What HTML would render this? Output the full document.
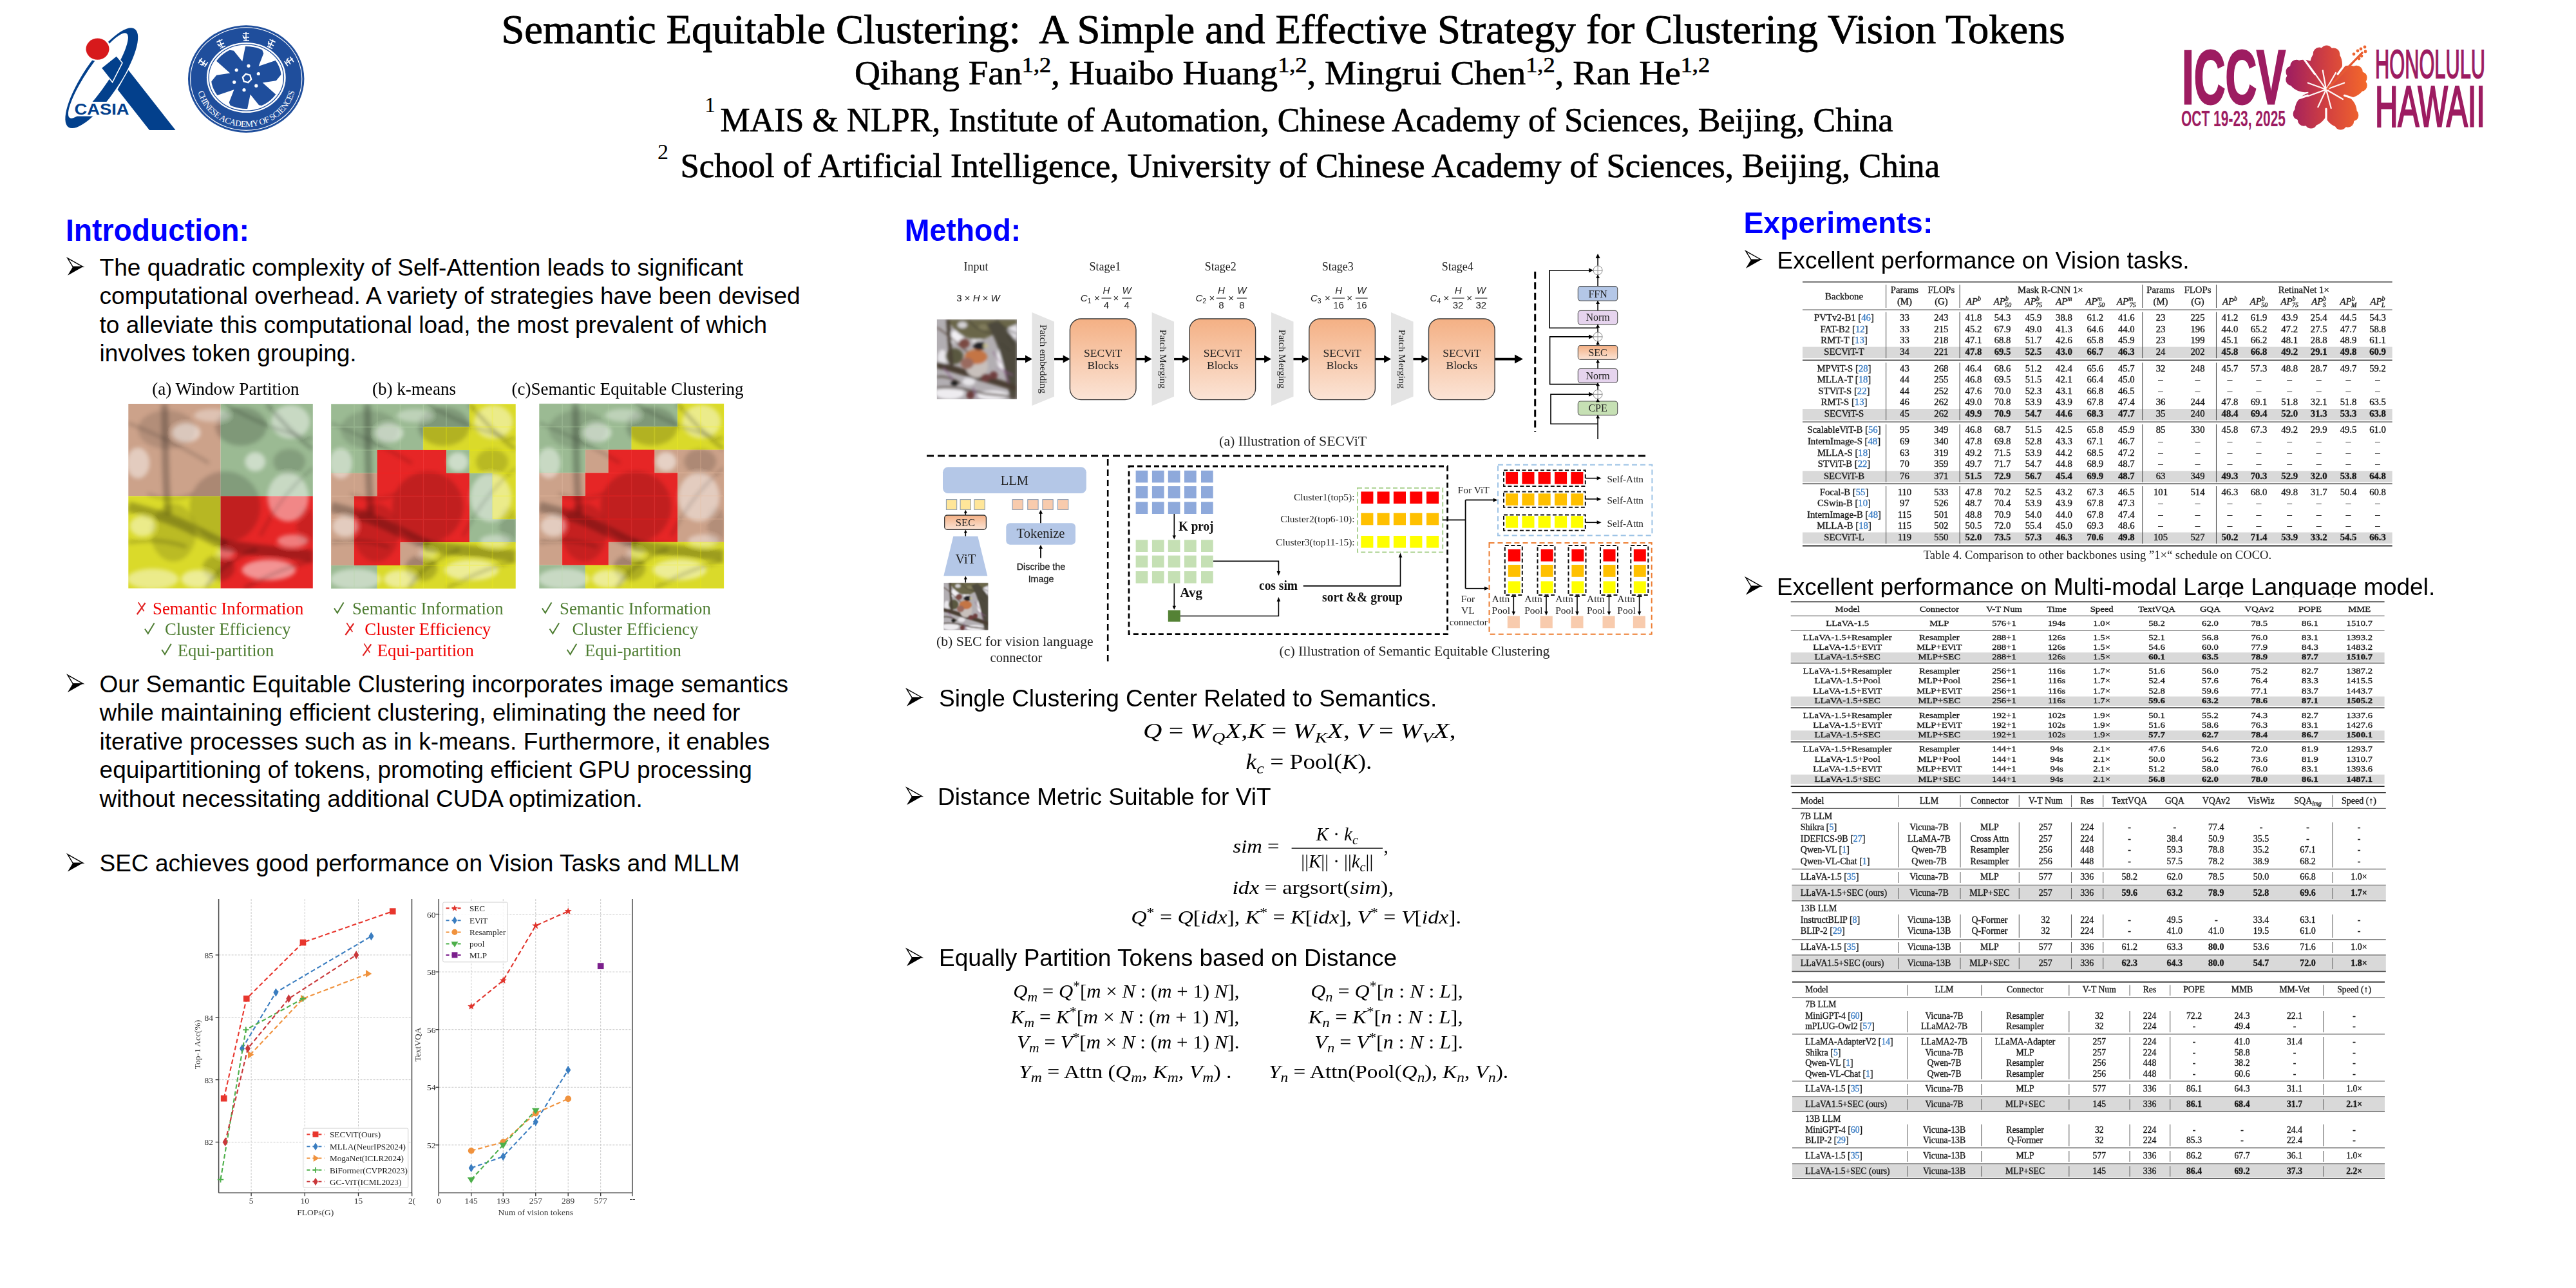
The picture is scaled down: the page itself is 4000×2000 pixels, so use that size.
<!DOCTYPE html>
<html><head><meta charset="utf-8"><title>SEC poster</title>
<style>html,body{margin:0;padding:0;background:#fff;} body{width:4000px;height:2000px;overflow:hidden;} svg{display:block;}</style>
</head><body>
<svg width="4000" height="2000" viewBox="0 0 4000 2000" style="font-family:'Liberation Sans', sans-serif">
<rect width="4000" height="2000" fill="#fff"/>
<g transform="translate(157.8,121.2) rotate(-56)">
<path fill-rule="evenodd" fill="#03408C" d="M-92,0 A92,28 0 1,0 92,0 A92,28 0 1,0 -92,0 Z M-79,-6.5 A79,17.5 0 1,0 79,-6.5 A79,17.5 0 1,0 -79,-6.5 Z"/>
</g>
<path d="M112.5,158 L198,158 L215,180.6 L112.5,180.6 Z" fill="#fff"/>
<path d="M182.5,139 L199.5,109 L272.5,202 L232,202 Z" fill="#03408C"/>
<path d="M157,105.5 L180.8,86.6 L190,97.5 L174.6,127.8 Z" fill="#03408C" stroke="#fff" stroke-width="1.6"/>
<ellipse cx="151.5" cy="76.2" rx="20.5" ry="19" fill="#fff"/>
<ellipse cx="151.5" cy="76.2" rx="18" ry="16.6" fill="#D7191C"/>
<text x="115.5" y="177.8" style="font-family:'Liberation Sans', sans-serif;font-size:24.6px;font-weight:700" fill="#03408C" textLength="85" lengthAdjust="spacingAndGlyphs">CASIA</text>
<ellipse cx="382.2" cy="122.6" rx="90.2" ry="83.3" fill="#1F4E9C"/>
<ellipse cx="382.2" cy="122.6" rx="86.6" ry="79.8" fill="none" stroke="#fff" stroke-width="1.1"/>
<ellipse cx="382.3" cy="120.5" rx="61.4" ry="54.6" fill="#fff"/>
<ellipse cx="382.3" cy="120.5" rx="58.2" ry="51.6" fill="none" stroke="#1F4E9C" stroke-width="1.3"/>
<clipPath id="casclip"><ellipse cx="382.3" cy="120.5" rx="54.5" ry="48.5"/></clipPath>
<path d="M393.32,123.9 L409.26,82.95 L403.95,68.77 L382.07,66.97 L371.68,118.1 Z M385.4,131.82 L428.83,125.15 L438.46,113.46 L429.08,93.61 L379.6,110.18 Z M374.58,128.92 L402.07,163.2 L417.01,165.69 L429.51,147.64 L390.42,113.08 Z M371.68,118.1 L355.74,159.05 L361.05,173.23 L382.93,175.03 L393.32,123.9 Z M379.6,110.18 L336.17,116.85 L326.54,128.54 L335.92,148.39 L385.4,131.82 Z M390.42,113.08 L362.93,78.8 L347.99,76.31 L335.49,94.36 L374.58,128.92 Z" fill="#1F4E9C" clip-path="url(#casclip)"/>
<circle cx="382.5" cy="121" r="17" fill="#1F4E9C"/>
<circle cx="385.97" cy="102.29" r="2.6" fill="#fff"/>
<circle cx="401.29" cy="114.5" r="2.6" fill="#fff"/>
<circle cx="397.82" cy="133.21" r="2.6" fill="#fff"/>
<circle cx="379.03" cy="139.71" r="2.6" fill="#fff"/>
<circle cx="363.71" cy="127.5" r="2.6" fill="#fff"/>
<circle cx="367.18" cy="108.79" r="2.6" fill="#fff"/>
<path d="M390.07,123.26 L385.26,128.07 L378.69,126.31 L376.93,119.74 L381.74,114.93 L388.31,116.69 Z" fill="none" stroke="#fff" stroke-width="2.4"/>
<path id="casarc" d="M306,135 A77,70 0 0,0 459,135" fill="none"/>
<text style="font-family:'Liberation Serif', serif;font-size:13.5px" fill="#fff" letter-spacing="-0.6"><textPath href="#casarc" startOffset="50%" text-anchor="middle">CHINESE ACADEMY OF SCIENCES</textPath></text>
<g transform="translate(315,97) rotate(-55)" stroke="#fff" stroke-width="1.6" fill="none"><path d="M-5,-5 L5,-5 M0,-7 L0,7 M-5,1 L5,1 M-4,6 L5,6 M-5,-2 L-2,4"/></g>
<g transform="translate(343,68) rotate(-25)" stroke="#fff" stroke-width="1.6" fill="none"><path d="M-5,-5 L5,-5 M0,-7 L0,7 M-5,1 L5,1 M-4,6 L5,6 M-5,-2 L-2,4"/></g>
<g transform="translate(382,57) rotate(0)" stroke="#fff" stroke-width="1.6" fill="none"><path d="M-5,-5 L5,-5 M0,-7 L0,7 M-5,1 L5,1 M-4,6 L5,6 M-5,-2 L-2,4"/></g>
<g transform="translate(421,68) rotate(25)" stroke="#fff" stroke-width="1.6" fill="none"><path d="M-5,-5 L5,-5 M0,-7 L0,7 M-5,1 L5,1 M-4,6 L5,6 M-5,-2 L-2,4"/></g>
<g transform="translate(449,95) rotate(55)" stroke="#fff" stroke-width="1.6" fill="none"><path d="M-5,-5 L5,-5 M0,-7 L0,7 M-5,1 L5,1 M-4,6 L5,6 M-5,-2 L-2,4"/></g>
<defs><linearGradient id="hib" gradientUnits="userSpaceOnUse" x1="3556" y1="0" x2="3676" y2="0"><stop offset="0" stop-color="#A2205E"/><stop offset="0.5" stop-color="#D4423F"/><stop offset="1" stop-color="#F4692A"/></linearGradient></defs>
<text x="3388" y="160.8" style="font-family:'Liberation Sans', sans-serif;font-size:118.5px;font-weight:700" fill="#9D1C61" textLength="161" lengthAdjust="spacingAndGlyphs" stroke="#9D1C61" stroke-width="3" stroke-linejoin="miter">ICCV</text>
<text x="3387" y="195.5" style="font-family:'Liberation Sans', sans-serif;font-size:35px;font-weight:700" fill="#9D1C61" textLength="162" lengthAdjust="spacingAndGlyphs">OCT 19-23, 2025</text>
<text x="3688" y="120.5" style="font-family:'Liberation Sans', sans-serif;font-size:62.5px;font-weight:400" fill="#9D1C61" textLength="171" lengthAdjust="spacingAndGlyphs" stroke="#9D1C61" stroke-width="1.8">HONOLULU</text>
<text x="3688" y="195.5" style="font-family:'Liberation Sans', sans-serif;font-size:89px;font-weight:400" fill="#9D1C61" textLength="171" lengthAdjust="spacingAndGlyphs" stroke="#9D1C61" stroke-width="3">HAWAII</text>
<clipPath id="hibclip"><ellipse cx="3612" cy="100" rx="27" ry="25" transform="rotate(-88 3612 100)"/><circle cx="3601.29" cy="83.11" r="9.5"/><circle cx="3612.7" cy="80.01" r="9.5"/><circle cx="3623.86" cy="83.9" r="9.5"/><ellipse cx="3647" cy="127" rx="27" ry="25" transform="rotate(-18 3647 127)"/><circle cx="3659.21" cy="111.16" r="9.5"/><circle cx="3666.02" cy="120.82" r="9.5"/><circle cx="3666.19" cy="132.64" r="9.5"/><ellipse cx="3634" cy="172" rx="27" ry="25" transform="rotate(54 3634 172)"/><circle cx="3652.84" cy="178.72" r="9.5"/><circle cx="3645.76" cy="188.18" r="9.5"/><circle cx="3634.57" cy="191.99" r="9.5"/><ellipse cx="3589" cy="170" rx="27" ry="25" transform="rotate(126 3589 170)"/><circle cx="3588.43" cy="189.99" r="9.5"/><circle cx="3577.24" cy="186.18" r="9.5"/><circle cx="3570.16" cy="176.72" r="9.5"/><ellipse cx="3578" cy="118" rx="27" ry="25" transform="rotate(198 3578 118)"/><circle cx="3558.81" cy="123.64" r="9.5"/><circle cx="3558.98" cy="111.82" r="9.5"/><circle cx="3565.79" cy="102.16" r="9.5"/><circle cx="3612" cy="139" r="28"/></clipPath>
<rect x="3540" y="66" width="150" height="145" fill="url(#hib)" clip-path="url(#hibclip)"/>
<path d="M3630.05,115.04 L3649.31,89.48 M3640.53,148.27 L3670.97,158.16 M3612,169 L3612,201 M3583.47,148.27 L3553.03,158.16 M3594.37,114.73 L3575.56,88.84" fill="none" stroke="#fff" stroke-width="3.2" stroke-linecap="round"/>
<path d="M3612,139 L3606.79,109.46 M3612,139 L3627,113.02 M3612,139 L3640.19,128.74 M3612,139 L3637.98,154 M3612,139 L3619.76,167.98 M3612,139 L3599.32,166.19 M3612,139 L3583.81,149.26 M3612,139 L3583.81,128.74 M3612,139 L3594.79,114.43" fill="none" stroke="#fff" stroke-width="2.2" stroke-linecap="round" opacity="0.95"/>
<path d="M3616,135 L3668,82" fill="none" stroke="url(#hib)" stroke-width="3.2" stroke-linecap="round"/>
<path d="M3614,138 L3668,82" fill="none" stroke="#E65A33" stroke-width="3" stroke-linecap="round"/>
<circle cx="3655" cy="84" r="2.4" fill="#EE6530"/>
<circle cx="3661" cy="79" r="2.4" fill="#EE6530"/>
<circle cx="3666" cy="76" r="2.4" fill="#EE6530"/>
<circle cx="3672" cy="73" r="2.4" fill="#EE6530"/>
<circle cx="3673" cy="80" r="2.4" fill="#EE6530"/>
<circle cx="3667" cy="87" r="2.4" fill="#EE6530"/>
<circle cx="3663" cy="91" r="2.4" fill="#EE6530"/>
<text x="778.5" y="67" style="font-family:'Liberation Serif', serif;font-size:64px" textLength="2428" lengthAdjust="spacingAndGlyphs" xml:space="preserve" stroke="#000" stroke-width="0.9">Semantic Equitable Clustering:  A Simple and Effective Strategy for Clustering Vision Tokens</text>
<text x="1327" y="131" style="font-family:'Liberation Serif', serif;font-size:52px" textLength="1328" lengthAdjust="spacingAndGlyphs" stroke="#000" stroke-width="0.7">Qihang Fan<tspan dy="-19" style="font-size:34px">1,2</tspan><tspan dy="19">, </tspan>Huaibo Huang<tspan dy="-19" style="font-size:34px">1,2</tspan><tspan dy="19">, </tspan>Mingrui Chen<tspan dy="-19" style="font-size:34px">1,2</tspan><tspan dy="19">, </tspan>Ran He<tspan dy="-19" style="font-size:34px">1,2</tspan></text>
<text x="1094" y="174" style="font-family:'Liberation Serif', serif;font-size:34px">1</text>
<text x="1118.5" y="204" style="font-family:'Liberation Serif', serif;font-size:52px" textLength="1821" lengthAdjust="spacingAndGlyphs" stroke="#000" stroke-width="0.7">MAIS &amp; NLPR, Institute of Automation, Chinese Academy of Sciences, Beijing, China</text>
<text x="1021" y="247" style="font-family:'Liberation Serif', serif;font-size:34px">2</text>
<text x="1056.5" y="275.2" style="font-family:'Liberation Serif', serif;font-size:52px" textLength="1955.5" lengthAdjust="spacingAndGlyphs" stroke="#000" stroke-width="0.7">School of Artificial Intelligence, University of Chinese Academy of Sciences, Beijing, China</text>
<text x="102" y="373.7" style="font-family:'Liberation Sans', sans-serif;font-size:47.5px;font-weight:700" fill="#0000FF" textLength="285" lengthAdjust="spacingAndGlyphs">Introduction:</text>
<path d="M105,400.9 L128.8,414.3 L113.1,414.3 Z" fill="none" stroke="#000" stroke-width="1.4" stroke-linejoin="miter"/>
<path d="M113.1,414.3 L128.8,414.3 L105,427.8 Z" fill="#000"/>
<text x="154.6" y="427.7" style="font-family:'Liberation Sans', sans-serif;font-size:37px">The quadratic complexity of Self-Attention leads to significant</text>
<text x="154.6" y="472.27" style="font-family:'Liberation Sans', sans-serif;font-size:37px">computational overhead. A variety of strategies have been devised</text>
<text x="154.6" y="516.84" style="font-family:'Liberation Sans', sans-serif;font-size:37px">to alleviate this computational load, the most prevalent of which</text>
<text x="154.6" y="561.41" style="font-family:'Liberation Sans', sans-serif;font-size:37px">involves token grouping.</text>
<path d="M105,1048.2 L128.8,1061.6 L113.1,1061.6 Z" fill="none" stroke="#000" stroke-width="1.4" stroke-linejoin="miter"/>
<path d="M113.1,1061.6 L128.8,1061.6 L105,1075.1 Z" fill="#000"/>
<text x="154.6" y="1074.8" style="font-family:'Liberation Sans', sans-serif;font-size:37px">Our Semantic Equitable Clustering incorporates image semantics</text>
<text x="154.6" y="1119.3" style="font-family:'Liberation Sans', sans-serif;font-size:37px">while maintaining efficient clustering, eliminating the need for</text>
<text x="154.6" y="1163.8" style="font-family:'Liberation Sans', sans-serif;font-size:37px">iterative processes such as in k-means. Furthermore, it enables</text>
<text x="154.6" y="1208.3" style="font-family:'Liberation Sans', sans-serif;font-size:37px">equipartitioning of tokens, promoting efficient GPU processing</text>
<text x="154.6" y="1252.8" style="font-family:'Liberation Sans', sans-serif;font-size:37px">without necessitating additional CUDA optimization.</text>
<path d="M105,1326.7 L128.8,1340.1 L113.1,1340.1 Z" fill="none" stroke="#000" stroke-width="1.4" stroke-linejoin="miter"/>
<path d="M113.1,1340.1 L128.8,1340.1 L105,1353.6 Z" fill="#000"/>
<text x="154.6" y="1353.3" style="font-family:'Liberation Sans', sans-serif;font-size:37px">SEC achieves good performance on Vision Tasks and MLLM</text>
<defs><filter id="blur3" x="-10%" y="-10%" width="120%" height="120%"><feGaussianBlur stdDeviation="3"/></filter></defs>
<clipPath id="cpa"><rect x="199.3" y="627" width="286.5" height="286.5"/></clipPath>
<rect x="199.3" y="627" width="143.25" height="143.25" fill="#CCA28A"/>
<rect x="342.55" y="627" width="143.25" height="143.25" fill="#9BBA93"/>
<rect x="199.3" y="770.25" width="143.25" height="143.25" fill="#DADA2A"/>
<rect x="342.55" y="770.25" width="143.25" height="143.25" fill="#E62626"/>
<g clip-path="url(#cpa)"><g transform="translate(199.3,627) scale(1)">
<g filter="url(#blur3)">
<ellipse cx="175" cy="35" rx="40" ry="30" fill="#000" opacity="0.18"/>
<ellipse cx="60" cy="40" rx="45" ry="30" fill="#000" opacity="0.12"/>
<ellipse cx="150" cy="160" rx="55" ry="55" fill="#000" opacity="0.16"/>
<ellipse cx="70" cy="200" rx="35" ry="45" fill="#000" opacity="0.14"/>
<ellipse cx="250" cy="90" rx="25" ry="20" fill="#000" opacity="0.15"/>
<ellipse cx="140" cy="255" rx="25" ry="20" fill="#000" opacity="0.2"/>
<ellipse cx="275" cy="190" rx="14" ry="30" fill="#000" opacity="0.12"/>
<ellipse cx="90" cy="45" rx="22" ry="15" fill="#fff" opacity="0.5"/>
<ellipse cx="15" cy="92" rx="18" ry="24" fill="#fff" opacity="0.45"/>
<ellipse cx="197" cy="90" rx="16" ry="15" fill="#fff" opacity="0.5"/>
<ellipse cx="248" cy="145" rx="32" ry="38" fill="#fff" opacity="0.45"/>
<ellipse cx="252" cy="28" rx="30" ry="26" fill="#fff" opacity="0.45"/>
<ellipse cx="38" cy="272" rx="40" ry="16" fill="#fff" opacity="0.45"/>
<ellipse cx="108" cy="272" rx="26" ry="14" fill="#fff" opacity="0.5"/>
<ellipse cx="218" cy="258" rx="42" ry="16" fill="#fff" opacity="0.5"/>
<ellipse cx="130" cy="18" rx="28" ry="10" fill="#fff" opacity="0.35"/>
<ellipse cx="22" cy="190" rx="20" ry="16" fill="#fff" opacity="0.45"/>
<ellipse cx="255" cy="213" rx="24" ry="10" fill="#fff" opacity="0.4"/>
<ellipse cx="150" cy="232" rx="14" ry="8" fill="#fff" opacity="0.3"/>
<path d="M56,0 C58,50 56,110 62,172" stroke="#000" stroke-width="11" fill="none" opacity="0.24"/>
<path d="M0,160 C30,168 60,175 100,195 S140,215 150,220" stroke="#000" stroke-width="16" fill="none" opacity="0.26"/>
<path d="M145,220 C190,226 240,232 286,236" stroke="#000" stroke-width="18" fill="none" opacity="0.28"/>
<path d="M0,30 C50,50 90,70 125,92" stroke="#000" stroke-width="4" fill="none" opacity="0.2"/>
<path d="M150,0 C190,25 240,45 286,55" stroke="#000" stroke-width="5" fill="none" opacity="0.2"/>
<path d="M215,0 C240,30 265,55 286,70" stroke="#000" stroke-width="6" fill="none" opacity="0.22"/>
<path d="M286,100 C250,130 225,165 205,205" stroke="#000" stroke-width="4" fill="none" opacity="0.18"/>
<path d="M120,286 C140,255 170,235 200,226" stroke="#000" stroke-width="6" fill="none" opacity="0.2"/>
<path d="M180,286 C220,265 255,250 286,244" stroke="#000" stroke-width="5" fill="none" opacity="0.2"/>
<path d="M30,140 C55,150 80,150 100,140" stroke="#000" stroke-width="4" fill="none" opacity="0.18"/>
<path d="M0,215 C30,210 60,212 90,222" stroke="#000" stroke-width="6" fill="none" opacity="0.18"/>
</g></g></g>
<clipPath id="cpb"><rect x="514.1" y="627.3" width="286.3" height="286.3"/></clipPath>
<rect x="514.1" y="627.3" width="36.09" height="36.09" fill="#9BBA93"/>
<rect x="549.89" y="627.3" width="36.09" height="36.09" fill="#9BBA93"/>
<rect x="585.68" y="627.3" width="36.09" height="36.09" fill="#9BBA93"/>
<rect x="621.46" y="627.3" width="36.09" height="36.09" fill="#9BBA93"/>
<rect x="657.25" y="627.3" width="36.09" height="36.09" fill="#9BBA93"/>
<rect x="693.04" y="627.3" width="36.09" height="36.09" fill="#9BBA93"/>
<rect x="728.83" y="627.3" width="36.09" height="36.09" fill="#DADA2A"/>
<rect x="764.61" y="627.3" width="36.09" height="36.09" fill="#DADA2A"/>
<rect x="514.1" y="663.09" width="36.09" height="36.09" fill="#9BBA93"/>
<rect x="549.89" y="663.09" width="36.09" height="36.09" fill="#9BBA93"/>
<rect x="585.68" y="663.09" width="36.09" height="36.09" fill="#9BBA93"/>
<rect x="621.46" y="663.09" width="36.09" height="36.09" fill="#9BBA93"/>
<rect x="657.25" y="663.09" width="36.09" height="36.09" fill="#DADA2A"/>
<rect x="693.04" y="663.09" width="36.09" height="36.09" fill="#DADA2A"/>
<rect x="728.83" y="663.09" width="36.09" height="36.09" fill="#DADA2A"/>
<rect x="764.61" y="663.09" width="36.09" height="36.09" fill="#DADA2A"/>
<rect x="514.1" y="698.88" width="36.09" height="36.09" fill="#9BBA93"/>
<rect x="549.89" y="698.88" width="36.09" height="36.09" fill="#9BBA93"/>
<rect x="585.68" y="698.88" width="36.09" height="36.09" fill="#E62626"/>
<rect x="621.46" y="698.88" width="36.09" height="36.09" fill="#E62626"/>
<rect x="657.25" y="698.88" width="36.09" height="36.09" fill="#E62626"/>
<rect x="693.04" y="698.88" width="36.09" height="36.09" fill="#9BBA93"/>
<rect x="728.83" y="698.88" width="36.09" height="36.09" fill="#DADA2A"/>
<rect x="764.61" y="698.88" width="36.09" height="36.09" fill="#DADA2A"/>
<rect x="514.1" y="734.66" width="36.09" height="36.09" fill="#CCA28A"/>
<rect x="549.89" y="734.66" width="36.09" height="36.09" fill="#CCA28A"/>
<rect x="585.68" y="734.66" width="36.09" height="36.09" fill="#E62626"/>
<rect x="621.46" y="734.66" width="36.09" height="36.09" fill="#E62626"/>
<rect x="657.25" y="734.66" width="36.09" height="36.09" fill="#E62626"/>
<rect x="693.04" y="734.66" width="36.09" height="36.09" fill="#E62626"/>
<rect x="728.83" y="734.66" width="36.09" height="36.09" fill="#9BBA93"/>
<rect x="764.61" y="734.66" width="36.09" height="36.09" fill="#DADA2A"/>
<rect x="514.1" y="770.45" width="36.09" height="36.09" fill="#CCA28A"/>
<rect x="549.89" y="770.45" width="36.09" height="36.09" fill="#E62626"/>
<rect x="585.68" y="770.45" width="36.09" height="36.09" fill="#E62626"/>
<rect x="621.46" y="770.45" width="36.09" height="36.09" fill="#E62626"/>
<rect x="657.25" y="770.45" width="36.09" height="36.09" fill="#E62626"/>
<rect x="693.04" y="770.45" width="36.09" height="36.09" fill="#E62626"/>
<rect x="728.83" y="770.45" width="36.09" height="36.09" fill="#9BBA93"/>
<rect x="764.61" y="770.45" width="36.09" height="36.09" fill="#DADA2A"/>
<rect x="514.1" y="806.24" width="36.09" height="36.09" fill="#CCA28A"/>
<rect x="549.89" y="806.24" width="36.09" height="36.09" fill="#E62626"/>
<rect x="585.68" y="806.24" width="36.09" height="36.09" fill="#E62626"/>
<rect x="621.46" y="806.24" width="36.09" height="36.09" fill="#E62626"/>
<rect x="657.25" y="806.24" width="36.09" height="36.09" fill="#E62626"/>
<rect x="693.04" y="806.24" width="36.09" height="36.09" fill="#E62626"/>
<rect x="728.83" y="806.24" width="36.09" height="36.09" fill="#9BBA93"/>
<rect x="764.61" y="806.24" width="36.09" height="36.09" fill="#9BBA93"/>
<rect x="514.1" y="842.02" width="36.09" height="36.09" fill="#CCA28A"/>
<rect x="549.89" y="842.02" width="36.09" height="36.09" fill="#E62626"/>
<rect x="585.68" y="842.02" width="36.09" height="36.09" fill="#E62626"/>
<rect x="621.46" y="842.02" width="36.09" height="36.09" fill="#CCA28A"/>
<rect x="657.25" y="842.02" width="36.09" height="36.09" fill="#DADA2A"/>
<rect x="693.04" y="842.02" width="36.09" height="36.09" fill="#DADA2A"/>
<rect x="728.83" y="842.02" width="36.09" height="36.09" fill="#DADA2A"/>
<rect x="764.61" y="842.02" width="36.09" height="36.09" fill="#DADA2A"/>
<rect x="514.1" y="877.81" width="36.09" height="36.09" fill="#9BBA93"/>
<rect x="549.89" y="877.81" width="36.09" height="36.09" fill="#9BBA93"/>
<rect x="585.68" y="877.81" width="36.09" height="36.09" fill="#DADA2A"/>
<rect x="621.46" y="877.81" width="36.09" height="36.09" fill="#DADA2A"/>
<rect x="657.25" y="877.81" width="36.09" height="36.09" fill="#DADA2A"/>
<rect x="693.04" y="877.81" width="36.09" height="36.09" fill="#DADA2A"/>
<rect x="728.83" y="877.81" width="36.09" height="36.09" fill="#DADA2A"/>
<rect x="764.61" y="877.81" width="36.09" height="36.09" fill="#DADA2A"/>
<g clip-path="url(#cpb)"><g transform="translate(514.1,627.3) scale(1)">
<g filter="url(#blur3)">
<ellipse cx="175" cy="35" rx="40" ry="30" fill="#000" opacity="0.18"/>
<ellipse cx="60" cy="40" rx="45" ry="30" fill="#000" opacity="0.12"/>
<ellipse cx="150" cy="160" rx="55" ry="55" fill="#000" opacity="0.16"/>
<ellipse cx="70" cy="200" rx="35" ry="45" fill="#000" opacity="0.14"/>
<ellipse cx="250" cy="90" rx="25" ry="20" fill="#000" opacity="0.15"/>
<ellipse cx="140" cy="255" rx="25" ry="20" fill="#000" opacity="0.2"/>
<ellipse cx="275" cy="190" rx="14" ry="30" fill="#000" opacity="0.12"/>
<ellipse cx="90" cy="45" rx="22" ry="15" fill="#fff" opacity="0.5"/>
<ellipse cx="15" cy="92" rx="18" ry="24" fill="#fff" opacity="0.45"/>
<ellipse cx="197" cy="90" rx="16" ry="15" fill="#fff" opacity="0.5"/>
<ellipse cx="248" cy="145" rx="32" ry="38" fill="#fff" opacity="0.45"/>
<ellipse cx="252" cy="28" rx="30" ry="26" fill="#fff" opacity="0.45"/>
<ellipse cx="38" cy="272" rx="40" ry="16" fill="#fff" opacity="0.45"/>
<ellipse cx="108" cy="272" rx="26" ry="14" fill="#fff" opacity="0.5"/>
<ellipse cx="218" cy="258" rx="42" ry="16" fill="#fff" opacity="0.5"/>
<ellipse cx="130" cy="18" rx="28" ry="10" fill="#fff" opacity="0.35"/>
<ellipse cx="22" cy="190" rx="20" ry="16" fill="#fff" opacity="0.45"/>
<ellipse cx="255" cy="213" rx="24" ry="10" fill="#fff" opacity="0.4"/>
<ellipse cx="150" cy="232" rx="14" ry="8" fill="#fff" opacity="0.3"/>
<path d="M56,0 C58,50 56,110 62,172" stroke="#000" stroke-width="11" fill="none" opacity="0.24"/>
<path d="M0,160 C30,168 60,175 100,195 S140,215 150,220" stroke="#000" stroke-width="16" fill="none" opacity="0.26"/>
<path d="M145,220 C190,226 240,232 286,236" stroke="#000" stroke-width="18" fill="none" opacity="0.28"/>
<path d="M0,30 C50,50 90,70 125,92" stroke="#000" stroke-width="4" fill="none" opacity="0.2"/>
<path d="M150,0 C190,25 240,45 286,55" stroke="#000" stroke-width="5" fill="none" opacity="0.2"/>
<path d="M215,0 C240,30 265,55 286,70" stroke="#000" stroke-width="6" fill="none" opacity="0.22"/>
<path d="M286,100 C250,130 225,165 205,205" stroke="#000" stroke-width="4" fill="none" opacity="0.18"/>
<path d="M120,286 C140,255 170,235 200,226" stroke="#000" stroke-width="6" fill="none" opacity="0.2"/>
<path d="M180,286 C220,265 255,250 286,244" stroke="#000" stroke-width="5" fill="none" opacity="0.2"/>
<path d="M30,140 C55,150 80,150 100,140" stroke="#000" stroke-width="4" fill="none" opacity="0.18"/>
<path d="M0,215 C30,210 60,212 90,222" stroke="#000" stroke-width="6" fill="none" opacity="0.18"/>
</g></g></g>
<rect x="514.6" y="627.8" width="34.79" height="34.79" fill="none" stroke="#B5D6A8" stroke-width="0.8" opacity=".3"/>
<rect x="550.39" y="627.8" width="34.79" height="34.79" fill="none" stroke="#B5D6A8" stroke-width="0.8" opacity=".3"/>
<rect x="586.18" y="627.8" width="34.79" height="34.79" fill="none" stroke="#B5D6A8" stroke-width="0.8" opacity=".3"/>
<rect x="621.96" y="627.8" width="34.79" height="34.79" fill="none" stroke="#B5D6A8" stroke-width="0.8" opacity=".3"/>
<rect x="657.75" y="627.8" width="34.79" height="34.79" fill="none" stroke="#B5D6A8" stroke-width="0.8" opacity=".3"/>
<rect x="693.54" y="627.8" width="34.79" height="34.79" fill="none" stroke="#B5D6A8" stroke-width="0.8" opacity=".3"/>
<rect x="729.33" y="627.8" width="34.79" height="34.79" fill="none" stroke="#F2F200" stroke-width="0.8" opacity=".3"/>
<rect x="765.11" y="627.8" width="34.79" height="34.79" fill="none" stroke="#F2F200" stroke-width="0.8" opacity=".3"/>
<rect x="514.6" y="663.59" width="34.79" height="34.79" fill="none" stroke="#B5D6A8" stroke-width="0.8" opacity=".3"/>
<rect x="550.39" y="663.59" width="34.79" height="34.79" fill="none" stroke="#B5D6A8" stroke-width="0.8" opacity=".3"/>
<rect x="586.18" y="663.59" width="34.79" height="34.79" fill="none" stroke="#B5D6A8" stroke-width="0.8" opacity=".3"/>
<rect x="621.96" y="663.59" width="34.79" height="34.79" fill="none" stroke="#B5D6A8" stroke-width="0.8" opacity=".3"/>
<rect x="657.75" y="663.59" width="34.79" height="34.79" fill="none" stroke="#F2F200" stroke-width="0.8" opacity=".3"/>
<rect x="693.54" y="663.59" width="34.79" height="34.79" fill="none" stroke="#F2F200" stroke-width="0.8" opacity=".3"/>
<rect x="729.33" y="663.59" width="34.79" height="34.79" fill="none" stroke="#F2F200" stroke-width="0.8" opacity=".3"/>
<rect x="765.11" y="663.59" width="34.79" height="34.79" fill="none" stroke="#F2F200" stroke-width="0.8" opacity=".3"/>
<rect x="514.6" y="699.38" width="34.79" height="34.79" fill="none" stroke="#B5D6A8" stroke-width="0.8" opacity=".3"/>
<rect x="550.39" y="699.38" width="34.79" height="34.79" fill="none" stroke="#B5D6A8" stroke-width="0.8" opacity=".3"/>
<rect x="586.18" y="699.38" width="34.79" height="34.79" fill="none" stroke="#FF2020" stroke-width="0.8" opacity=".3"/>
<rect x="621.96" y="699.38" width="34.79" height="34.79" fill="none" stroke="#FF2020" stroke-width="0.8" opacity=".3"/>
<rect x="657.75" y="699.38" width="34.79" height="34.79" fill="none" stroke="#FF2020" stroke-width="0.8" opacity=".3"/>
<rect x="693.54" y="699.38" width="34.79" height="34.79" fill="none" stroke="#B5D6A8" stroke-width="0.8" opacity=".3"/>
<rect x="729.33" y="699.38" width="34.79" height="34.79" fill="none" stroke="#F2F200" stroke-width="0.8" opacity=".3"/>
<rect x="765.11" y="699.38" width="34.79" height="34.79" fill="none" stroke="#F2F200" stroke-width="0.8" opacity=".3"/>
<rect x="514.6" y="735.16" width="34.79" height="34.79" fill="none" stroke="#E8B89C" stroke-width="0.8" opacity=".3"/>
<rect x="550.39" y="735.16" width="34.79" height="34.79" fill="none" stroke="#E8B89C" stroke-width="0.8" opacity=".3"/>
<rect x="586.18" y="735.16" width="34.79" height="34.79" fill="none" stroke="#FF2020" stroke-width="0.8" opacity=".3"/>
<rect x="621.96" y="735.16" width="34.79" height="34.79" fill="none" stroke="#FF2020" stroke-width="0.8" opacity=".3"/>
<rect x="657.75" y="735.16" width="34.79" height="34.79" fill="none" stroke="#FF2020" stroke-width="0.8" opacity=".3"/>
<rect x="693.54" y="735.16" width="34.79" height="34.79" fill="none" stroke="#FF2020" stroke-width="0.8" opacity=".3"/>
<rect x="729.33" y="735.16" width="34.79" height="34.79" fill="none" stroke="#B5D6A8" stroke-width="0.8" opacity=".3"/>
<rect x="765.11" y="735.16" width="34.79" height="34.79" fill="none" stroke="#F2F200" stroke-width="0.8" opacity=".3"/>
<rect x="514.6" y="770.95" width="34.79" height="34.79" fill="none" stroke="#E8B89C" stroke-width="0.8" opacity=".3"/>
<rect x="550.39" y="770.95" width="34.79" height="34.79" fill="none" stroke="#FF2020" stroke-width="0.8" opacity=".3"/>
<rect x="586.18" y="770.95" width="34.79" height="34.79" fill="none" stroke="#FF2020" stroke-width="0.8" opacity=".3"/>
<rect x="621.96" y="770.95" width="34.79" height="34.79" fill="none" stroke="#FF2020" stroke-width="0.8" opacity=".3"/>
<rect x="657.75" y="770.95" width="34.79" height="34.79" fill="none" stroke="#FF2020" stroke-width="0.8" opacity=".3"/>
<rect x="693.54" y="770.95" width="34.79" height="34.79" fill="none" stroke="#FF2020" stroke-width="0.8" opacity=".3"/>
<rect x="729.33" y="770.95" width="34.79" height="34.79" fill="none" stroke="#B5D6A8" stroke-width="0.8" opacity=".3"/>
<rect x="765.11" y="770.95" width="34.79" height="34.79" fill="none" stroke="#F2F200" stroke-width="0.8" opacity=".3"/>
<rect x="514.6" y="806.74" width="34.79" height="34.79" fill="none" stroke="#E8B89C" stroke-width="0.8" opacity=".3"/>
<rect x="550.39" y="806.74" width="34.79" height="34.79" fill="none" stroke="#FF2020" stroke-width="0.8" opacity=".3"/>
<rect x="586.18" y="806.74" width="34.79" height="34.79" fill="none" stroke="#FF2020" stroke-width="0.8" opacity=".3"/>
<rect x="621.96" y="806.74" width="34.79" height="34.79" fill="none" stroke="#FF2020" stroke-width="0.8" opacity=".3"/>
<rect x="657.75" y="806.74" width="34.79" height="34.79" fill="none" stroke="#FF2020" stroke-width="0.8" opacity=".3"/>
<rect x="693.54" y="806.74" width="34.79" height="34.79" fill="none" stroke="#FF2020" stroke-width="0.8" opacity=".3"/>
<rect x="729.33" y="806.74" width="34.79" height="34.79" fill="none" stroke="#B5D6A8" stroke-width="0.8" opacity=".3"/>
<rect x="765.11" y="806.74" width="34.79" height="34.79" fill="none" stroke="#B5D6A8" stroke-width="0.8" opacity=".3"/>
<rect x="514.6" y="842.52" width="34.79" height="34.79" fill="none" stroke="#E8B89C" stroke-width="0.8" opacity=".3"/>
<rect x="550.39" y="842.52" width="34.79" height="34.79" fill="none" stroke="#FF2020" stroke-width="0.8" opacity=".3"/>
<rect x="586.18" y="842.52" width="34.79" height="34.79" fill="none" stroke="#FF2020" stroke-width="0.8" opacity=".3"/>
<rect x="621.96" y="842.52" width="34.79" height="34.79" fill="none" stroke="#E8B89C" stroke-width="0.8" opacity=".3"/>
<rect x="657.75" y="842.52" width="34.79" height="34.79" fill="none" stroke="#F2F200" stroke-width="0.8" opacity=".3"/>
<rect x="693.54" y="842.52" width="34.79" height="34.79" fill="none" stroke="#F2F200" stroke-width="0.8" opacity=".3"/>
<rect x="729.33" y="842.52" width="34.79" height="34.79" fill="none" stroke="#F2F200" stroke-width="0.8" opacity=".3"/>
<rect x="765.11" y="842.52" width="34.79" height="34.79" fill="none" stroke="#F2F200" stroke-width="0.8" opacity=".3"/>
<rect x="514.6" y="878.31" width="34.79" height="34.79" fill="none" stroke="#B5D6A8" stroke-width="0.8" opacity=".3"/>
<rect x="550.39" y="878.31" width="34.79" height="34.79" fill="none" stroke="#B5D6A8" stroke-width="0.8" opacity=".3"/>
<rect x="586.18" y="878.31" width="34.79" height="34.79" fill="none" stroke="#F2F200" stroke-width="0.8" opacity=".3"/>
<rect x="621.96" y="878.31" width="34.79" height="34.79" fill="none" stroke="#F2F200" stroke-width="0.8" opacity=".3"/>
<rect x="657.75" y="878.31" width="34.79" height="34.79" fill="none" stroke="#F2F200" stroke-width="0.8" opacity=".3"/>
<rect x="693.54" y="878.31" width="34.79" height="34.79" fill="none" stroke="#F2F200" stroke-width="0.8" opacity=".3"/>
<rect x="729.33" y="878.31" width="34.79" height="34.79" fill="none" stroke="#F2F200" stroke-width="0.8" opacity=".3"/>
<rect x="765.11" y="878.31" width="34.79" height="34.79" fill="none" stroke="#F2F200" stroke-width="0.8" opacity=".3"/>
<clipPath id="cpc"><rect x="837.3" y="626.8" width="286.5" height="286.5"/></clipPath>
<rect x="837.3" y="626.8" width="36.11" height="36.11" fill="#9BBA93"/>
<rect x="873.11" y="626.8" width="36.11" height="36.11" fill="#9BBA93"/>
<rect x="908.92" y="626.8" width="36.11" height="36.11" fill="#9BBA93"/>
<rect x="944.74" y="626.8" width="36.11" height="36.11" fill="#9BBA93"/>
<rect x="980.55" y="626.8" width="36.11" height="36.11" fill="#9BBA93"/>
<rect x="1016.36" y="626.8" width="36.11" height="36.11" fill="#9BBA93"/>
<rect x="1052.17" y="626.8" width="36.11" height="36.11" fill="#DADA2A"/>
<rect x="1087.99" y="626.8" width="36.11" height="36.11" fill="#DADA2A"/>
<rect x="837.3" y="662.61" width="36.11" height="36.11" fill="#9BBA93"/>
<rect x="873.11" y="662.61" width="36.11" height="36.11" fill="#9BBA93"/>
<rect x="908.92" y="662.61" width="36.11" height="36.11" fill="#9BBA93"/>
<rect x="944.74" y="662.61" width="36.11" height="36.11" fill="#9BBA93"/>
<rect x="980.55" y="662.61" width="36.11" height="36.11" fill="#DADA2A"/>
<rect x="1016.36" y="662.61" width="36.11" height="36.11" fill="#DADA2A"/>
<rect x="1052.17" y="662.61" width="36.11" height="36.11" fill="#DADA2A"/>
<rect x="1087.99" y="662.61" width="36.11" height="36.11" fill="#DADA2A"/>
<rect x="837.3" y="698.42" width="36.11" height="36.11" fill="#9BBA93"/>
<rect x="873.11" y="698.42" width="36.11" height="36.11" fill="#9BBA93"/>
<rect x="908.92" y="698.42" width="36.11" height="36.11" fill="#CCA28A"/>
<rect x="944.74" y="698.42" width="36.11" height="36.11" fill="#E62626"/>
<rect x="980.55" y="698.42" width="36.11" height="36.11" fill="#E62626"/>
<rect x="1016.36" y="698.42" width="36.11" height="36.11" fill="#CCA28A"/>
<rect x="1052.17" y="698.42" width="36.11" height="36.11" fill="#CCA28A"/>
<rect x="1087.99" y="698.42" width="36.11" height="36.11" fill="#CCA28A"/>
<rect x="837.3" y="734.24" width="36.11" height="36.11" fill="#CCA28A"/>
<rect x="873.11" y="734.24" width="36.11" height="36.11" fill="#CCA28A"/>
<rect x="908.92" y="734.24" width="36.11" height="36.11" fill="#E62626"/>
<rect x="944.74" y="734.24" width="36.11" height="36.11" fill="#E62626"/>
<rect x="980.55" y="734.24" width="36.11" height="36.11" fill="#E62626"/>
<rect x="1016.36" y="734.24" width="36.11" height="36.11" fill="#E62626"/>
<rect x="1052.17" y="734.24" width="36.11" height="36.11" fill="#CCA28A"/>
<rect x="1087.99" y="734.24" width="36.11" height="36.11" fill="#CCA28A"/>
<rect x="837.3" y="770.05" width="36.11" height="36.11" fill="#CCA28A"/>
<rect x="873.11" y="770.05" width="36.11" height="36.11" fill="#E62626"/>
<rect x="908.92" y="770.05" width="36.11" height="36.11" fill="#E62626"/>
<rect x="944.74" y="770.05" width="36.11" height="36.11" fill="#E62626"/>
<rect x="980.55" y="770.05" width="36.11" height="36.11" fill="#E62626"/>
<rect x="1016.36" y="770.05" width="36.11" height="36.11" fill="#E62626"/>
<rect x="1052.17" y="770.05" width="36.11" height="36.11" fill="#CCA28A"/>
<rect x="1087.99" y="770.05" width="36.11" height="36.11" fill="#CCA28A"/>
<rect x="837.3" y="805.86" width="36.11" height="36.11" fill="#CCA28A"/>
<rect x="873.11" y="805.86" width="36.11" height="36.11" fill="#E62626"/>
<rect x="908.92" y="805.86" width="36.11" height="36.11" fill="#E62626"/>
<rect x="944.74" y="805.86" width="36.11" height="36.11" fill="#E62626"/>
<rect x="980.55" y="805.86" width="36.11" height="36.11" fill="#E62626"/>
<rect x="1016.36" y="805.86" width="36.11" height="36.11" fill="#E62626"/>
<rect x="1052.17" y="805.86" width="36.11" height="36.11" fill="#CCA28A"/>
<rect x="1087.99" y="805.86" width="36.11" height="36.11" fill="#CCA28A"/>
<rect x="837.3" y="841.67" width="36.11" height="36.11" fill="#CCA28A"/>
<rect x="873.11" y="841.67" width="36.11" height="36.11" fill="#E62626"/>
<rect x="908.92" y="841.67" width="36.11" height="36.11" fill="#E62626"/>
<rect x="944.74" y="841.67" width="36.11" height="36.11" fill="#CCA28A"/>
<rect x="980.55" y="841.67" width="36.11" height="36.11" fill="#DADA2A"/>
<rect x="1016.36" y="841.67" width="36.11" height="36.11" fill="#DADA2A"/>
<rect x="1052.17" y="841.67" width="36.11" height="36.11" fill="#DADA2A"/>
<rect x="1087.99" y="841.67" width="36.11" height="36.11" fill="#DADA2A"/>
<rect x="837.3" y="877.49" width="36.11" height="36.11" fill="#9BBA93"/>
<rect x="873.11" y="877.49" width="36.11" height="36.11" fill="#9BBA93"/>
<rect x="908.92" y="877.49" width="36.11" height="36.11" fill="#DADA2A"/>
<rect x="944.74" y="877.49" width="36.11" height="36.11" fill="#DADA2A"/>
<rect x="980.55" y="877.49" width="36.11" height="36.11" fill="#DADA2A"/>
<rect x="1016.36" y="877.49" width="36.11" height="36.11" fill="#DADA2A"/>
<rect x="1052.17" y="877.49" width="36.11" height="36.11" fill="#DADA2A"/>
<rect x="1087.99" y="877.49" width="36.11" height="36.11" fill="#DADA2A"/>
<g clip-path="url(#cpc)"><g transform="translate(837.3,626.8) scale(1)">
<g filter="url(#blur3)">
<ellipse cx="175" cy="35" rx="40" ry="30" fill="#000" opacity="0.18"/>
<ellipse cx="60" cy="40" rx="45" ry="30" fill="#000" opacity="0.12"/>
<ellipse cx="150" cy="160" rx="55" ry="55" fill="#000" opacity="0.16"/>
<ellipse cx="70" cy="200" rx="35" ry="45" fill="#000" opacity="0.14"/>
<ellipse cx="250" cy="90" rx="25" ry="20" fill="#000" opacity="0.15"/>
<ellipse cx="140" cy="255" rx="25" ry="20" fill="#000" opacity="0.2"/>
<ellipse cx="275" cy="190" rx="14" ry="30" fill="#000" opacity="0.12"/>
<ellipse cx="90" cy="45" rx="22" ry="15" fill="#fff" opacity="0.5"/>
<ellipse cx="15" cy="92" rx="18" ry="24" fill="#fff" opacity="0.45"/>
<ellipse cx="197" cy="90" rx="16" ry="15" fill="#fff" opacity="0.5"/>
<ellipse cx="248" cy="145" rx="32" ry="38" fill="#fff" opacity="0.45"/>
<ellipse cx="252" cy="28" rx="30" ry="26" fill="#fff" opacity="0.45"/>
<ellipse cx="38" cy="272" rx="40" ry="16" fill="#fff" opacity="0.45"/>
<ellipse cx="108" cy="272" rx="26" ry="14" fill="#fff" opacity="0.5"/>
<ellipse cx="218" cy="258" rx="42" ry="16" fill="#fff" opacity="0.5"/>
<ellipse cx="130" cy="18" rx="28" ry="10" fill="#fff" opacity="0.35"/>
<ellipse cx="22" cy="190" rx="20" ry="16" fill="#fff" opacity="0.45"/>
<ellipse cx="255" cy="213" rx="24" ry="10" fill="#fff" opacity="0.4"/>
<ellipse cx="150" cy="232" rx="14" ry="8" fill="#fff" opacity="0.3"/>
<path d="M56,0 C58,50 56,110 62,172" stroke="#000" stroke-width="11" fill="none" opacity="0.24"/>
<path d="M0,160 C30,168 60,175 100,195 S140,215 150,220" stroke="#000" stroke-width="16" fill="none" opacity="0.26"/>
<path d="M145,220 C190,226 240,232 286,236" stroke="#000" stroke-width="18" fill="none" opacity="0.28"/>
<path d="M0,30 C50,50 90,70 125,92" stroke="#000" stroke-width="4" fill="none" opacity="0.2"/>
<path d="M150,0 C190,25 240,45 286,55" stroke="#000" stroke-width="5" fill="none" opacity="0.2"/>
<path d="M215,0 C240,30 265,55 286,70" stroke="#000" stroke-width="6" fill="none" opacity="0.22"/>
<path d="M286,100 C250,130 225,165 205,205" stroke="#000" stroke-width="4" fill="none" opacity="0.18"/>
<path d="M120,286 C140,255 170,235 200,226" stroke="#000" stroke-width="6" fill="none" opacity="0.2"/>
<path d="M180,286 C220,265 255,250 286,244" stroke="#000" stroke-width="5" fill="none" opacity="0.2"/>
<path d="M30,140 C55,150 80,150 100,140" stroke="#000" stroke-width="4" fill="none" opacity="0.18"/>
<path d="M0,215 C30,210 60,212 90,222" stroke="#000" stroke-width="6" fill="none" opacity="0.18"/>
</g></g></g>
<rect x="837.8" y="627.3" width="34.81" height="34.81" fill="none" stroke="#B5D6A8" stroke-width="0.8" opacity=".3"/>
<rect x="873.61" y="627.3" width="34.81" height="34.81" fill="none" stroke="#B5D6A8" stroke-width="0.8" opacity=".3"/>
<rect x="909.42" y="627.3" width="34.81" height="34.81" fill="none" stroke="#B5D6A8" stroke-width="0.8" opacity=".3"/>
<rect x="945.24" y="627.3" width="34.81" height="34.81" fill="none" stroke="#B5D6A8" stroke-width="0.8" opacity=".3"/>
<rect x="981.05" y="627.3" width="34.81" height="34.81" fill="none" stroke="#B5D6A8" stroke-width="0.8" opacity=".3"/>
<rect x="1016.86" y="627.3" width="34.81" height="34.81" fill="none" stroke="#B5D6A8" stroke-width="0.8" opacity=".3"/>
<rect x="1052.67" y="627.3" width="34.81" height="34.81" fill="none" stroke="#F2F200" stroke-width="0.8" opacity=".3"/>
<rect x="1088.49" y="627.3" width="34.81" height="34.81" fill="none" stroke="#F2F200" stroke-width="0.8" opacity=".3"/>
<rect x="837.8" y="663.11" width="34.81" height="34.81" fill="none" stroke="#B5D6A8" stroke-width="0.8" opacity=".3"/>
<rect x="873.61" y="663.11" width="34.81" height="34.81" fill="none" stroke="#B5D6A8" stroke-width="0.8" opacity=".3"/>
<rect x="909.42" y="663.11" width="34.81" height="34.81" fill="none" stroke="#B5D6A8" stroke-width="0.8" opacity=".3"/>
<rect x="945.24" y="663.11" width="34.81" height="34.81" fill="none" stroke="#B5D6A8" stroke-width="0.8" opacity=".3"/>
<rect x="981.05" y="663.11" width="34.81" height="34.81" fill="none" stroke="#F2F200" stroke-width="0.8" opacity=".3"/>
<rect x="1016.86" y="663.11" width="34.81" height="34.81" fill="none" stroke="#F2F200" stroke-width="0.8" opacity=".3"/>
<rect x="1052.67" y="663.11" width="34.81" height="34.81" fill="none" stroke="#F2F200" stroke-width="0.8" opacity=".3"/>
<rect x="1088.49" y="663.11" width="34.81" height="34.81" fill="none" stroke="#F2F200" stroke-width="0.8" opacity=".3"/>
<rect x="837.8" y="698.92" width="34.81" height="34.81" fill="none" stroke="#B5D6A8" stroke-width="0.8" opacity=".3"/>
<rect x="873.61" y="698.92" width="34.81" height="34.81" fill="none" stroke="#B5D6A8" stroke-width="0.8" opacity=".3"/>
<rect x="909.42" y="698.92" width="34.81" height="34.81" fill="none" stroke="#E8B89C" stroke-width="0.8" opacity=".3"/>
<rect x="945.24" y="698.92" width="34.81" height="34.81" fill="none" stroke="#FF2020" stroke-width="0.8" opacity=".3"/>
<rect x="981.05" y="698.92" width="34.81" height="34.81" fill="none" stroke="#FF2020" stroke-width="0.8" opacity=".3"/>
<rect x="1016.86" y="698.92" width="34.81" height="34.81" fill="none" stroke="#E8B89C" stroke-width="0.8" opacity=".3"/>
<rect x="1052.67" y="698.92" width="34.81" height="34.81" fill="none" stroke="#E8B89C" stroke-width="0.8" opacity=".3"/>
<rect x="1088.49" y="698.92" width="34.81" height="34.81" fill="none" stroke="#E8B89C" stroke-width="0.8" opacity=".3"/>
<rect x="837.8" y="734.74" width="34.81" height="34.81" fill="none" stroke="#E8B89C" stroke-width="0.8" opacity=".3"/>
<rect x="873.61" y="734.74" width="34.81" height="34.81" fill="none" stroke="#E8B89C" stroke-width="0.8" opacity=".3"/>
<rect x="909.42" y="734.74" width="34.81" height="34.81" fill="none" stroke="#FF2020" stroke-width="0.8" opacity=".3"/>
<rect x="945.24" y="734.74" width="34.81" height="34.81" fill="none" stroke="#FF2020" stroke-width="0.8" opacity=".3"/>
<rect x="981.05" y="734.74" width="34.81" height="34.81" fill="none" stroke="#FF2020" stroke-width="0.8" opacity=".3"/>
<rect x="1016.86" y="734.74" width="34.81" height="34.81" fill="none" stroke="#FF2020" stroke-width="0.8" opacity=".3"/>
<rect x="1052.67" y="734.74" width="34.81" height="34.81" fill="none" stroke="#E8B89C" stroke-width="0.8" opacity=".3"/>
<rect x="1088.49" y="734.74" width="34.81" height="34.81" fill="none" stroke="#E8B89C" stroke-width="0.8" opacity=".3"/>
<rect x="837.8" y="770.55" width="34.81" height="34.81" fill="none" stroke="#E8B89C" stroke-width="0.8" opacity=".3"/>
<rect x="873.61" y="770.55" width="34.81" height="34.81" fill="none" stroke="#FF2020" stroke-width="0.8" opacity=".3"/>
<rect x="909.42" y="770.55" width="34.81" height="34.81" fill="none" stroke="#FF2020" stroke-width="0.8" opacity=".3"/>
<rect x="945.24" y="770.55" width="34.81" height="34.81" fill="none" stroke="#FF2020" stroke-width="0.8" opacity=".3"/>
<rect x="981.05" y="770.55" width="34.81" height="34.81" fill="none" stroke="#FF2020" stroke-width="0.8" opacity=".3"/>
<rect x="1016.86" y="770.55" width="34.81" height="34.81" fill="none" stroke="#FF2020" stroke-width="0.8" opacity=".3"/>
<rect x="1052.67" y="770.55" width="34.81" height="34.81" fill="none" stroke="#E8B89C" stroke-width="0.8" opacity=".3"/>
<rect x="1088.49" y="770.55" width="34.81" height="34.81" fill="none" stroke="#E8B89C" stroke-width="0.8" opacity=".3"/>
<rect x="837.8" y="806.36" width="34.81" height="34.81" fill="none" stroke="#E8B89C" stroke-width="0.8" opacity=".3"/>
<rect x="873.61" y="806.36" width="34.81" height="34.81" fill="none" stroke="#FF2020" stroke-width="0.8" opacity=".3"/>
<rect x="909.42" y="806.36" width="34.81" height="34.81" fill="none" stroke="#FF2020" stroke-width="0.8" opacity=".3"/>
<rect x="945.24" y="806.36" width="34.81" height="34.81" fill="none" stroke="#FF2020" stroke-width="0.8" opacity=".3"/>
<rect x="981.05" y="806.36" width="34.81" height="34.81" fill="none" stroke="#FF2020" stroke-width="0.8" opacity=".3"/>
<rect x="1016.86" y="806.36" width="34.81" height="34.81" fill="none" stroke="#FF2020" stroke-width="0.8" opacity=".3"/>
<rect x="1052.67" y="806.36" width="34.81" height="34.81" fill="none" stroke="#E8B89C" stroke-width="0.8" opacity=".3"/>
<rect x="1088.49" y="806.36" width="34.81" height="34.81" fill="none" stroke="#E8B89C" stroke-width="0.8" opacity=".3"/>
<rect x="837.8" y="842.17" width="34.81" height="34.81" fill="none" stroke="#E8B89C" stroke-width="0.8" opacity=".3"/>
<rect x="873.61" y="842.17" width="34.81" height="34.81" fill="none" stroke="#FF2020" stroke-width="0.8" opacity=".3"/>
<rect x="909.42" y="842.17" width="34.81" height="34.81" fill="none" stroke="#FF2020" stroke-width="0.8" opacity=".3"/>
<rect x="945.24" y="842.17" width="34.81" height="34.81" fill="none" stroke="#E8B89C" stroke-width="0.8" opacity=".3"/>
<rect x="981.05" y="842.17" width="34.81" height="34.81" fill="none" stroke="#F2F200" stroke-width="0.8" opacity=".3"/>
<rect x="1016.86" y="842.17" width="34.81" height="34.81" fill="none" stroke="#F2F200" stroke-width="0.8" opacity=".3"/>
<rect x="1052.67" y="842.17" width="34.81" height="34.81" fill="none" stroke="#F2F200" stroke-width="0.8" opacity=".3"/>
<rect x="1088.49" y="842.17" width="34.81" height="34.81" fill="none" stroke="#F2F200" stroke-width="0.8" opacity=".3"/>
<rect x="837.8" y="877.99" width="34.81" height="34.81" fill="none" stroke="#B5D6A8" stroke-width="0.8" opacity=".3"/>
<rect x="873.61" y="877.99" width="34.81" height="34.81" fill="none" stroke="#B5D6A8" stroke-width="0.8" opacity=".3"/>
<rect x="909.42" y="877.99" width="34.81" height="34.81" fill="none" stroke="#F2F200" stroke-width="0.8" opacity=".3"/>
<rect x="945.24" y="877.99" width="34.81" height="34.81" fill="none" stroke="#F2F200" stroke-width="0.8" opacity=".3"/>
<rect x="981.05" y="877.99" width="34.81" height="34.81" fill="none" stroke="#F2F200" stroke-width="0.8" opacity=".3"/>
<rect x="1016.86" y="877.99" width="34.81" height="34.81" fill="none" stroke="#F2F200" stroke-width="0.8" opacity=".3"/>
<rect x="1052.67" y="877.99" width="34.81" height="34.81" fill="none" stroke="#F2F200" stroke-width="0.8" opacity=".3"/>
<rect x="1088.49" y="877.99" width="34.81" height="34.81" fill="none" stroke="#F2F200" stroke-width="0.8" opacity=".3"/>
<text x="236.2" y="613" style="font-family:'Liberation Serif', serif;font-size:27px" textLength="228.4" lengthAdjust="spacingAndGlyphs">(a) Window Partition</text>
<text x="577.9" y="613" style="font-family:'Liberation Serif', serif;font-size:27px" textLength="130.1" lengthAdjust="spacingAndGlyphs">(b) k-means</text>
<text x="794.5" y="613" style="font-family:'Liberation Serif', serif;font-size:27px" textLength="359.9" lengthAdjust="spacingAndGlyphs">(c)Semantic Equitable Clustering</text>
<path d="M214.72,935.2 L223.68,949.3" fill="none" stroke="#E02020" stroke-width="1.6"/><path d="M225.6,936.14 L212.8,954" fill="none" stroke="#E02020" stroke-width="2.2"/>
<text x="237" y="954.2" style="font-family:'Liberation Serif', serif;font-size:26.8px" fill="#F00000" textLength="234.3" lengthAdjust="spacingAndGlyphs">Semantic Information</text>
<path d="M225,976.47 L229.82,983.8 L239.6,967.5" fill="none" stroke="#4E7D32" stroke-width="2" stroke-linejoin="miter" stroke-linecap="butt"/>
<text x="255.9" y="986.4" style="font-family:'Liberation Serif', serif;font-size:26.8px" fill="#4E7D32" textLength="195.6" lengthAdjust="spacingAndGlyphs">Cluster Efficiency</text>
<path d="M251.2,1008.76 L256.02,1016.1 L265.8,999.8" fill="none" stroke="#4E7D32" stroke-width="2" stroke-linejoin="miter" stroke-linecap="butt"/>
<text x="275.7" y="1018.8" style="font-family:'Liberation Serif', serif;font-size:26.8px" fill="#4E7D32" textLength="149.6" lengthAdjust="spacingAndGlyphs">Equi-partition</text>
<path d="M519,944.47 L523.82,951.8 L533.6,935.5" fill="none" stroke="#4E7D32" stroke-width="2" stroke-linejoin="miter" stroke-linecap="butt"/>
<text x="546.9" y="954.2" style="font-family:'Liberation Serif', serif;font-size:26.8px" fill="#4E7D32" textLength="234.8" lengthAdjust="spacingAndGlyphs">Semantic Information</text>
<path d="M538.32,967.2 L547.28,981.3" fill="none" stroke="#E02020" stroke-width="1.6"/><path d="M549.2,968.14 L536.4,986" fill="none" stroke="#E02020" stroke-width="2.2"/>
<text x="566.3" y="986.4" style="font-family:'Liberation Serif', serif;font-size:26.8px" fill="#F00000" textLength="196" lengthAdjust="spacingAndGlyphs">Cluster Efficiency</text>
<path d="M565.42,999.4 L574.38,1013.5" fill="none" stroke="#E02020" stroke-width="1.6"/><path d="M576.3,1000.34 L563.5,1018.2" fill="none" stroke="#E02020" stroke-width="2.2"/>
<text x="585.7" y="1018.8" style="font-family:'Liberation Serif', serif;font-size:26.8px" fill="#F00000" textLength="150.2" lengthAdjust="spacingAndGlyphs">Equi-partition</text>
<path d="M841.9,944.47 L846.72,951.8 L856.5,935.5" fill="none" stroke="#4E7D32" stroke-width="2" stroke-linejoin="miter" stroke-linecap="butt"/>
<text x="869" y="954.2" style="font-family:'Liberation Serif', serif;font-size:26.8px" fill="#4E7D32" textLength="234.9" lengthAdjust="spacingAndGlyphs">Semantic Information</text>
<path d="M853.5,976.47 L858.32,983.8 L868.1,967.5" fill="none" stroke="#4E7D32" stroke-width="2" stroke-linejoin="miter" stroke-linecap="butt"/>
<text x="888.5" y="986.4" style="font-family:'Liberation Serif', serif;font-size:26.8px" fill="#4E7D32" textLength="196" lengthAdjust="spacingAndGlyphs">Cluster Efficiency</text>
<path d="M880.7,1008.76 L885.52,1016.1 L895.3,999.8" fill="none" stroke="#4E7D32" stroke-width="2" stroke-linejoin="miter" stroke-linecap="butt"/>
<text x="907.9" y="1018.8" style="font-family:'Liberation Serif', serif;font-size:26.8px" fill="#4E7D32" textLength="150.1" lengthAdjust="spacingAndGlyphs">Equi-partition</text>
<line x1="390.1" y1="1396.1" x2="390.1" y2="1852.2" stroke="#C8C8C8" stroke-width="1" stroke-dasharray="3,2"/>
<line x1="473.3" y1="1396.1" x2="473.3" y2="1852.2" stroke="#C8C8C8" stroke-width="1" stroke-dasharray="3,2"/>
<line x1="556.5" y1="1396.1" x2="556.5" y2="1852.2" stroke="#C8C8C8" stroke-width="1" stroke-dasharray="3,2"/>
<line x1="339.6" y1="1773.45" x2="639.5" y2="1773.45" stroke="#C8C8C8" stroke-width="1" stroke-dasharray="3,2"/>
<line x1="339.6" y1="1676.6" x2="639.5" y2="1676.6" stroke="#C8C8C8" stroke-width="1" stroke-dasharray="3,2"/>
<line x1="339.6" y1="1579.75" x2="639.5" y2="1579.75" stroke="#C8C8C8" stroke-width="1" stroke-dasharray="3,2"/>
<line x1="339.6" y1="1482.9" x2="639.5" y2="1482.9" stroke="#C8C8C8" stroke-width="1" stroke-dasharray="3,2"/>
<line x1="339.6" y1="1396.1" x2="339.6" y2="1852.2" stroke="#444" stroke-width="1.5" />
<line x1="639.5" y1="1396.1" x2="639.5" y2="1852.2" stroke="#444" stroke-width="1.5" />
<line x1="339.6" y1="1852.2" x2="639.5" y2="1852.2" stroke="#444" stroke-width="1.5" />
<line x1="390.1" y1="1852.2" x2="390.1" y2="1857.2" stroke="#333" stroke-width="1.3" />
<line x1="473.3" y1="1852.2" x2="473.3" y2="1857.2" stroke="#333" stroke-width="1.3" />
<line x1="556.5" y1="1852.2" x2="556.5" y2="1857.2" stroke="#333" stroke-width="1.3" />
<line x1="639.7" y1="1852.2" x2="639.7" y2="1857.2" stroke="#333" stroke-width="1.3" />
<line x1="334.6" y1="1773.45" x2="339.6" y2="1773.45" stroke="#333" stroke-width="1.3" />
<line x1="334.6" y1="1676.6" x2="339.6" y2="1676.6" stroke="#333" stroke-width="1.3" />
<line x1="334.6" y1="1579.75" x2="339.6" y2="1579.75" stroke="#333" stroke-width="1.3" />
<line x1="334.6" y1="1482.9" x2="339.6" y2="1482.9" stroke="#333" stroke-width="1.3" />
<text x="390.1" y="1869" style="font-family:'Liberation Serif', serif;font-size:13.5px" fill="#333" text-anchor="middle">5</text>
<text x="473.3" y="1869" style="font-family:'Liberation Serif', serif;font-size:13.5px" fill="#333" text-anchor="middle">10</text>
<text x="556.5" y="1869" style="font-family:'Liberation Serif', serif;font-size:13.5px" fill="#333" text-anchor="middle">15</text>
<text x="639.5" y="1869" style="font-family:'Liberation Serif', serif;font-size:13.5px" fill="#333" text-anchor="middle">2(</text>
<text x="331" y="1778.45" style="font-family:'Liberation Serif', serif;font-size:13.5px" fill="#333" text-anchor="end">82</text>
<text x="331" y="1681.6" style="font-family:'Liberation Serif', serif;font-size:13.5px" fill="#333" text-anchor="end">83</text>
<text x="331" y="1584.75" style="font-family:'Liberation Serif', serif;font-size:13.5px" fill="#333" text-anchor="end">84</text>
<text x="331" y="1487.9" style="font-family:'Liberation Serif', serif;font-size:13.5px" fill="#333" text-anchor="end">85</text>
<text x="489.8" y="1886.5" style="font-family:'Liberation Serif', serif;font-size:13.5px" fill="#333" text-anchor="middle">FLOPs(G)</text>
<g transform="translate(311,1622) rotate(-90)"><text x="0" y="0" style="font-family:'Liberation Serif', serif;font-size:13.5px" fill="#333" text-anchor="middle">Top-1 Acc(%)</text></g>
<path d="M347.67,1705.65 L382.78,1550.7 L470.47,1463.53 L609.75,1415.1" fill="none" stroke="#E8362D" stroke-width="2.1" stroke-dasharray="7,4"/>
<rect x="342.83" y="1700.82" width="9.67" height="9.67" fill="#E8362D"/>
<rect x="377.94" y="1545.86" width="9.67" height="9.67" fill="#E8362D"/>
<rect x="465.64" y="1458.69" width="9.67" height="9.67" fill="#E8362D"/>
<rect x="604.91" y="1410.27" width="9.67" height="9.67" fill="#E8362D"/>
<path d="M375.96,1628.18 L428.37,1541.01 L576.47,1453.85" fill="none" stroke="#3A7DC0" stroke-width="2.1" stroke-dasharray="7,4"/>
<path d="M375.96,1621.55 L380.01,1628.18 L375.96,1634.81 L371.9,1628.18 Z" fill="#3A7DC0"/>
<path d="M428.37,1534.38 L432.43,1541.01 L428.37,1547.64 L424.32,1541.01 Z" fill="#3A7DC0"/>
<path d="M576.47,1447.22 L580.52,1453.85 L576.47,1460.48 L572.41,1453.85 Z" fill="#3A7DC0"/>
<path d="M388.44,1637.86 L470.47,1550.7 L571.48,1511.95" fill="none" stroke="#F0923D" stroke-width="2.1" stroke-dasharray="7,4"/>
<path d="M394.29,1637.86 L384.93,1632.01 L384.93,1643.71 Z" fill="#F0923D"/>
<path d="M476.32,1550.7 L466.96,1544.85 L466.96,1556.55 Z" fill="#F0923D"/>
<path d="M577.33,1511.95 L567.97,1506.11 L567.97,1517.8 Z" fill="#F0923D"/>
<path d="M342.51,1831.56 L381.78,1599.12 L470.47,1550.7" fill="none" stroke="#4DAF4A" stroke-width="2.1" stroke-dasharray="7,4"/>
<path d="M337.83,1831.56 L347.19,1831.56 M342.51,1826.88 L342.51,1836.24" fill="none" stroke="#4DAF4A" stroke-width="1.8"/>
<path d="M377.1,1599.12 L386.46,1599.12 M381.78,1594.44 L381.78,1603.8" fill="none" stroke="#4DAF4A" stroke-width="1.8"/>
<path d="M465.79,1550.7 L475.15,1550.7 M470.47,1546.02 L470.47,1555.38" fill="none" stroke="#4DAF4A" stroke-width="1.8"/>
<path d="M349.66,1773.45 L384.78,1628.18 L448.34,1550.7 L553.17,1482.9" fill="none" stroke="#C9383A" stroke-width="2.1" stroke-dasharray="7,4"/>
<path d="M349.66,1766.82 L353.72,1773.45 L349.66,1780.08 L345.61,1773.45 Z" fill="#C9383A"/>
<path d="M384.78,1621.55 L388.83,1628.18 L384.78,1634.81 L380.72,1628.18 Z" fill="#C9383A"/>
<path d="M448.34,1544.07 L452.4,1550.7 L448.34,1557.33 L444.28,1550.7 Z" fill="#C9383A"/>
<path d="M553.17,1476.27 L557.23,1482.9 L553.17,1489.53 L549.12,1482.9 Z" fill="#C9383A"/>
<rect x="470.8" y="1752" width="163" height="92" fill="#fff" stroke="#D0D0D0" stroke-width="1" rx="2" fill-opacity="0.85"/>
<line x1="476.4" y1="1761.4" x2="503.9" y2="1761.4" stroke="#E8362D" stroke-width="2" stroke-dasharray="5,4"/>
<rect x="485.54" y="1756.94" width="8.93" height="8.93" fill="#E8362D"/>
<text x="512" y="1766.2" style="font-family:'Liberation Serif', serif;font-size:13.2px" fill="#222">SECViT(Ours)</text>
<line x1="476.4" y1="1780.3" x2="503.9" y2="1780.3" stroke="#3A7DC0" stroke-width="2" stroke-dasharray="5,4"/>
<path d="M490,1774.18 L493.74,1780.3 L490,1786.42 L486.26,1780.3 Z" fill="#3A7DC0"/>
<text x="512" y="1785.1" style="font-family:'Liberation Serif', serif;font-size:13.2px" fill="#222">MLLA(NeurIPS2024)</text>
<line x1="476.4" y1="1798.5" x2="503.9" y2="1798.5" stroke="#F0923D" stroke-width="2" stroke-dasharray="5,4"/>
<path d="M495.4,1798.5 L486.76,1793.1 L486.76,1803.9 Z" fill="#F0923D"/>
<text x="512" y="1803.3" style="font-family:'Liberation Serif', serif;font-size:13.2px" fill="#222">MogaNet(ICLR2024)</text>
<line x1="476.4" y1="1816.7" x2="503.9" y2="1816.7" stroke="#4DAF4A" stroke-width="2" stroke-dasharray="5,4"/>
<path d="M485.68,1816.7 L494.32,1816.7 M490,1812.38 L490,1821.02" fill="none" stroke="#4DAF4A" stroke-width="1.8"/>
<text x="512" y="1821.5" style="font-family:'Liberation Serif', serif;font-size:13.2px" fill="#222">BiFormer(CVPR2023)</text>
<line x1="476.4" y1="1834.8" x2="503.9" y2="1834.8" stroke="#C9383A" stroke-width="2" stroke-dasharray="5,4"/>
<path d="M490,1828.68 L493.74,1834.8 L490,1840.92 L486.26,1834.8 Z" fill="#C9383A"/>
<text x="512" y="1839.6" style="font-family:'Liberation Serif', serif;font-size:13.2px" fill="#222">GC-ViT(ICML2023)</text>
<line x1="731.7" y1="1396.1" x2="731.7" y2="1852.2" stroke="#C8C8C8" stroke-width="1" stroke-dasharray="3,2"/>
<line x1="781.3" y1="1396.1" x2="781.3" y2="1852.2" stroke="#C8C8C8" stroke-width="1" stroke-dasharray="3,2"/>
<line x1="831.8" y1="1396.1" x2="831.8" y2="1852.2" stroke="#C8C8C8" stroke-width="1" stroke-dasharray="3,2"/>
<line x1="882.2" y1="1396.1" x2="882.2" y2="1852.2" stroke="#C8C8C8" stroke-width="1" stroke-dasharray="3,2"/>
<line x1="932.7" y1="1396.1" x2="932.7" y2="1852.2" stroke="#C8C8C8" stroke-width="1" stroke-dasharray="3,2"/>
<line x1="681.3" y1="1777.9" x2="981.9" y2="1777.9" stroke="#C8C8C8" stroke-width="1" stroke-dasharray="3,2"/>
<line x1="681.3" y1="1688.3" x2="981.9" y2="1688.3" stroke="#C8C8C8" stroke-width="1" stroke-dasharray="3,2"/>
<line x1="681.3" y1="1598.7" x2="981.9" y2="1598.7" stroke="#C8C8C8" stroke-width="1" stroke-dasharray="3,2"/>
<line x1="681.3" y1="1509.1" x2="981.9" y2="1509.1" stroke="#C8C8C8" stroke-width="1" stroke-dasharray="3,2"/>
<line x1="681.3" y1="1419.5" x2="981.9" y2="1419.5" stroke="#C8C8C8" stroke-width="1" stroke-dasharray="3,2"/>
<line x1="681.3" y1="1396.1" x2="681.3" y2="1852.2" stroke="#444" stroke-width="1.5" />
<line x1="981.9" y1="1396.1" x2="981.9" y2="1852.2" stroke="#444" stroke-width="1.5" />
<line x1="681.3" y1="1852.2" x2="981.9" y2="1852.2" stroke="#444" stroke-width="1.5" />
<line x1="681.3" y1="1852.2" x2="681.3" y2="1857.2" stroke="#333" stroke-width="1.3" />
<line x1="731.7" y1="1852.2" x2="731.7" y2="1857.2" stroke="#333" stroke-width="1.3" />
<line x1="781.3" y1="1852.2" x2="781.3" y2="1857.2" stroke="#333" stroke-width="1.3" />
<line x1="831.8" y1="1852.2" x2="831.8" y2="1857.2" stroke="#333" stroke-width="1.3" />
<line x1="882.2" y1="1852.2" x2="882.2" y2="1857.2" stroke="#333" stroke-width="1.3" />
<line x1="932.7" y1="1852.2" x2="932.7" y2="1857.2" stroke="#333" stroke-width="1.3" />
<line x1="981.9" y1="1852.2" x2="981.9" y2="1857.2" stroke="#333" stroke-width="1.3" />
<line x1="676.3" y1="1777.9" x2="681.3" y2="1777.9" stroke="#333" stroke-width="1.3" />
<line x1="676.3" y1="1688.3" x2="681.3" y2="1688.3" stroke="#333" stroke-width="1.3" />
<line x1="676.3" y1="1598.7" x2="681.3" y2="1598.7" stroke="#333" stroke-width="1.3" />
<line x1="676.3" y1="1509.1" x2="681.3" y2="1509.1" stroke="#333" stroke-width="1.3" />
<line x1="676.3" y1="1419.5" x2="681.3" y2="1419.5" stroke="#333" stroke-width="1.3" />
<text x="681.3" y="1869" style="font-family:'Liberation Serif', serif;font-size:13.5px" fill="#333" text-anchor="middle">0</text>
<text x="731.7" y="1869" style="font-family:'Liberation Serif', serif;font-size:13.5px" fill="#333" text-anchor="middle">145</text>
<text x="781.3" y="1869" style="font-family:'Liberation Serif', serif;font-size:13.5px" fill="#333" text-anchor="middle">193</text>
<text x="831.8" y="1869" style="font-family:'Liberation Serif', serif;font-size:13.5px" fill="#333" text-anchor="middle">257</text>
<text x="882.2" y="1869" style="font-family:'Liberation Serif', serif;font-size:13.5px" fill="#333" text-anchor="middle">289</text>
<text x="932.7" y="1869" style="font-family:'Liberation Serif', serif;font-size:13.5px" fill="#333" text-anchor="middle">577</text>
<text x="981.9" y="1866" style="font-family:'Liberation Serif', serif;font-size:13.5px" fill="#333" text-anchor="middle">--</text>
<text x="676.5" y="1782.9" style="font-family:'Liberation Serif', serif;font-size:13.5px" fill="#333" text-anchor="end">52</text>
<text x="676.5" y="1693.3" style="font-family:'Liberation Serif', serif;font-size:13.5px" fill="#333" text-anchor="end">54</text>
<text x="676.5" y="1603.7" style="font-family:'Liberation Serif', serif;font-size:13.5px" fill="#333" text-anchor="end">56</text>
<text x="676.5" y="1514.1" style="font-family:'Liberation Serif', serif;font-size:13.5px" fill="#333" text-anchor="end">58</text>
<text x="676.5" y="1424.5" style="font-family:'Liberation Serif', serif;font-size:13.5px" fill="#333" text-anchor="end">60</text>
<text x="831.8" y="1886.5" style="font-family:'Liberation Serif', serif;font-size:13.5px" fill="#333" text-anchor="middle">Num of vision tokens</text>
<g transform="translate(653,1622) rotate(-90)"><text x="0" y="0" style="font-family:'Liberation Serif', serif;font-size:13.5px" fill="#333" text-anchor="middle">TextVQA</text></g>
<path d="M731.7,1562.86 L781.3,1522.54 L831.8,1437.42 L882.2,1415.02" fill="none" stroke="#E0332B" stroke-width="2.1" stroke-dasharray="7,4"/>
<path d="M731.7,1557.01 L733.17,1560.84 L737.26,1561.05 L734.07,1563.63 L735.14,1567.59 L731.7,1565.36 L728.26,1567.59 L729.33,1563.63 L726.14,1561.05 L730.23,1560.84 Z" fill="#E0332B"/>
<path d="M781.3,1516.69 L782.77,1520.52 L786.86,1520.73 L783.67,1523.31 L784.74,1527.27 L781.3,1525.04 L777.86,1527.27 L778.93,1523.31 L775.74,1520.73 L779.83,1520.52 Z" fill="#E0332B"/>
<path d="M831.8,1431.57 L833.27,1435.4 L837.36,1435.61 L834.17,1438.19 L835.24,1442.15 L831.8,1439.92 L828.36,1442.15 L829.43,1438.19 L826.24,1435.61 L830.33,1435.4 Z" fill="#E0332B"/>
<path d="M882.2,1409.17 L883.67,1413 L887.76,1413.21 L884.57,1415.79 L885.64,1419.75 L882.2,1417.52 L878.76,1419.75 L879.83,1415.79 L876.64,1413.21 L880.73,1413 Z" fill="#E0332B"/>
<path d="M731.7,1813.74 L781.3,1795.82 L831.8,1742.06 L882.2,1661.42" fill="none" stroke="#3A7DC0" stroke-width="2.1" stroke-dasharray="7,4"/>
<path d="M731.7,1807.11 L735.76,1813.74 L731.7,1820.37 L727.64,1813.74 Z" fill="#3A7DC0"/>
<path d="M781.3,1789.19 L785.36,1795.82 L781.3,1802.45 L777.24,1795.82 Z" fill="#3A7DC0"/>
<path d="M831.8,1735.43 L835.86,1742.06 L831.8,1748.69 L827.74,1742.06 Z" fill="#3A7DC0"/>
<path d="M882.2,1654.79 L886.26,1661.42 L882.2,1668.05 L878.14,1661.42 Z" fill="#3A7DC0"/>
<path d="M731.7,1786.86 L781.3,1773.42 L831.8,1728.62 L882.2,1706.22" fill="none" stroke="#F0923D" stroke-width="2.1" stroke-dasharray="7,4"/>
<circle cx="731.7" cy="1786.86" r="4.91" fill="#F0923D"/>
<circle cx="781.3" cy="1773.42" r="4.91" fill="#F0923D"/>
<circle cx="831.8" cy="1728.62" r="4.91" fill="#F0923D"/>
<circle cx="882.2" cy="1706.22" r="4.91" fill="#F0923D"/>
<path d="M731.7,1831.66 L781.3,1777.9 L831.8,1724.14" fill="none" stroke="#4DAF4A" stroke-width="2.1" stroke-dasharray="7,4"/>
<path d="M731.7,1837.51 L725.85,1828.15 L737.55,1828.15 Z" fill="#4DAF4A"/>
<path d="M781.3,1783.75 L775.45,1774.39 L787.15,1774.39 Z" fill="#4DAF4A"/>
<path d="M831.8,1729.99 L825.95,1720.63 L837.65,1720.63 Z" fill="#4DAF4A"/>
<rect x="927.86" y="1495.3" width="9.67" height="9.67" fill="#7B1F8C"/>
<rect x="687.7" y="1401" width="100.5" height="92.8" fill="#fff" stroke="#D0D0D0" stroke-width="1" rx="2" fill-opacity="0.85"/>
<line x1="692.6" y1="1410.3" x2="719.6" y2="1410.3" stroke="#E0332B" stroke-width="2" stroke-dasharray="5,4"/>
<path d="M706,1404.9 L707.35,1408.44 L711.14,1408.63 L708.19,1411.01 L709.17,1414.67 L706,1412.6 L702.83,1414.67 L703.81,1411.01 L700.86,1408.63 L704.65,1408.44 Z" fill="#E0332B"/>
<text x="728.9" y="1415.1" style="font-family:'Liberation Serif', serif;font-size:13.2px" fill="#222">SEC</text>
<line x1="692.6" y1="1429.2" x2="719.6" y2="1429.2" stroke="#3A7DC0" stroke-width="2" stroke-dasharray="5,4"/>
<path d="M706,1423.08 L709.74,1429.2 L706,1435.32 L702.26,1429.2 Z" fill="#3A7DC0"/>
<text x="728.9" y="1434" style="font-family:'Liberation Serif', serif;font-size:13.2px" fill="#222">EViT</text>
<line x1="692.6" y1="1447.4" x2="719.6" y2="1447.4" stroke="#F0923D" stroke-width="2" stroke-dasharray="5,4"/>
<circle cx="706" cy="1447.4" r="4.54" fill="#F0923D"/>
<text x="728.9" y="1452.2" style="font-family:'Liberation Serif', serif;font-size:13.2px" fill="#222">Resampler</text>
<line x1="692.6" y1="1465.6" x2="719.6" y2="1465.6" stroke="#4DAF4A" stroke-width="2" stroke-dasharray="5,4"/>
<path d="M706,1471 L700.6,1462.36 L711.4,1462.36 Z" fill="#4DAF4A"/>
<text x="728.9" y="1470.4" style="font-family:'Liberation Serif', serif;font-size:13.2px" fill="#222">pool</text>
<line x1="692.6" y1="1482.9" x2="719.6" y2="1482.9" stroke="#7B1F8C" stroke-width="2" stroke-dasharray="5,4"/>
<rect x="701.54" y="1478.44" width="8.93" height="8.93" fill="#7B1F8C"/>
<text x="728.9" y="1487.7" style="font-family:'Liberation Serif', serif;font-size:13.2px" fill="#222">MLP</text>
<text x="1404.8" y="373.7" style="font-family:'Liberation Sans', sans-serif;font-size:47.5px;font-weight:700" fill="#0000FF" textLength="180.5" lengthAdjust="spacingAndGlyphs">Method:</text>
<defs><filter id="bblur" x="-5%" y="-5%" width="110%" height="110%"><feGaussianBlur stdDeviation="1.6"/></filter><linearGradient id="orgG" x1="0" y1="0" x2="0" y2="1"><stop offset="0" stop-color="#F4B084"/><stop offset="1" stop-color="#FBE4D6"/></linearGradient><symbol id="birdph" viewBox="0 0 100 100" preserveAspectRatio="none">
<rect width="100" height="100" fill="#B2AEB2"/>
<g filter="url(#bblur)">
<ellipse cx="24" cy="22" rx="9" ry="8" fill="#F2F0F4"/>
<ellipse cx="50" cy="25" rx="6" ry="7" fill="#F0EEF2"/>
<ellipse cx="84" cy="48" rx="9" ry="17" fill="#F2F0F4"/>
<ellipse cx="95" cy="15" rx="6" ry="10" fill="#E6E4EA"/>
<ellipse cx="16" cy="92" rx="18" ry="8" fill="#EEECF0"/>
<ellipse cx="70" cy="95" rx="20" ry="6" fill="#F0EEF2"/>
<ellipse cx="7" cy="48" rx="6" ry="10" fill="#E8E6EA"/>
<ellipse cx="40" cy="78" rx="8" ry="5" fill="#E6E4E8"/>
<path d="M12,0 L100,0 L100,6 C85,12 72,18 60,24 C46,27 32,23 24,14 C19,8 15,4 12,0 Z" fill="#6A6648"/>
<ellipse cx="32" cy="7" rx="6" ry="4" fill="#D4D2D6"/>
<ellipse cx="58" cy="10" rx="6" ry="4" fill="#807C5C"/>
<path d="M62,6 C78,28 84,60 92,100 L100,100 L100,30 C94,18 84,10 74,2 Z" fill="#4E4A3C"/>
<ellipse cx="22" cy="46" rx="11" ry="10" fill="#5A5840"/>
<path d="M0,53 C20,57 40,64 60,70 C75,74 90,79 100,83 L100,90 C85,86 70,81 55,77 C35,71 15,64 0,61 Z" fill="#4A3E32"/>
<path d="M14,0 C16,25 17,45 19,62" stroke="#4A4035" stroke-width="4.5" fill="none"/>
<path d="M0,10 C20,22 35,40 45,46" stroke="#5A4A40" stroke-width="1.6" fill="none"/>
<path d="M40,0 C45,10 55,15 70,18 M75,0 C80,8 90,14 100,18" stroke="#3E3A30" stroke-width="1.3" fill="none"/>
<path d="M88,20 L96,32 M80,30 L92,40" stroke="#3E3A30" stroke-width="1" fill="none"/>
<path d="M0,86 C20,83 40,89 60,93 L100,97" stroke="#5A5048" stroke-width="2.6" fill="none"/>
<path d="M0,72 C10,70 20,74 30,80" stroke="#4E4438" stroke-width="2" fill="none"/>
<ellipse cx="50" cy="58" rx="14" ry="15" fill="#C8C0BC"/>
<ellipse cx="49" cy="47" rx="14" ry="9" fill="#C47444"/>
<ellipse cx="53" cy="33" rx="7.5" ry="5.5" fill="#222126"/>
<ellipse cx="61" cy="33" rx="3" ry="2.3" fill="#C8C090"/>
<ellipse cx="38" cy="55" rx="8" ry="7" fill="#9A6A5E"/>
<ellipse cx="34" cy="30" rx="7" ry="6" fill="#7A4842"/>
<ellipse cx="61" cy="73" rx="6" ry="5" fill="#6E3E3E"/>
<ellipse cx="71" cy="70" rx="5" ry="5" fill="#6E3E3E"/>
<ellipse cx="42" cy="95" rx="5" ry="5" fill="#6A3A3A"/>
<ellipse cx="22" cy="80" rx="4.5" ry="3.5" fill="#1E1E1E"/>
<path d="M70,40 L80,55 M75,60 L95,70 M45,85 L52,100 M8,60 L20,75 M84,62 L90,80" stroke="#8A5A8A" stroke-width="1.1" fill="none"/>
</g>
</symbol></defs>
<text x="1515.5" y="419.6" style="font-family:'Liberation Serif', serif;font-size:18px" fill="#222" text-anchor="middle">Input</text>
<text x="1716" y="419.6" style="font-family:'Liberation Serif', serif;font-size:18px" fill="#222" text-anchor="middle">Stage1</text>
<text x="1895.3" y="419.6" style="font-family:'Liberation Serif', serif;font-size:18px" fill="#222" text-anchor="middle">Stage2</text>
<text x="2077.2" y="419.6" style="font-family:'Liberation Serif', serif;font-size:18px" fill="#222" text-anchor="middle">Stage3</text>
<text x="2263.2" y="419.6" style="font-family:'Liberation Serif', serif;font-size:18px" fill="#222" text-anchor="middle">Stage4</text>
<text x="1519" y="468.4" text-anchor="middle" style="font-family:'Liberation Sans', sans-serif;font-size:15px" fill="#222">3 × <tspan font-style="italic">H</tspan> × <tspan font-style="italic">W</tspan></text>
<text x="1677.7" y="468.4" style="font-family:'Liberation Sans', sans-serif;font-size:15px" fill="#222"><tspan font-style="italic">C</tspan><tspan style="font-size:10.5px" dy="3">1</tspan></text>
<text x="1703.5" y="468.4" style="font-family:'Liberation Sans', sans-serif;font-size:15px" fill="#222" text-anchor="middle">×</text>
<text x="1733" y="468.4" style="font-family:'Liberation Sans', sans-serif;font-size:15px" fill="#222" text-anchor="middle">×</text>
<text x="1718" y="456.4" style="font-family:'Liberation Sans', sans-serif;font-size:15px;font-style:italic" fill="#222" text-anchor="middle">H</text>
<line x1="1710.5" y1="463" x2="1725.5" y2="463" stroke="#222" stroke-width="1.1" />
<text x="1718" y="478.5" style="font-family:'Liberation Sans', sans-serif;font-size:15px" fill="#222" text-anchor="middle">4</text>
<text x="1749.7" y="456.4" style="font-family:'Liberation Sans', sans-serif;font-size:15px;font-style:italic" fill="#222" text-anchor="middle">W</text>
<line x1="1742.2" y1="463" x2="1757.2" y2="463" stroke="#222" stroke-width="1.1" />
<text x="1749.7" y="478.5" style="font-family:'Liberation Sans', sans-serif;font-size:15px" fill="#222" text-anchor="middle">4</text>
<text x="1856.4" y="468.4" style="font-family:'Liberation Sans', sans-serif;font-size:15px" fill="#222"><tspan font-style="italic">C</tspan><tspan style="font-size:10.5px" dy="3">2</tspan></text>
<text x="1882" y="468.4" style="font-family:'Liberation Sans', sans-serif;font-size:15px" fill="#222" text-anchor="middle">×</text>
<text x="1911.6" y="468.4" style="font-family:'Liberation Sans', sans-serif;font-size:15px" fill="#222" text-anchor="middle">×</text>
<text x="1896.3" y="456.4" style="font-family:'Liberation Sans', sans-serif;font-size:15px;font-style:italic" fill="#222" text-anchor="middle">H</text>
<line x1="1888.8" y1="463" x2="1903.8" y2="463" stroke="#222" stroke-width="1.1" />
<text x="1896.3" y="478.5" style="font-family:'Liberation Sans', sans-serif;font-size:15px" fill="#222" text-anchor="middle">8</text>
<text x="1928.3" y="456.4" style="font-family:'Liberation Sans', sans-serif;font-size:15px;font-style:italic" fill="#222" text-anchor="middle">W</text>
<line x1="1920.8" y1="463" x2="1935.8" y2="463" stroke="#222" stroke-width="1.1" />
<text x="1928.3" y="478.5" style="font-family:'Liberation Sans', sans-serif;font-size:15px" fill="#222" text-anchor="middle">8</text>
<text x="2035" y="468.4" style="font-family:'Liberation Sans', sans-serif;font-size:15px" fill="#222"><tspan font-style="italic">C</tspan><tspan style="font-size:10.5px" dy="3">3</tspan></text>
<text x="2061.5" y="468.4" style="font-family:'Liberation Sans', sans-serif;font-size:15px" fill="#222" text-anchor="middle">×</text>
<text x="2095.7" y="468.4" style="font-family:'Liberation Sans', sans-serif;font-size:15px" fill="#222" text-anchor="middle">×</text>
<text x="2078.6" y="456.4" style="font-family:'Liberation Sans', sans-serif;font-size:15px;font-style:italic" fill="#222" text-anchor="middle">H</text>
<line x1="2069.1" y1="463" x2="2088.1" y2="463" stroke="#222" stroke-width="1.1" />
<text x="2078.6" y="478.5" style="font-family:'Liberation Sans', sans-serif;font-size:15px" fill="#222" text-anchor="middle">16</text>
<text x="2114.3" y="456.4" style="font-family:'Liberation Sans', sans-serif;font-size:15px;font-style:italic" fill="#222" text-anchor="middle">W</text>
<line x1="2104.8" y1="463" x2="2123.8" y2="463" stroke="#222" stroke-width="1.1" />
<text x="2114.3" y="478.5" style="font-family:'Liberation Sans', sans-serif;font-size:15px" fill="#222" text-anchor="middle">16</text>
<text x="2220.6" y="468.4" style="font-family:'Liberation Sans', sans-serif;font-size:15px" fill="#222"><tspan font-style="italic">C</tspan><tspan style="font-size:10.5px" dy="3">4</tspan></text>
<text x="2246" y="468.4" style="font-family:'Liberation Sans', sans-serif;font-size:15px" fill="#222" text-anchor="middle">×</text>
<text x="2281.7" y="468.4" style="font-family:'Liberation Sans', sans-serif;font-size:15px" fill="#222" text-anchor="middle">×</text>
<text x="2264.1" y="456.4" style="font-family:'Liberation Sans', sans-serif;font-size:15px;font-style:italic" fill="#222" text-anchor="middle">H</text>
<line x1="2254.6" y1="463" x2="2273.6" y2="463" stroke="#222" stroke-width="1.1" />
<text x="2264.1" y="478.5" style="font-family:'Liberation Sans', sans-serif;font-size:15px" fill="#222" text-anchor="middle">32</text>
<text x="2299.8" y="456.4" style="font-family:'Liberation Sans', sans-serif;font-size:15px;font-style:italic" fill="#222" text-anchor="middle">W</text>
<line x1="2290.3" y1="463" x2="2309.3" y2="463" stroke="#222" stroke-width="1.1" />
<text x="2299.8" y="478.5" style="font-family:'Liberation Sans', sans-serif;font-size:15px" fill="#222" text-anchor="middle">32</text>
<use href="#birdph" x="1454.6" y="496" width="124.4" height="124"/>
<line x1="1578.4" y1="557.6" x2="1593" y2="557.6" stroke="#000" stroke-width="3.4" /><path d="M1603,557.6 L1592,551.6 L1592,563.6 Z" fill="#000"/>
<line x1="1636.5" y1="557.6" x2="1651.7" y2="557.6" stroke="#000" stroke-width="3.4" /><path d="M1661.7,557.6 L1650.7,551.6 L1650.7,563.6 Z" fill="#000"/>
<line x1="1763.9" y1="557.6" x2="1778.6" y2="557.6" stroke="#000" stroke-width="3.4" /><path d="M1788.6,557.6 L1777.6,551.6 L1777.6,563.6 Z" fill="#000"/>
<line x1="1822" y1="557.6" x2="1837.2" y2="557.6" stroke="#000" stroke-width="3.4" /><path d="M1847.2,557.6 L1836.2,551.6 L1836.2,563.6 Z" fill="#000"/>
<line x1="1949.4" y1="557.6" x2="1964.1" y2="557.6" stroke="#000" stroke-width="3.4" /><path d="M1974.1,557.6 L1963.1,551.6 L1963.1,563.6 Z" fill="#000"/>
<line x1="2007.6" y1="557.6" x2="2022.8" y2="557.6" stroke="#000" stroke-width="3.4" /><path d="M2032.8,557.6 L2021.8,551.6 L2021.8,563.6 Z" fill="#000"/>
<line x1="2134.9" y1="557.6" x2="2150.1" y2="557.6" stroke="#000" stroke-width="3.4" /><path d="M2160.1,557.6 L2149.1,551.6 L2149.1,563.6 Z" fill="#000"/>
<line x1="2193.6" y1="557.6" x2="2208.3" y2="557.6" stroke="#000" stroke-width="3.4" /><path d="M2218.3,557.6 L2207.3,551.6 L2207.3,563.6 Z" fill="#000"/>
<line x1="2320.5" y1="557.6" x2="2353" y2="557.6" stroke="#000" stroke-width="3.6" /><path d="M2365,557.6 L2352,550.6 L2352,564.6 Z" fill="#000"/>
<path d="M1602.5,485 L1637,499.4 L1637,615.7 L1602.5,630 Z" fill="#E4E4E4"/>
<g transform="translate(1614.75,557.5) rotate(90)"><text x="0" y="0" style="font-family:'Liberation Serif', serif;font-size:15.5px" fill="#222" text-anchor="middle">Patch embedding</text></g>
<path d="M1788.6,485 L1823.1,499.4 L1823.1,615.7 L1788.6,630 Z" fill="#E4E4E4"/>
<g transform="translate(1800.85,557.5) rotate(90)"><text x="0" y="0" style="font-family:'Liberation Serif', serif;font-size:15.5px" fill="#222" text-anchor="middle">Patch Merging</text></g>
<path d="M1974,485 L2008.5,499.4 L2008.5,615.7 L1974,630 Z" fill="#E4E4E4"/>
<g transform="translate(1986.25,557.5) rotate(90)"><text x="0" y="0" style="font-family:'Liberation Serif', serif;font-size:15.5px" fill="#222" text-anchor="middle">Patch Merging</text></g>
<path d="M2160,485 L2194.5,499.4 L2194.5,615.7 L2160,630 Z" fill="#E4E4E4"/>
<g transform="translate(2172.25,557.5) rotate(90)"><text x="0" y="0" style="font-family:'Liberation Serif', serif;font-size:15.5px" fill="#222" text-anchor="middle">Patch Merging</text></g>
<rect x="1661.4" y="495" width="102.6" height="125.6" fill="url(#orgG)" stroke="#3A3A3A" stroke-width="1.4" rx="17"/>
<text x="1712.7" y="554" style="font-family:'Liberation Serif', serif;font-size:17.5px" fill="#222" text-anchor="middle">SECViT</text>
<text x="1712.7" y="572.7" style="font-family:'Liberation Serif', serif;font-size:17.5px" fill="#222" text-anchor="middle">Blocks</text>
<rect x="1847" y="495" width="102.6" height="125.6" fill="url(#orgG)" stroke="#3A3A3A" stroke-width="1.4" rx="17"/>
<text x="1898.3" y="554" style="font-family:'Liberation Serif', serif;font-size:17.5px" fill="#222" text-anchor="middle">SECViT</text>
<text x="1898.3" y="572.7" style="font-family:'Liberation Serif', serif;font-size:17.5px" fill="#222" text-anchor="middle">Blocks</text>
<rect x="2032.8" y="495" width="102.6" height="125.6" fill="url(#orgG)" stroke="#3A3A3A" stroke-width="1.4" rx="17"/>
<text x="2084.1" y="554" style="font-family:'Liberation Serif', serif;font-size:17.5px" fill="#222" text-anchor="middle">SECViT</text>
<text x="2084.1" y="572.7" style="font-family:'Liberation Serif', serif;font-size:17.5px" fill="#222" text-anchor="middle">Blocks</text>
<rect x="2218.5" y="495" width="102.6" height="125.6" fill="url(#orgG)" stroke="#3A3A3A" stroke-width="1.4" rx="17"/>
<text x="2269.8" y="554" style="font-family:'Liberation Serif', serif;font-size:17.5px" fill="#222" text-anchor="middle">SECViT</text>
<text x="2269.8" y="572.7" style="font-family:'Liberation Serif', serif;font-size:17.5px" fill="#222" text-anchor="middle">Blocks</text>
<line x1="2383.7" y1="421.7" x2="2383.7" y2="670.7" stroke="#000" stroke-width="3" stroke-dasharray="11,5.5"/>
<line x1="2481.1" y1="681.9" x2="2481.1" y2="400" stroke="#000" stroke-width="1.6" />
<path d="M2481.1,393.7 L2477.6,401 L2484.6,401 Z" fill="#000"/>
<rect x="2450.3" y="444.6" width="61.4" height="22.4" fill="#B4C7E7" stroke="#555" stroke-width="1.1" rx="4"/>
<text x="2481.1" y="461.7" style="font-family:'Liberation Serif', serif;font-size:16px" fill="#222" text-anchor="middle">FFN</text>
<path d="M2481.1,467 L2478.1,472 L2484.1,472 Z" fill="#000"/>
<rect x="2450.3" y="482.4" width="61.4" height="21.3" fill="#E6D4EE" stroke="#555" stroke-width="1.1" rx="4"/>
<text x="2481.1" y="498.4" style="font-family:'Liberation Serif', serif;font-size:16px" fill="#222" text-anchor="middle">Norm</text>
<path d="M2481.1,503.7 L2478.1,508.7 L2484.1,508.7 Z" fill="#000"/>
<rect x="2450.3" y="536.5" width="61.4" height="21.9" fill="url(#orgG)" stroke="#555" stroke-width="1.1" rx="4"/>
<text x="2481.1" y="553.1" style="font-family:'Liberation Serif', serif;font-size:16px" fill="#222" text-anchor="middle">SEC</text>
<path d="M2481.1,558.4 L2478.1,563.4 L2484.1,563.4 Z" fill="#000"/>
<rect x="2450.3" y="572.5" width="61.4" height="21.7" fill="#E6D4EE" stroke="#555" stroke-width="1.1" rx="4"/>
<text x="2481.1" y="588.9" style="font-family:'Liberation Serif', serif;font-size:16px" fill="#222" text-anchor="middle">Norm</text>
<path d="M2481.1,594.2 L2478.1,599.2 L2484.1,599.2 Z" fill="#000"/>
<rect x="2450.3" y="623" width="61.4" height="21.6" fill="#C6E0B4" stroke="#555" stroke-width="1.1" rx="4"/>
<text x="2481.1" y="639.3" style="font-family:'Liberation Serif', serif;font-size:16px" fill="#222" text-anchor="middle">CPE</text>
<path d="M2481.1,644.6 L2478.1,649.6 L2484.1,649.6 Z" fill="#000"/>
<circle cx="2481.1" cy="419.8" r="7" fill="#fff" stroke="#888" stroke-width="1"/>
<line x1="2474.1" y1="419.8" x2="2488.1" y2="419.8" stroke="#888" stroke-width="1" /><line x1="2481.1" y1="412.8" x2="2481.1" y2="426.8" stroke="#888" stroke-width="1" />
<path d="M2481.1,426.8 L2478.1,431.8 L2484.1,431.8 Z" fill="#000"/>
<circle cx="2481.1" cy="522.9" r="7" fill="#fff" stroke="#888" stroke-width="1"/>
<line x1="2474.1" y1="522.9" x2="2488.1" y2="522.9" stroke="#888" stroke-width="1" /><line x1="2481.1" y1="515.9" x2="2481.1" y2="529.9" stroke="#888" stroke-width="1" />
<path d="M2481.1,529.9 L2478.1,534.9 L2484.1,534.9 Z" fill="#000"/>
<circle cx="2481.1" cy="612.3" r="7" fill="#fff" stroke="#888" stroke-width="1"/>
<line x1="2474.1" y1="612.3" x2="2488.1" y2="612.3" stroke="#888" stroke-width="1" /><line x1="2481.1" y1="605.3" x2="2481.1" y2="619.3" stroke="#888" stroke-width="1" />
<path d="M2481.1,619.3 L2478.1,624.3 L2484.1,624.3 Z" fill="#000"/>
<path d="M2481.1,509.2 L2406.1,509.2 L2406.1,419.8 L2468.1,419.8" fill="none" stroke="#000" stroke-width="1.6"/>
<path d="M2474.1,419.8 L2467.1,416.3 L2467.1,423.3 Z" fill="#000"/>
<path d="M2481.1,596.6 L2406.6,596.6 L2406.6,522.9 L2468.1,522.9" fill="none" stroke="#000" stroke-width="1.6"/>
<path d="M2474.1,522.9 L2467.1,519.4 L2467.1,526.4 Z" fill="#000"/>
<path d="M2481.1,658.3 L2408,658.3 L2408,612.3 L2468.1,612.3" fill="none" stroke="#000" stroke-width="1.6"/>
<path d="M2474.1,612.3 L2467.1,608.8 L2467.1,615.8 Z" fill="#000"/>
<text x="2007.6" y="692" style="font-family:'Liberation Serif', serif;font-size:20.5px" fill="#222" text-anchor="middle" textLength="229" lengthAdjust="spacingAndGlyphs">(a) Illustration of SECViT</text>
<line x1="1439" y1="707.7" x2="2561" y2="707.7" stroke="#000" stroke-width="3" stroke-dasharray="11,6"/>
<line x1="1720.2" y1="713" x2="1720.2" y2="1030" stroke="#000" stroke-width="2.6" stroke-dasharray="10,6"/>
<rect x="1464" y="725.3" width="222.8" height="40.7" fill="#B4C7E7" rx="8"/>
<text x="1575.4" y="752.5" style="font-family:'Liberation Serif', serif;font-size:20.5px" fill="#222" text-anchor="middle">LLM</text>
<rect x="1469.4" y="775.6" width="16.3" height="15.8" fill="#FFE699" stroke="#8497B0" stroke-width="1"/>
<rect x="1491.1" y="775.6" width="16.3" height="15.8" fill="#FFE699" stroke="#8497B0" stroke-width="1"/>
<rect x="1512.9" y="775.6" width="16.3" height="15.8" fill="#FFE699" stroke="#8497B0" stroke-width="1"/>
<rect x="1572.1" y="775.6" width="16.3" height="15.8" fill="#F8CBAD" stroke="#8497B0" stroke-width="1"/>
<rect x="1595.8" y="775.6" width="16.3" height="15.8" fill="#F8CBAD" stroke="#8497B0" stroke-width="1"/>
<rect x="1618.9" y="775.6" width="16.3" height="15.8" fill="#F8CBAD" stroke="#8497B0" stroke-width="1"/>
<rect x="1642.5" y="775.6" width="16.3" height="15.8" fill="#F8CBAD" stroke="#8497B0" stroke-width="1"/>
<line x1="1499.3" y1="800" x2="1499.3" y2="795.8" stroke="#000" stroke-width="1.6" /><path d="M1499.3,791.8 L1496.8,796.8 L1501.8,796.8 Z" fill="#000"/>
<rect x="1466.7" y="800" width="64.7" height="22.3" fill="url(#orgG)" stroke="#333" stroke-width="1.3" rx="4"/>
<text x="1499" y="817" style="font-family:'Liberation Serif', serif;font-size:16.5px" fill="#222" text-anchor="middle">SEC</text>
<line x1="1499.3" y1="832.7" x2="1499.3" y2="826.6" stroke="#000" stroke-width="1.6" /><path d="M1499.3,822.6 L1496.8,827.6 L1501.8,827.6 Z" fill="#000"/>
<path d="M1480.3,832.7 L1518.3,832.7 L1533.3,894.3 L1465.3,894.3 Z" fill="#B4C7E7"/>
<text x="1499.3" y="874.8" style="font-family:'Liberation Serif', serif;font-size:20.5px" fill="#222" text-anchor="middle">ViT</text>
<line x1="1499.3" y1="904.7" x2="1499.3" y2="898.6" stroke="#000" stroke-width="1.6" /><path d="M1499.3,894.6 L1496.8,899.6 L1501.8,899.6 Z" fill="#000"/>
<use href="#birdph" x="1465.3" y="904.7" width="69.3" height="73.9"/>
<rect x="1562.3" y="812.3" width="107.7" height="33.4" fill="#B4C7E7" rx="6"/>
<text x="1616" y="835.4" style="font-family:'Liberation Serif', serif;font-size:20.5px" fill="#222" text-anchor="middle">Tokenize</text>
<line x1="1616" y1="812.3" x2="1616" y2="796.8" stroke="#000" stroke-width="1.8" /><path d="M1616,791.8 L1613,797.8 L1619,797.8 Z" fill="#000"/>
<line x1="1616" y1="866.6" x2="1616" y2="851" stroke="#000" stroke-width="1.8" /><path d="M1616,846 L1613,852 L1619,852 Z" fill="#000"/>
<text x="1616.5" y="885" style="font-family:'Liberation Sans', sans-serif;font-size:14.3px" fill="#222" text-anchor="middle" stroke="#222" stroke-width="0.3">Discribe the</text>
<text x="1616.5" y="904" style="font-family:'Liberation Sans', sans-serif;font-size:14.3px" fill="#222" text-anchor="middle" stroke="#222" stroke-width="0.3">Image</text>
<text x="1453.9" y="1002.5" style="font-family:'Liberation Serif', serif;font-size:20.5px" fill="#222" textLength="243.8" lengthAdjust="spacingAndGlyphs">(b) SEC for vision language</text>
<text x="1578" y="1028.3" style="font-family:'Liberation Serif', serif;font-size:20.5px" fill="#222" text-anchor="middle">connector</text>
<rect x="1753" y="724" width="494.6" height="260.6" fill="none" stroke="#000" stroke-width="2.8" stroke-dasharray="8,5"/>
<rect x="1763.6" y="730.7" width="18.7" height="18.7" fill="#8EA9DB"/>
<rect x="1788.9" y="730.7" width="18.7" height="18.7" fill="#8EA9DB"/>
<rect x="1813.8" y="730.7" width="18.7" height="18.7" fill="#8EA9DB"/>
<rect x="1839" y="730.7" width="18.7" height="18.7" fill="#8EA9DB"/>
<rect x="1865" y="730.7" width="18.7" height="18.7" fill="#8EA9DB"/>
<rect x="1763.6" y="755" width="18.7" height="18.7" fill="#8EA9DB"/>
<rect x="1788.9" y="755" width="18.7" height="18.7" fill="#8EA9DB"/>
<rect x="1813.8" y="755" width="18.7" height="18.7" fill="#8EA9DB"/>
<rect x="1839" y="755" width="18.7" height="18.7" fill="#8EA9DB"/>
<rect x="1865" y="755" width="18.7" height="18.7" fill="#8EA9DB"/>
<rect x="1763.6" y="779.3" width="18.7" height="18.7" fill="#8EA9DB"/>
<rect x="1788.9" y="779.3" width="18.7" height="18.7" fill="#8EA9DB"/>
<rect x="1813.8" y="779.3" width="18.7" height="18.7" fill="#8EA9DB"/>
<rect x="1839" y="779.3" width="18.7" height="18.7" fill="#8EA9DB"/>
<rect x="1865" y="779.3" width="18.7" height="18.7" fill="#8EA9DB"/>
<rect x="1763.6" y="838.3" width="18.7" height="18.7" fill="#C5E0B4"/>
<rect x="1788.9" y="838.3" width="18.7" height="18.7" fill="#C5E0B4"/>
<rect x="1813.8" y="838.3" width="18.7" height="18.7" fill="#C5E0B4"/>
<rect x="1839" y="838.3" width="18.7" height="18.7" fill="#C5E0B4"/>
<rect x="1865" y="838.3" width="18.7" height="18.7" fill="#C5E0B4"/>
<rect x="1763.6" y="862.6" width="18.7" height="18.7" fill="#C5E0B4"/>
<rect x="1788.9" y="862.6" width="18.7" height="18.7" fill="#C5E0B4"/>
<rect x="1813.8" y="862.6" width="18.7" height="18.7" fill="#C5E0B4"/>
<rect x="1839" y="862.6" width="18.7" height="18.7" fill="#C5E0B4"/>
<rect x="1865" y="862.6" width="18.7" height="18.7" fill="#C5E0B4"/>
<rect x="1763.6" y="887" width="18.7" height="18.7" fill="#C5E0B4"/>
<rect x="1788.9" y="887" width="18.7" height="18.7" fill="#C5E0B4"/>
<rect x="1813.8" y="887" width="18.7" height="18.7" fill="#C5E0B4"/>
<rect x="1839" y="887" width="18.7" height="18.7" fill="#C5E0B4"/>
<rect x="1865" y="887" width="18.7" height="18.7" fill="#C5E0B4"/>
<rect x="1813.8" y="947.5" width="19" height="18" fill="#548235"/>
<line x1="1823.3" y1="798" x2="1823.3" y2="832.5" stroke="#000" stroke-width="1.6" /><path d="M1823.3,837.5 L1820.55,831.5 L1826.05,831.5 Z" fill="#000"/>
<line x1="1823.3" y1="906" x2="1823.3" y2="941.8" stroke="#000" stroke-width="1.6" /><path d="M1823.3,946.8 L1820.55,940.8 L1826.05,940.8 Z" fill="#000"/>
<text x="1830" y="823.7" style="font-family:'Liberation Serif', serif;font-size:21px;font-weight:700" fill="#111" textLength="54.5" lengthAdjust="spacingAndGlyphs">K proj</text>
<text x="1832.3" y="927.2" style="font-family:'Liberation Serif', serif;font-size:21px;font-weight:700" fill="#111">Avg</text>
<path d="M1884,871.4 L1985.4,871.4 L1985.4,888" fill="none" stroke="#000" stroke-width="1.6"/>
<path d="M1985.4,894 L1982.6,887 L1988.2,887 Z" fill="#000"/>
<path d="M1832.8,956.5 L1985.4,956.5 L1985.4,933" fill="none" stroke="#000" stroke-width="1.6"/>
<path d="M1985.4,927 L1982.6,934 L1988.2,934 Z" fill="#000"/>
<text x="1955" y="916" style="font-family:'Liberation Serif', serif;font-size:21px;font-weight:700" fill="#111" textLength="60" lengthAdjust="spacingAndGlyphs">cos sim</text>
<path d="M2023.7,909.9 L2174.5,909.9 L2174.5,865" fill="none" stroke="#000" stroke-width="1.6"/>
<path d="M2174.5,858.6 L2171.7,865.6 L2177.3,865.6 Z" fill="#000"/>
<text x="2053" y="934" style="font-family:'Liberation Serif', serif;font-size:21px;font-weight:700" fill="#111" textLength="124.9" lengthAdjust="spacingAndGlyphs">sort &amp;&amp; group</text>
<text x="2103.6" y="777" style="font-family:'Liberation Serif', serif;font-size:15.5px" fill="#222" text-anchor="end">Cluster1(top5):</text>
<text x="2103.6" y="811.3" style="font-family:'Liberation Serif', serif;font-size:15.5px" fill="#222" text-anchor="end">Cluster2(top6-10):</text>
<text x="2103.6" y="847.3" style="font-family:'Liberation Serif', serif;font-size:15.5px" fill="#222" text-anchor="end">Cluster3(top11-15):</text>
<rect x="2108" y="757.7" width="132.2" height="99.8" fill="none" stroke="#A9D18E" stroke-width="2" stroke-dasharray="7,4"/>
<rect x="2113.3" y="763.4" width="19.1" height="18.6" fill="#FF0000"/>
<rect x="2138.5" y="763.4" width="19.1" height="18.6" fill="#FF0000"/>
<rect x="2163.9" y="763.4" width="19.1" height="18.6" fill="#FF0000"/>
<rect x="2189.3" y="763.4" width="19.1" height="18.6" fill="#FF0000"/>
<rect x="2215" y="763.4" width="19.1" height="18.6" fill="#FF0000"/>
<rect x="2113.3" y="796.7" width="19.1" height="18.6" fill="#FFC000"/>
<rect x="2138.5" y="796.7" width="19.1" height="18.6" fill="#FFC000"/>
<rect x="2163.9" y="796.7" width="19.1" height="18.6" fill="#FFC000"/>
<rect x="2189.3" y="796.7" width="19.1" height="18.6" fill="#FFC000"/>
<rect x="2215" y="796.7" width="19.1" height="18.6" fill="#FFC000"/>
<rect x="2113.3" y="832" width="19.1" height="18.6" fill="#FFFF00"/>
<rect x="2138.5" y="832" width="19.1" height="18.6" fill="#FFFF00"/>
<rect x="2163.9" y="832" width="19.1" height="18.6" fill="#FFFF00"/>
<rect x="2189.3" y="832" width="19.1" height="18.6" fill="#FFFF00"/>
<rect x="2215" y="832" width="19.1" height="18.6" fill="#FFFF00"/>
<path d="M2240,807.3 L2275.6,807.3" fill="none" stroke="#000" stroke-width="1.8"/>
<path d="M2275.6,776.4 L2275.6,913.8" fill="none" stroke="#000" stroke-width="1.8"/>
<line x1="2275.6" y1="776.4" x2="2319.6" y2="776.4" stroke="#000" stroke-width="1.8" /><path d="M2325.6,776.4 L2318.6,773.4 L2318.6,779.4 Z" fill="#000"/>
<line x1="2275.6" y1="913.8" x2="2306" y2="913.8" stroke="#000" stroke-width="1.8" /><path d="M2312,913.8 L2305,910.8 L2305,916.8 Z" fill="#000"/>
<text x="2263.6" y="766.3" style="font-family:'Liberation Serif', serif;font-size:15.5px" fill="#222">For ViT</text>
<rect x="2326" y="721.7" width="239.4" height="109.9" fill="none" stroke="#9DC3E6" stroke-width="2" stroke-dasharray="8,5"/>
<rect x="2338" y="733" width="19.1" height="18.7" fill="#FF0000"/>
<rect x="2363.4" y="733" width="19.1" height="18.7" fill="#FF0000"/>
<rect x="2388.6" y="733" width="19.1" height="18.7" fill="#FF0000"/>
<rect x="2414" y="733" width="19.1" height="18.7" fill="#FF0000"/>
<rect x="2439.3" y="733" width="19.1" height="18.7" fill="#FF0000"/>
<rect x="2335" y="730.3" width="126.8" height="24.7" fill="none" stroke="#111" stroke-width="2" stroke-dasharray="6,3.5"/>
<line x1="2461.8" y1="742.6" x2="2480.6" y2="742.6" stroke="#000" stroke-width="1.6" /><path d="M2486.6,742.6 L2479.6,739.6 L2479.6,745.6 Z" fill="#000"/>
<text x="2495.6" y="749.4" style="font-family:'Liberation Serif', serif;font-size:15.5px" fill="#222" textLength="56.3" lengthAdjust="spacingAndGlyphs">Self-Attn</text>
<rect x="2338" y="766.3" width="19.1" height="18.5" fill="#FFC000"/>
<rect x="2363.4" y="766.3" width="19.1" height="18.5" fill="#FFC000"/>
<rect x="2388.6" y="766.3" width="19.1" height="18.5" fill="#FFC000"/>
<rect x="2414" y="766.3" width="19.1" height="18.5" fill="#FFC000"/>
<rect x="2439.3" y="766.3" width="19.1" height="18.5" fill="#FFC000"/>
<rect x="2335" y="763.4" width="126.8" height="24.3" fill="none" stroke="#111" stroke-width="2" stroke-dasharray="6,3.5"/>
<line x1="2461.8" y1="774.9" x2="2480.6" y2="774.9" stroke="#000" stroke-width="1.6" /><path d="M2486.6,774.9 L2479.6,771.9 L2479.6,777.9 Z" fill="#000"/>
<text x="2495.6" y="781.6" style="font-family:'Liberation Serif', serif;font-size:15.5px" fill="#222" textLength="56.3" lengthAdjust="spacingAndGlyphs">Self-Attn</text>
<rect x="2338" y="801.2" width="19.1" height="18.5" fill="#FFFF00"/>
<rect x="2363.4" y="801.2" width="19.1" height="18.5" fill="#FFFF00"/>
<rect x="2388.6" y="801.2" width="19.1" height="18.5" fill="#FFFF00"/>
<rect x="2414" y="801.2" width="19.1" height="18.5" fill="#FFFF00"/>
<rect x="2439.3" y="801.2" width="19.1" height="18.5" fill="#FFFF00"/>
<rect x="2335" y="799.4" width="126.8" height="24.3" fill="none" stroke="#111" stroke-width="2" stroke-dasharray="6,3.5"/>
<line x1="2461.8" y1="811.3" x2="2480.6" y2="811.3" stroke="#000" stroke-width="1.6" /><path d="M2486.6,811.3 L2479.6,808.3 L2479.6,814.3 Z" fill="#000"/>
<text x="2495.6" y="818" style="font-family:'Liberation Serif', serif;font-size:15.5px" fill="#222" textLength="56.3" lengthAdjust="spacingAndGlyphs">Self-Attn</text>
<rect x="2312.5" y="842.9" width="252.2" height="141.8" fill="none" stroke="#ED7D31" stroke-width="2" stroke-dasharray="8,5"/>
<rect x="2341.8" y="853" width="19" height="18.7" fill="#FF0000"/>
<rect x="2341.8" y="877" width="19" height="18.8" fill="#FFC000"/>
<rect x="2341.8" y="902.5" width="19" height="18.7" fill="#FFFF00"/>
<rect x="2336.8" y="846.9" width="27" height="77" fill="none" stroke="#111" stroke-width="2" stroke-dasharray="6,3.5"/>
<text x="2316.6" y="935.2" style="font-family:'Liberation Serif', serif;font-size:15.5px" fill="#222">Attn</text>
<text x="2316.6" y="953.2" style="font-family:'Liberation Serif', serif;font-size:15.5px" fill="#222">Pool</text>
<line x1="2346.3" y1="926.2" x2="2354.3" y2="926.2" stroke="#000" stroke-width="1.6" />
<line x1="2350.3" y1="926.2" x2="2350.3" y2="950.4" stroke="#000" stroke-width="1.6" /><path d="M2350.3,955.4 L2347.55,949.4 L2353.05,949.4 Z" fill="#000"/>
<rect x="2340.8" y="956.6" width="19.1" height="18.7" fill="#F8CBAD"/>
<rect x="2392.7" y="853" width="19" height="18.7" fill="#FF0000"/>
<rect x="2392.7" y="877" width="19" height="18.8" fill="#FFC000"/>
<rect x="2392.7" y="902.5" width="19" height="18.7" fill="#FFFF00"/>
<rect x="2387.5" y="846.9" width="27" height="77" fill="none" stroke="#111" stroke-width="2" stroke-dasharray="6,3.5"/>
<text x="2367.2" y="935.2" style="font-family:'Liberation Serif', serif;font-size:15.5px" fill="#222">Attn</text>
<text x="2367.2" y="953.2" style="font-family:'Liberation Serif', serif;font-size:15.5px" fill="#222">Pool</text>
<line x1="2397" y1="926.2" x2="2405" y2="926.2" stroke="#000" stroke-width="1.6" />
<line x1="2401" y1="926.2" x2="2401" y2="950.4" stroke="#000" stroke-width="1.6" /><path d="M2401,955.4 L2398.25,949.4 L2403.75,949.4 Z" fill="#000"/>
<rect x="2391.7" y="956.6" width="19.1" height="18.7" fill="#F8CBAD"/>
<rect x="2440.4" y="853" width="19" height="18.7" fill="#FF0000"/>
<rect x="2440.4" y="877" width="19" height="18.8" fill="#FFC000"/>
<rect x="2440.4" y="902.5" width="19" height="18.7" fill="#FFFF00"/>
<rect x="2435.5" y="846.9" width="27" height="77" fill="none" stroke="#111" stroke-width="2" stroke-dasharray="6,3.5"/>
<text x="2415.2" y="935.2" style="font-family:'Liberation Serif', serif;font-size:15.5px" fill="#222">Attn</text>
<text x="2415.2" y="953.2" style="font-family:'Liberation Serif', serif;font-size:15.5px" fill="#222">Pool</text>
<line x1="2445" y1="926.2" x2="2453" y2="926.2" stroke="#000" stroke-width="1.6" />
<line x1="2449" y1="926.2" x2="2449" y2="950.4" stroke="#000" stroke-width="1.6" /><path d="M2449,955.4 L2446.25,949.4 L2451.75,949.4 Z" fill="#000"/>
<rect x="2439.4" y="956.6" width="19.1" height="18.7" fill="#F8CBAD"/>
<rect x="2489.5" y="853" width="19" height="18.7" fill="#FF0000"/>
<rect x="2489.5" y="877" width="19" height="18.8" fill="#FFC000"/>
<rect x="2489.5" y="902.5" width="19" height="18.7" fill="#FFFF00"/>
<rect x="2485" y="846.9" width="27" height="77" fill="none" stroke="#111" stroke-width="2" stroke-dasharray="6,3.5"/>
<text x="2464" y="935.2" style="font-family:'Liberation Serif', serif;font-size:15.5px" fill="#222">Attn</text>
<text x="2464" y="953.2" style="font-family:'Liberation Serif', serif;font-size:15.5px" fill="#222">Pool</text>
<line x1="2494.5" y1="926.2" x2="2502.5" y2="926.2" stroke="#000" stroke-width="1.6" />
<line x1="2498.5" y1="926.2" x2="2498.5" y2="950.4" stroke="#000" stroke-width="1.6" /><path d="M2498.5,955.4 L2495.75,949.4 L2501.25,949.4 Z" fill="#000"/>
<rect x="2488.5" y="956.6" width="19.1" height="18.7" fill="#F8CBAD"/>
<rect x="2536.8" y="853" width="19" height="18.7" fill="#FF0000"/>
<rect x="2536.8" y="877" width="19" height="18.8" fill="#FFC000"/>
<rect x="2536.8" y="902.5" width="19" height="18.7" fill="#FFFF00"/>
<rect x="2532.3" y="846.9" width="27" height="77" fill="none" stroke="#111" stroke-width="2" stroke-dasharray="6,3.5"/>
<text x="2511.3" y="935.2" style="font-family:'Liberation Serif', serif;font-size:15.5px" fill="#222">Attn</text>
<text x="2511.3" y="953.2" style="font-family:'Liberation Serif', serif;font-size:15.5px" fill="#222">Pool</text>
<line x1="2541.6" y1="926.2" x2="2549.6" y2="926.2" stroke="#000" stroke-width="1.6" />
<line x1="2545.6" y1="926.2" x2="2545.6" y2="950.4" stroke="#000" stroke-width="1.6" /><path d="M2545.6,955.4 L2542.85,949.4 L2548.35,949.4 Z" fill="#000"/>
<rect x="2535.8" y="956.6" width="19.1" height="18.7" fill="#F8CBAD"/>
<text x="2279.4" y="935.2" style="font-family:'Liberation Serif', serif;font-size:15.5px" fill="#222" text-anchor="middle">For</text>
<text x="2279.4" y="953.2" style="font-family:'Liberation Serif', serif;font-size:15.5px" fill="#222" text-anchor="middle">VL</text>
<text x="2280.3" y="971.2" style="font-family:'Liberation Serif', serif;font-size:15.5px" fill="#222" text-anchor="middle" textLength="59" lengthAdjust="spacingAndGlyphs">connector</text>
<text x="2196.5" y="1018" style="font-family:'Liberation Serif', serif;font-size:20.5px" fill="#222" text-anchor="middle" textLength="420" lengthAdjust="spacingAndGlyphs">(c) Illustration of Semantic Equitable Clustering</text>
<path d="M1407.9,1069.8 L1431.7,1083.2 L1416,1083.2 Z" fill="none" stroke="#000" stroke-width="1.4" stroke-linejoin="miter"/>
<path d="M1416,1083.2 L1431.7,1083.2 L1407.9,1096.7 Z" fill="#000"/>
<text x="1458" y="1096.6" style="font-family:'Liberation Sans', sans-serif;font-size:37px">Single Clustering Center Related to Semantics.</text>
<path d="M1407.9,1223.2 L1431.7,1236.6 L1416,1236.6 Z" fill="none" stroke="#000" stroke-width="1.4" stroke-linejoin="miter"/>
<path d="M1416,1236.6 L1431.7,1236.6 L1407.9,1250.1 Z" fill="#000"/>
<text x="1456" y="1250" style="font-family:'Liberation Sans', sans-serif;font-size:37px">Distance Metric Suitable for ViT</text>
<path d="M1407.9,1473.4 L1431.7,1486.8 L1416,1486.8 Z" fill="none" stroke="#000" stroke-width="1.4" stroke-linejoin="miter"/>
<path d="M1416,1486.8 L1431.7,1486.8 L1407.9,1500.3 Z" fill="#000"/>
<text x="1458" y="1500.2" style="font-family:'Liberation Sans', sans-serif;font-size:37px">Equally Partition Tokens based on Distance</text>
<text x="1775.1" y="1145.9" style="font-family:'Liberation Serif', serif;font-size:33px" xml:space="preserve" textLength="485.5" lengthAdjust="spacingAndGlyphs"><tspan style="font-size:33px;font-style:italic">Q</tspan><tspan style="font-size:33px"> = </tspan><tspan style="font-size:33px;font-style:italic">W</tspan><tspan dy="7.26" style="font-size:23.1px;font-style:italic">Q</tspan><tspan dy="-7.26" style="font-size:33px;font-style:italic">X</tspan><tspan style="font-size:33px">,</tspan><tspan style="font-size:33px;font-style:italic">K</tspan><tspan style="font-size:33px"> = </tspan><tspan style="font-size:33px;font-style:italic">W</tspan><tspan dy="7.26" style="font-size:23.1px;font-style:italic">K</tspan><tspan dy="-7.26" style="font-size:33px;font-style:italic">X</tspan><tspan style="font-size:33px">, </tspan><tspan style="font-size:33px;font-style:italic">V</tspan><tspan style="font-size:33px"> = </tspan><tspan style="font-size:33px;font-style:italic">W</tspan><tspan dy="7.26" style="font-size:23.1px;font-style:italic">V</tspan><tspan dy="-7.26" style="font-size:33px;font-style:italic">X</tspan><tspan style="font-size:33px">,</tspan></text>
<text x="1934.6" y="1193.8" style="font-family:'Liberation Serif', serif;font-size:33px" xml:space="preserve" textLength="195.8" lengthAdjust="spacingAndGlyphs"><tspan style="font-size:33px;font-style:italic">k</tspan><tspan dy="7.26" style="font-size:23.1px;font-style:italic">c</tspan><tspan dy="-7.26" style="font-size:33px"> = Pool(</tspan><tspan style="font-size:33px;font-style:italic">K</tspan><tspan style="font-size:33px">).</tspan></text>
<text x="1914.5" y="1324.3" style="font-family:'Liberation Serif', serif;font-size:29px" xml:space="preserve" textLength="72" lengthAdjust="spacingAndGlyphs"><tspan style="font-size:29px;font-style:italic">sim</tspan><tspan style="font-size:29px"> =</tspan></text>
<line x1="2005.6" y1="1317.2" x2="2147" y2="1317.2" stroke="#000" stroke-width="1.3" />
<text x="2076.3" y="1304.5" style="font-family:'Liberation Serif', serif;font-size:29px" xml:space="preserve" text-anchor="middle"><tspan style="font-size:29px;font-style:italic">K</tspan><tspan style="font-size:29px"> · </tspan><tspan style="font-size:29px;font-style:italic">k</tspan><tspan dy="6.38" style="font-size:20.3px;font-style:italic">c</tspan></text>
<text x="2076.3" y="1346.9" style="font-family:'Liberation Serif', serif;font-size:29px" xml:space="preserve" text-anchor="middle"><tspan style="font-size:29px">||</tspan><tspan style="font-size:29px;font-style:italic">K</tspan><tspan style="font-size:29px">|| · ||</tspan><tspan style="font-size:29px;font-style:italic">k</tspan><tspan dy="6.38" style="font-size:20.3px;font-style:italic">c</tspan><tspan dy="-6.38" style="font-size:29px">||</tspan></text>
<text x="2148.5" y="1324.3" style="font-family:'Liberation Serif', serif;font-size:29px" xml:space="preserve"><tspan style="font-size:29px">,</tspan></text>
<text x="1913.4" y="1388.4" style="font-family:'Liberation Serif', serif;font-size:29px" xml:space="preserve" textLength="250.6" lengthAdjust="spacingAndGlyphs"><tspan style="font-size:29px;font-style:italic">idx</tspan><tspan style="font-size:29px"> = argsort(</tspan><tspan style="font-size:29px;font-style:italic">sim</tspan><tspan style="font-size:29px">),</tspan></text>
<text x="1756.2" y="1434" style="font-family:'Liberation Serif', serif;font-size:29px" xml:space="preserve" textLength="512.7" lengthAdjust="spacingAndGlyphs"><tspan style="font-size:29px;font-style:italic">Q</tspan><tspan dy="-10.44" style="font-size:20.3px">*</tspan><tspan dy="10.44" style="font-size:29px"> = </tspan><tspan style="font-size:29px;font-style:italic">Q</tspan><tspan style="font-size:29px">[</tspan><tspan style="font-size:29px;font-style:italic">idx</tspan><tspan style="font-size:29px">], </tspan><tspan style="font-size:29px;font-style:italic">K</tspan><tspan dy="-10.44" style="font-size:20.3px">*</tspan><tspan dy="10.44" style="font-size:29px"> = </tspan><tspan style="font-size:29px;font-style:italic">K</tspan><tspan style="font-size:29px">[</tspan><tspan style="font-size:29px;font-style:italic">idx</tspan><tspan style="font-size:29px">], </tspan><tspan style="font-size:29px;font-style:italic">V</tspan><tspan dy="-10.44" style="font-size:20.3px">*</tspan><tspan dy="10.44" style="font-size:29px"> = </tspan><tspan style="font-size:29px;font-style:italic">V</tspan><tspan style="font-size:29px">[</tspan><tspan style="font-size:29px;font-style:italic">idx</tspan><tspan style="font-size:29px">].</tspan></text>
<text x="1573.2" y="1548.9" style="font-family:'Liberation Serif', serif;font-size:29px" xml:space="preserve" textLength="351.2" lengthAdjust="spacingAndGlyphs"><tspan style="font-size:29px;font-style:italic">Q</tspan><tspan dy="6.38" style="font-size:20.3px;font-style:italic">m</tspan><tspan dy="-6.38" style="font-size:29px"> = </tspan><tspan style="font-size:29px;font-style:italic">Q</tspan><tspan dy="-10.44" style="font-size:20.3px">*</tspan><tspan dy="10.44" style="font-size:29px">[</tspan><tspan style="font-size:29px;font-style:italic">m</tspan><tspan style="font-size:29px"> × </tspan><tspan style="font-size:29px;font-style:italic">N</tspan><tspan style="font-size:29px"> : (</tspan><tspan style="font-size:29px;font-style:italic">m</tspan><tspan style="font-size:29px"> + 1) </tspan><tspan style="font-size:29px;font-style:italic">N</tspan><tspan style="font-size:29px">],</tspan></text>
<text x="1569.3" y="1588.5" style="font-family:'Liberation Serif', serif;font-size:29px" xml:space="preserve" textLength="355.1" lengthAdjust="spacingAndGlyphs"><tspan style="font-size:29px;font-style:italic">K</tspan><tspan dy="6.38" style="font-size:20.3px;font-style:italic">m</tspan><tspan dy="-6.38" style="font-size:29px"> = </tspan><tspan style="font-size:29px;font-style:italic">K</tspan><tspan dy="-10.44" style="font-size:20.3px">*</tspan><tspan dy="10.44" style="font-size:29px">[</tspan><tspan style="font-size:29px;font-style:italic">m</tspan><tspan style="font-size:29px"> × </tspan><tspan style="font-size:29px;font-style:italic">N</tspan><tspan style="font-size:29px"> : (</tspan><tspan style="font-size:29px;font-style:italic">m</tspan><tspan style="font-size:29px"> + 1) </tspan><tspan style="font-size:29px;font-style:italic">N</tspan><tspan style="font-size:29px">],</tspan></text>
<text x="1579.2" y="1628" style="font-family:'Liberation Serif', serif;font-size:29px" xml:space="preserve" textLength="345.2" lengthAdjust="spacingAndGlyphs"><tspan style="font-size:29px;font-style:italic">V</tspan><tspan dy="6.38" style="font-size:20.3px;font-style:italic">m</tspan><tspan dy="-6.38" style="font-size:29px"> = </tspan><tspan style="font-size:29px;font-style:italic">V</tspan><tspan dy="-10.44" style="font-size:20.3px">*</tspan><tspan dy="10.44" style="font-size:29px">[</tspan><tspan style="font-size:29px;font-style:italic">m</tspan><tspan style="font-size:29px"> × </tspan><tspan style="font-size:29px;font-style:italic">N</tspan><tspan style="font-size:29px"> : (</tspan><tspan style="font-size:29px;font-style:italic">m</tspan><tspan style="font-size:29px"> + 1) </tspan><tspan style="font-size:29px;font-style:italic">N</tspan><tspan style="font-size:29px">].</tspan></text>
<text x="2035.3" y="1548.9" style="font-family:'Liberation Serif', serif;font-size:29px" xml:space="preserve" textLength="236.4" lengthAdjust="spacingAndGlyphs"><tspan style="font-size:29px;font-style:italic">Q</tspan><tspan dy="6.38" style="font-size:20.3px;font-style:italic">n</tspan><tspan dy="-6.38" style="font-size:29px"> = </tspan><tspan style="font-size:29px;font-style:italic">Q</tspan><tspan dy="-10.44" style="font-size:20.3px">*</tspan><tspan dy="10.44" style="font-size:29px">[</tspan><tspan style="font-size:29px;font-style:italic">n</tspan><tspan style="font-size:29px"> : </tspan><tspan style="font-size:29px;font-style:italic">N</tspan><tspan style="font-size:29px"> : </tspan><tspan style="font-size:29px;font-style:italic">L</tspan><tspan style="font-size:29px">],</tspan></text>
<text x="2031.4" y="1588.5" style="font-family:'Liberation Serif', serif;font-size:29px" xml:space="preserve" textLength="240.3" lengthAdjust="spacingAndGlyphs"><tspan style="font-size:29px;font-style:italic">K</tspan><tspan dy="6.38" style="font-size:20.3px;font-style:italic">n</tspan><tspan dy="-6.38" style="font-size:29px"> = </tspan><tspan style="font-size:29px;font-style:italic">K</tspan><tspan dy="-10.44" style="font-size:20.3px">*</tspan><tspan dy="10.44" style="font-size:29px">[</tspan><tspan style="font-size:29px;font-style:italic">n</tspan><tspan style="font-size:29px"> : </tspan><tspan style="font-size:29px;font-style:italic">N</tspan><tspan style="font-size:29px"> : </tspan><tspan style="font-size:29px;font-style:italic">L</tspan><tspan style="font-size:29px">],</tspan></text>
<text x="2041.3" y="1628" style="font-family:'Liberation Serif', serif;font-size:29px" xml:space="preserve" textLength="230.4" lengthAdjust="spacingAndGlyphs"><tspan style="font-size:29px;font-style:italic">V</tspan><tspan dy="6.38" style="font-size:20.3px;font-style:italic">n</tspan><tspan dy="-6.38" style="font-size:29px"> = </tspan><tspan style="font-size:29px;font-style:italic">V</tspan><tspan dy="-10.44" style="font-size:20.3px">*</tspan><tspan dy="10.44" style="font-size:29px">[</tspan><tspan style="font-size:29px;font-style:italic">n</tspan><tspan style="font-size:29px"> : </tspan><tspan style="font-size:29px;font-style:italic">N</tspan><tspan style="font-size:29px"> : </tspan><tspan style="font-size:29px;font-style:italic">L</tspan><tspan style="font-size:29px">].</tspan></text>
<text x="1582" y="1673.6" style="font-family:'Liberation Serif', serif;font-size:29px" xml:space="preserve" textLength="330.6" lengthAdjust="spacingAndGlyphs"><tspan style="font-size:29px;font-style:italic">Y</tspan><tspan dy="6.38" style="font-size:20.3px;font-style:italic">m</tspan><tspan dy="-6.38" style="font-size:29px"> = Attn (</tspan><tspan style="font-size:29px;font-style:italic">Q</tspan><tspan dy="6.38" style="font-size:20.3px;font-style:italic">m</tspan><tspan dy="-6.38" style="font-size:29px">, </tspan><tspan style="font-size:29px;font-style:italic">K</tspan><tspan dy="6.38" style="font-size:20.3px;font-style:italic">m</tspan><tspan dy="-6.38" style="font-size:29px">, </tspan><tspan style="font-size:29px;font-style:italic">V</tspan><tspan dy="6.38" style="font-size:20.3px;font-style:italic">m</tspan><tspan dy="-6.38" style="font-size:29px">) .</tspan></text>
<text x="1970" y="1673.6" style="font-family:'Liberation Serif', serif;font-size:29px" xml:space="preserve" textLength="372.2" lengthAdjust="spacingAndGlyphs"><tspan style="font-size:29px;font-style:italic">Y</tspan><tspan dy="6.38" style="font-size:20.3px;font-style:italic">n</tspan><tspan dy="-6.38" style="font-size:29px"> = Attn(Pool(</tspan><tspan style="font-size:29px;font-style:italic">Q</tspan><tspan dy="6.38" style="font-size:20.3px;font-style:italic">n</tspan><tspan dy="-6.38" style="font-size:29px">), </tspan><tspan style="font-size:29px;font-style:italic">K</tspan><tspan dy="6.38" style="font-size:20.3px;font-style:italic">n</tspan><tspan dy="-6.38" style="font-size:29px">, </tspan><tspan style="font-size:29px;font-style:italic">V</tspan><tspan dy="6.38" style="font-size:20.3px;font-style:italic">n</tspan><tspan dy="-6.38" style="font-size:29px">).</tspan></text>
<text x="2707.4" y="362.2" style="font-family:'Liberation Sans', sans-serif;font-size:46.5px;font-weight:700" fill="#0000FF" textLength="294" lengthAdjust="spacingAndGlyphs">Experiments:</text>
<path d="M2710.9,389.8 L2734.7,403.2 L2719,403.2 Z" fill="none" stroke="#000" stroke-width="1.4" stroke-linejoin="miter"/>
<path d="M2719,403.2 L2734.7,403.2 L2710.9,416.7 Z" fill="#000"/>
<text x="2759.5" y="416.6" style="font-family:'Liberation Sans', sans-serif;font-size:37.2px">Excellent performance on Vision tasks.</text>
<path d="M2710.9,896.9 L2734.7,910.3 L2719,910.3 Z" fill="none" stroke="#000" stroke-width="1.4" stroke-linejoin="miter"/>
<path d="M2719,910.3 L2734.7,910.3 L2710.9,923.8 Z" fill="#000"/>
<text x="2759" y="923.7" style="font-family:'Liberation Sans', sans-serif;font-size:37px">Excellent performance on Multi-modal Large Language model.</text>
<rect x="2799" y="538.6" width="915.7" height="17.6" fill="#D9D9D9"/>
<rect x="2799" y="635" width="915.7" height="17.6" fill="#D9D9D9"/>
<rect x="2799" y="731.2" width="915.7" height="17.6" fill="#D9D9D9"/>
<rect x="2799" y="826.6" width="915.7" height="17.6" fill="#D9D9D9"/>
<line x1="2799" y1="437.9" x2="3714.7" y2="437.9" stroke="#222" stroke-width="1.4" />
<line x1="2799" y1="481" x2="3714.7" y2="481" stroke="#555" stroke-width="1.1" />
<line x1="2799" y1="559.3" x2="3714.7" y2="559.3" stroke="#444" stroke-width="1.4" />
<line x1="2799" y1="655.1" x2="3714.7" y2="655.1" stroke="#444" stroke-width="1.4" />
<line x1="2799" y1="751.3" x2="3714.7" y2="751.3" stroke="#444" stroke-width="1.4" />
<line x1="2799" y1="847.6" x2="3714.7" y2="847.6" stroke="#222" stroke-width="1.6" />
<line x1="2928.6" y1="442" x2="2928.6" y2="478" stroke="#555" stroke-width="1.1" />
<line x1="3043.1" y1="442" x2="3043.1" y2="478" stroke="#555" stroke-width="1.1" />
<line x1="3326.7" y1="442" x2="3326.7" y2="478" stroke="#555" stroke-width="1.1" />
<line x1="3441.5" y1="442" x2="3441.5" y2="478" stroke="#555" stroke-width="1.1" />
<line x1="2928.6" y1="484.4" x2="2928.6" y2="556.2" stroke="#555" stroke-width="1.1" />
<line x1="3043.1" y1="484.4" x2="3043.1" y2="556.2" stroke="#555" stroke-width="1.1" />
<line x1="3326.7" y1="484.4" x2="3326.7" y2="556.2" stroke="#555" stroke-width="1.1" />
<line x1="3441.5" y1="484.4" x2="3441.5" y2="556.2" stroke="#555" stroke-width="1.1" />
<line x1="2928.6" y1="563.1" x2="2928.6" y2="652.6" stroke="#555" stroke-width="1.1" />
<line x1="3043.1" y1="563.1" x2="3043.1" y2="652.6" stroke="#555" stroke-width="1.1" />
<line x1="3326.7" y1="563.1" x2="3326.7" y2="652.6" stroke="#555" stroke-width="1.1" />
<line x1="3441.5" y1="563.1" x2="3441.5" y2="652.6" stroke="#555" stroke-width="1.1" />
<line x1="2928.6" y1="658.9" x2="2928.6" y2="748.8" stroke="#555" stroke-width="1.1" />
<line x1="3043.1" y1="658.9" x2="3043.1" y2="748.8" stroke="#555" stroke-width="1.1" />
<line x1="3326.7" y1="658.9" x2="3326.7" y2="748.8" stroke="#555" stroke-width="1.1" />
<line x1="3441.5" y1="658.9" x2="3441.5" y2="748.8" stroke="#555" stroke-width="1.1" />
<line x1="2928.6" y1="755" x2="2928.6" y2="844.2" stroke="#555" stroke-width="1.1" />
<line x1="3043.1" y1="755" x2="3043.1" y2="844.2" stroke="#555" stroke-width="1.1" />
<line x1="3326.7" y1="755" x2="3326.7" y2="844.2" stroke="#555" stroke-width="1.1" />
<line x1="3441.5" y1="755" x2="3441.5" y2="844.2" stroke="#555" stroke-width="1.1" />
<text transform="translate(2863.5,464.7) scale(1.03,1)" x="0" y="0" style="font-family:'Liberation Serif', serif;font-size:14.3px" fill="#1A1A1A" text-anchor="middle" stroke="#1A1A1A" stroke-width="0.35">Backbone</text>
<text transform="translate(2957.4,455.4) scale(1.03,1)" x="0" y="0" style="font-family:'Liberation Serif', serif;font-size:14.3px" fill="#1A1A1A" text-anchor="middle" stroke="#1A1A1A" stroke-width="0.35">Params</text>
<text transform="translate(2957.4,473.1) scale(1.03,1)" x="0" y="0" style="font-family:'Liberation Serif', serif;font-size:14.3px" fill="#1A1A1A" text-anchor="middle" stroke="#1A1A1A" stroke-width="0.35">(M)</text>
<text transform="translate(3355,455.4) scale(1.03,1)" x="0" y="0" style="font-family:'Liberation Serif', serif;font-size:14.3px" fill="#1A1A1A" text-anchor="middle" stroke="#1A1A1A" stroke-width="0.35">Params</text>
<text transform="translate(3355,473.1) scale(1.03,1)" x="0" y="0" style="font-family:'Liberation Serif', serif;font-size:14.3px" fill="#1A1A1A" text-anchor="middle" stroke="#1A1A1A" stroke-width="0.35">(M)</text>
<text transform="translate(3014.4,455.4) scale(1.03,1)" x="0" y="0" style="font-family:'Liberation Serif', serif;font-size:14.3px" fill="#1A1A1A" text-anchor="middle" stroke="#1A1A1A" stroke-width="0.35">FLOPs</text>
<text transform="translate(3014.4,473.1) scale(1.03,1)" x="0" y="0" style="font-family:'Liberation Serif', serif;font-size:14.3px" fill="#1A1A1A" text-anchor="middle" stroke="#1A1A1A" stroke-width="0.35">(G)</text>
<text transform="translate(3412.5,455.4) scale(1.03,1)" x="0" y="0" style="font-family:'Liberation Serif', serif;font-size:14.3px" fill="#1A1A1A" text-anchor="middle" stroke="#1A1A1A" stroke-width="0.35">FLOPs</text>
<text transform="translate(3412.5,473.1) scale(1.03,1)" x="0" y="0" style="font-family:'Liberation Serif', serif;font-size:14.3px" fill="#1A1A1A" text-anchor="middle" stroke="#1A1A1A" stroke-width="0.35">(G)</text>
<text transform="translate(3183.8,455.4) scale(1.03,1)" x="0" y="0" style="font-family:'Liberation Serif', serif;font-size:14.3px" fill="#1A1A1A" text-anchor="middle" stroke="#1A1A1A" stroke-width="0.35">Mask R-CNN 1×</text>
<text transform="translate(3577.2,455.4) scale(1.03,1)" x="0" y="0" style="font-family:'Liberation Serif', serif;font-size:14.3px" fill="#1A1A1A" text-anchor="middle" stroke="#1A1A1A" stroke-width="0.35">RetinaNet 1×</text>
<text transform="translate(3064.4,473.1) scale(1.03,1)" x="0" y="0" style="font-family:'Liberation Serif', serif;font-size:14.3px" fill="#1A1A1A" text-anchor="middle" stroke="#1A1A1A" stroke-width="0.35"><tspan style="font-style:italic">AP</tspan><tspan style="font-style:italic;font-size:9.72px" dy="-6">b</tspan></text>
<text transform="translate(3109.5,473.1) scale(1.03,1)" x="0" y="0" style="font-family:'Liberation Serif', serif;font-size:14.3px" fill="#1A1A1A" text-anchor="middle" stroke="#1A1A1A" stroke-width="0.35"><tspan style="font-style:italic">AP</tspan><tspan style="font-style:italic;font-size:9.72px" dy="-6">b</tspan><tspan style="font-style:italic;font-size:9.72px" dx="-5.36" dy="9.5">50</tspan></text>
<text transform="translate(3157.5,473.1) scale(1.03,1)" x="0" y="0" style="font-family:'Liberation Serif', serif;font-size:14.3px" fill="#1A1A1A" text-anchor="middle" stroke="#1A1A1A" stroke-width="0.35"><tspan style="font-style:italic">AP</tspan><tspan style="font-style:italic;font-size:9.72px" dy="-6">b</tspan><tspan style="font-style:italic;font-size:9.72px" dx="-5.36" dy="9.5">75</tspan></text>
<text transform="translate(3204.9,473.1) scale(1.03,1)" x="0" y="0" style="font-family:'Liberation Serif', serif;font-size:14.3px" fill="#1A1A1A" text-anchor="middle" stroke="#1A1A1A" stroke-width="0.35"><tspan style="font-style:italic">AP</tspan><tspan style="font-style:italic;font-size:9.72px" dy="-6">m</tspan></text>
<text transform="translate(3253.3,473.1) scale(1.03,1)" x="0" y="0" style="font-family:'Liberation Serif', serif;font-size:14.3px" fill="#1A1A1A" text-anchor="middle" stroke="#1A1A1A" stroke-width="0.35"><tspan style="font-style:italic">AP</tspan><tspan style="font-style:italic;font-size:9.72px" dy="-6">m</tspan><tspan style="font-style:italic;font-size:9.72px" dx="-5.36" dy="9.5">50</tspan></text>
<text transform="translate(3301.8,473.1) scale(1.03,1)" x="0" y="0" style="font-family:'Liberation Serif', serif;font-size:14.3px" fill="#1A1A1A" text-anchor="middle" stroke="#1A1A1A" stroke-width="0.35"><tspan style="font-style:italic">AP</tspan><tspan style="font-style:italic;font-size:9.72px" dy="-6">m</tspan><tspan style="font-style:italic;font-size:9.72px" dx="-5.36" dy="9.5">75</tspan></text>
<text transform="translate(3462.4,473.1) scale(1.03,1)" x="0" y="0" style="font-family:'Liberation Serif', serif;font-size:14.3px" fill="#1A1A1A" text-anchor="middle" stroke="#1A1A1A" stroke-width="0.35"><tspan style="font-style:italic">AP</tspan><tspan style="font-style:italic;font-size:9.72px" dy="-6">b</tspan></text>
<text transform="translate(3507.5,473.1) scale(1.03,1)" x="0" y="0" style="font-family:'Liberation Serif', serif;font-size:14.3px" fill="#1A1A1A" text-anchor="middle" stroke="#1A1A1A" stroke-width="0.35"><tspan style="font-style:italic">AP</tspan><tspan style="font-style:italic;font-size:9.72px" dy="-6">b</tspan><tspan style="font-style:italic;font-size:9.72px" dx="-5.36" dy="9.5">50</tspan></text>
<text transform="translate(3555.2,473.1) scale(1.03,1)" x="0" y="0" style="font-family:'Liberation Serif', serif;font-size:14.3px" fill="#1A1A1A" text-anchor="middle" stroke="#1A1A1A" stroke-width="0.35"><tspan style="font-style:italic">AP</tspan><tspan style="font-style:italic;font-size:9.72px" dy="-6">b</tspan><tspan style="font-style:italic;font-size:9.72px" dx="-5.36" dy="9.5">75</tspan></text>
<text transform="translate(3600.7,473.1) scale(1.03,1)" x="0" y="0" style="font-family:'Liberation Serif', serif;font-size:14.3px" fill="#1A1A1A" text-anchor="middle" stroke="#1A1A1A" stroke-width="0.35"><tspan style="font-style:italic">AP</tspan><tspan style="font-style:italic;font-size:9.72px" dy="-6">b</tspan><tspan style="font-style:italic;font-size:9.72px" dx="-5.36" dy="9.5">S</tspan></text>
<text transform="translate(3646.5,473.1) scale(1.03,1)" x="0" y="0" style="font-family:'Liberation Serif', serif;font-size:14.3px" fill="#1A1A1A" text-anchor="middle" stroke="#1A1A1A" stroke-width="0.35"><tspan style="font-style:italic">AP</tspan><tspan style="font-style:italic;font-size:9.72px" dy="-6">b</tspan><tspan style="font-style:italic;font-size:9.72px" dx="-5.36" dy="9.5">M</tspan></text>
<text transform="translate(3692,473.1) scale(1.03,1)" x="0" y="0" style="font-family:'Liberation Serif', serif;font-size:14.3px" fill="#1A1A1A" text-anchor="middle" stroke="#1A1A1A" stroke-width="0.35"><tspan style="font-style:italic">AP</tspan><tspan style="font-style:italic;font-size:9.72px" dy="-6">b</tspan><tspan style="font-style:italic;font-size:9.72px" dx="-5.36" dy="9.5">L</tspan></text>
<text transform="translate(2863.5,497.9) scale(1.03,1)" x="0" y="0" style="font-family:'Liberation Serif', serif;font-size:14.3px" fill="#1A1A1A" text-anchor="middle" stroke="#1A1A1A" stroke-width="0.35">PVTv2-B1 [<tspan fill="#3B7DC4" stroke="#3B7DC4">46</tspan>]</text>
<text transform="translate(2957.4,497.9) scale(1.03,1)" x="0" y="0" style="font-family:'Liberation Serif', serif;font-size:14.3px" fill="#1A1A1A" text-anchor="middle" stroke="#1A1A1A" stroke-width="0.35">33</text>
<text transform="translate(3014.4,497.9) scale(1.03,1)" x="0" y="0" style="font-family:'Liberation Serif', serif;font-size:14.3px" fill="#1A1A1A" text-anchor="middle" stroke="#1A1A1A" stroke-width="0.35">243</text>
<text transform="translate(3064.4,497.9) scale(1.03,1)" x="0" y="0" style="font-family:'Liberation Serif', serif;font-size:14.3px" fill="#1A1A1A" text-anchor="middle" stroke="#1A1A1A" stroke-width="0.35">41.8</text>
<text transform="translate(3109.5,497.9) scale(1.03,1)" x="0" y="0" style="font-family:'Liberation Serif', serif;font-size:14.3px" fill="#1A1A1A" text-anchor="middle" stroke="#1A1A1A" stroke-width="0.35">54.3</text>
<text transform="translate(3157.5,497.9) scale(1.03,1)" x="0" y="0" style="font-family:'Liberation Serif', serif;font-size:14.3px" fill="#1A1A1A" text-anchor="middle" stroke="#1A1A1A" stroke-width="0.35">45.9</text>
<text transform="translate(3204.9,497.9) scale(1.03,1)" x="0" y="0" style="font-family:'Liberation Serif', serif;font-size:14.3px" fill="#1A1A1A" text-anchor="middle" stroke="#1A1A1A" stroke-width="0.35">38.8</text>
<text transform="translate(3253.3,497.9) scale(1.03,1)" x="0" y="0" style="font-family:'Liberation Serif', serif;font-size:14.3px" fill="#1A1A1A" text-anchor="middle" stroke="#1A1A1A" stroke-width="0.35">61.2</text>
<text transform="translate(3301.8,497.9) scale(1.03,1)" x="0" y="0" style="font-family:'Liberation Serif', serif;font-size:14.3px" fill="#1A1A1A" text-anchor="middle" stroke="#1A1A1A" stroke-width="0.35">41.6</text>
<text transform="translate(3355,497.9) scale(1.03,1)" x="0" y="0" style="font-family:'Liberation Serif', serif;font-size:14.3px" fill="#1A1A1A" text-anchor="middle" stroke="#1A1A1A" stroke-width="0.35">23</text>
<text transform="translate(3412.5,497.9) scale(1.03,1)" x="0" y="0" style="font-family:'Liberation Serif', serif;font-size:14.3px" fill="#1A1A1A" text-anchor="middle" stroke="#1A1A1A" stroke-width="0.35">225</text>
<text transform="translate(3462.4,497.9) scale(1.03,1)" x="0" y="0" style="font-family:'Liberation Serif', serif;font-size:14.3px" fill="#1A1A1A" text-anchor="middle" stroke="#1A1A1A" stroke-width="0.35">41.2</text>
<text transform="translate(3507.5,497.9) scale(1.03,1)" x="0" y="0" style="font-family:'Liberation Serif', serif;font-size:14.3px" fill="#1A1A1A" text-anchor="middle" stroke="#1A1A1A" stroke-width="0.35">61.9</text>
<text transform="translate(3555.2,497.9) scale(1.03,1)" x="0" y="0" style="font-family:'Liberation Serif', serif;font-size:14.3px" fill="#1A1A1A" text-anchor="middle" stroke="#1A1A1A" stroke-width="0.35">43.9</text>
<text transform="translate(3600.7,497.9) scale(1.03,1)" x="0" y="0" style="font-family:'Liberation Serif', serif;font-size:14.3px" fill="#1A1A1A" text-anchor="middle" stroke="#1A1A1A" stroke-width="0.35">25.4</text>
<text transform="translate(3646.5,497.9) scale(1.03,1)" x="0" y="0" style="font-family:'Liberation Serif', serif;font-size:14.3px" fill="#1A1A1A" text-anchor="middle" stroke="#1A1A1A" stroke-width="0.35">44.5</text>
<text transform="translate(3692,497.9) scale(1.03,1)" x="0" y="0" style="font-family:'Liberation Serif', serif;font-size:14.3px" fill="#1A1A1A" text-anchor="middle" stroke="#1A1A1A" stroke-width="0.35">54.3</text>
<text transform="translate(2863.5,515.6) scale(1.03,1)" x="0" y="0" style="font-family:'Liberation Serif', serif;font-size:14.3px" fill="#1A1A1A" text-anchor="middle" stroke="#1A1A1A" stroke-width="0.35">FAT-B2 [<tspan fill="#3B7DC4" stroke="#3B7DC4">12</tspan>]</text>
<text transform="translate(2957.4,515.6) scale(1.03,1)" x="0" y="0" style="font-family:'Liberation Serif', serif;font-size:14.3px" fill="#1A1A1A" text-anchor="middle" stroke="#1A1A1A" stroke-width="0.35">33</text>
<text transform="translate(3014.4,515.6) scale(1.03,1)" x="0" y="0" style="font-family:'Liberation Serif', serif;font-size:14.3px" fill="#1A1A1A" text-anchor="middle" stroke="#1A1A1A" stroke-width="0.35">215</text>
<text transform="translate(3064.4,515.6) scale(1.03,1)" x="0" y="0" style="font-family:'Liberation Serif', serif;font-size:14.3px" fill="#1A1A1A" text-anchor="middle" stroke="#1A1A1A" stroke-width="0.35">45.2</text>
<text transform="translate(3109.5,515.6) scale(1.03,1)" x="0" y="0" style="font-family:'Liberation Serif', serif;font-size:14.3px" fill="#1A1A1A" text-anchor="middle" stroke="#1A1A1A" stroke-width="0.35">67.9</text>
<text transform="translate(3157.5,515.6) scale(1.03,1)" x="0" y="0" style="font-family:'Liberation Serif', serif;font-size:14.3px" fill="#1A1A1A" text-anchor="middle" stroke="#1A1A1A" stroke-width="0.35">49.0</text>
<text transform="translate(3204.9,515.6) scale(1.03,1)" x="0" y="0" style="font-family:'Liberation Serif', serif;font-size:14.3px" fill="#1A1A1A" text-anchor="middle" stroke="#1A1A1A" stroke-width="0.35">41.3</text>
<text transform="translate(3253.3,515.6) scale(1.03,1)" x="0" y="0" style="font-family:'Liberation Serif', serif;font-size:14.3px" fill="#1A1A1A" text-anchor="middle" stroke="#1A1A1A" stroke-width="0.35">64.6</text>
<text transform="translate(3301.8,515.6) scale(1.03,1)" x="0" y="0" style="font-family:'Liberation Serif', serif;font-size:14.3px" fill="#1A1A1A" text-anchor="middle" stroke="#1A1A1A" stroke-width="0.35">44.0</text>
<text transform="translate(3355,515.6) scale(1.03,1)" x="0" y="0" style="font-family:'Liberation Serif', serif;font-size:14.3px" fill="#1A1A1A" text-anchor="middle" stroke="#1A1A1A" stroke-width="0.35">23</text>
<text transform="translate(3412.5,515.6) scale(1.03,1)" x="0" y="0" style="font-family:'Liberation Serif', serif;font-size:14.3px" fill="#1A1A1A" text-anchor="middle" stroke="#1A1A1A" stroke-width="0.35">196</text>
<text transform="translate(3462.4,515.6) scale(1.03,1)" x="0" y="0" style="font-family:'Liberation Serif', serif;font-size:14.3px" fill="#1A1A1A" text-anchor="middle" stroke="#1A1A1A" stroke-width="0.35">44.0</text>
<text transform="translate(3507.5,515.6) scale(1.03,1)" x="0" y="0" style="font-family:'Liberation Serif', serif;font-size:14.3px" fill="#1A1A1A" text-anchor="middle" stroke="#1A1A1A" stroke-width="0.35">65.2</text>
<text transform="translate(3555.2,515.6) scale(1.03,1)" x="0" y="0" style="font-family:'Liberation Serif', serif;font-size:14.3px" fill="#1A1A1A" text-anchor="middle" stroke="#1A1A1A" stroke-width="0.35">47.2</text>
<text transform="translate(3600.7,515.6) scale(1.03,1)" x="0" y="0" style="font-family:'Liberation Serif', serif;font-size:14.3px" fill="#1A1A1A" text-anchor="middle" stroke="#1A1A1A" stroke-width="0.35">27.5</text>
<text transform="translate(3646.5,515.6) scale(1.03,1)" x="0" y="0" style="font-family:'Liberation Serif', serif;font-size:14.3px" fill="#1A1A1A" text-anchor="middle" stroke="#1A1A1A" stroke-width="0.35">47.7</text>
<text transform="translate(3692,515.6) scale(1.03,1)" x="0" y="0" style="font-family:'Liberation Serif', serif;font-size:14.3px" fill="#1A1A1A" text-anchor="middle" stroke="#1A1A1A" stroke-width="0.35">58.8</text>
<text transform="translate(2863.5,533.4) scale(1.03,1)" x="0" y="0" style="font-family:'Liberation Serif', serif;font-size:14.3px" fill="#1A1A1A" text-anchor="middle" stroke="#1A1A1A" stroke-width="0.35">RMT-T [<tspan fill="#3B7DC4" stroke="#3B7DC4">13</tspan>]</text>
<text transform="translate(2957.4,533.4) scale(1.03,1)" x="0" y="0" style="font-family:'Liberation Serif', serif;font-size:14.3px" fill="#1A1A1A" text-anchor="middle" stroke="#1A1A1A" stroke-width="0.35">33</text>
<text transform="translate(3014.4,533.4) scale(1.03,1)" x="0" y="0" style="font-family:'Liberation Serif', serif;font-size:14.3px" fill="#1A1A1A" text-anchor="middle" stroke="#1A1A1A" stroke-width="0.35">218</text>
<text transform="translate(3064.4,533.4) scale(1.03,1)" x="0" y="0" style="font-family:'Liberation Serif', serif;font-size:14.3px" fill="#1A1A1A" text-anchor="middle" stroke="#1A1A1A" stroke-width="0.35">47.1</text>
<text transform="translate(3109.5,533.4) scale(1.03,1)" x="0" y="0" style="font-family:'Liberation Serif', serif;font-size:14.3px" fill="#1A1A1A" text-anchor="middle" stroke="#1A1A1A" stroke-width="0.35">68.8</text>
<text transform="translate(3157.5,533.4) scale(1.03,1)" x="0" y="0" style="font-family:'Liberation Serif', serif;font-size:14.3px" fill="#1A1A1A" text-anchor="middle" stroke="#1A1A1A" stroke-width="0.35">51.7</text>
<text transform="translate(3204.9,533.4) scale(1.03,1)" x="0" y="0" style="font-family:'Liberation Serif', serif;font-size:14.3px" fill="#1A1A1A" text-anchor="middle" stroke="#1A1A1A" stroke-width="0.35">42.6</text>
<text transform="translate(3253.3,533.4) scale(1.03,1)" x="0" y="0" style="font-family:'Liberation Serif', serif;font-size:14.3px" fill="#1A1A1A" text-anchor="middle" stroke="#1A1A1A" stroke-width="0.35">65.8</text>
<text transform="translate(3301.8,533.4) scale(1.03,1)" x="0" y="0" style="font-family:'Liberation Serif', serif;font-size:14.3px" fill="#1A1A1A" text-anchor="middle" stroke="#1A1A1A" stroke-width="0.35">45.9</text>
<text transform="translate(3355,533.4) scale(1.03,1)" x="0" y="0" style="font-family:'Liberation Serif', serif;font-size:14.3px" fill="#1A1A1A" text-anchor="middle" stroke="#1A1A1A" stroke-width="0.35">23</text>
<text transform="translate(3412.5,533.4) scale(1.03,1)" x="0" y="0" style="font-family:'Liberation Serif', serif;font-size:14.3px" fill="#1A1A1A" text-anchor="middle" stroke="#1A1A1A" stroke-width="0.35">199</text>
<text transform="translate(3462.4,533.4) scale(1.03,1)" x="0" y="0" style="font-family:'Liberation Serif', serif;font-size:14.3px" fill="#1A1A1A" text-anchor="middle" stroke="#1A1A1A" stroke-width="0.35">45.1</text>
<text transform="translate(3507.5,533.4) scale(1.03,1)" x="0" y="0" style="font-family:'Liberation Serif', serif;font-size:14.3px" fill="#1A1A1A" text-anchor="middle" stroke="#1A1A1A" stroke-width="0.35">66.2</text>
<text transform="translate(3555.2,533.4) scale(1.03,1)" x="0" y="0" style="font-family:'Liberation Serif', serif;font-size:14.3px" fill="#1A1A1A" text-anchor="middle" stroke="#1A1A1A" stroke-width="0.35">48.1</text>
<text transform="translate(3600.7,533.4) scale(1.03,1)" x="0" y="0" style="font-family:'Liberation Serif', serif;font-size:14.3px" fill="#1A1A1A" text-anchor="middle" stroke="#1A1A1A" stroke-width="0.35">28.8</text>
<text transform="translate(3646.5,533.4) scale(1.03,1)" x="0" y="0" style="font-family:'Liberation Serif', serif;font-size:14.3px" fill="#1A1A1A" text-anchor="middle" stroke="#1A1A1A" stroke-width="0.35">48.9</text>
<text transform="translate(3692,533.4) scale(1.03,1)" x="0" y="0" style="font-family:'Liberation Serif', serif;font-size:14.3px" fill="#1A1A1A" text-anchor="middle" stroke="#1A1A1A" stroke-width="0.35">61.1</text>
<text transform="translate(2863.5,551) scale(1.03,1)" x="0" y="0" style="font-family:'Liberation Serif', serif;font-size:14.3px" fill="#1A1A1A" text-anchor="middle" stroke="#1A1A1A" stroke-width="0.35">SECViT-T</text>
<text transform="translate(2957.4,551) scale(1.03,1)" x="0" y="0" style="font-family:'Liberation Serif', serif;font-size:14.3px" fill="#1A1A1A" text-anchor="middle" stroke="#1A1A1A" stroke-width="0.35">34</text>
<text transform="translate(3014.4,551) scale(1.03,1)" x="0" y="0" style="font-family:'Liberation Serif', serif;font-size:14.3px" fill="#1A1A1A" text-anchor="middle" stroke="#1A1A1A" stroke-width="0.35">221</text>
<text transform="translate(3064.4,551) scale(1.03,1)" x="0" y="0" style="font-family:'Liberation Serif', serif;font-size:14.3px;font-weight:700" fill="#1A1A1A" text-anchor="middle" stroke="#1A1A1A" stroke-width="0.35">47.8</text>
<text transform="translate(3109.5,551) scale(1.03,1)" x="0" y="0" style="font-family:'Liberation Serif', serif;font-size:14.3px;font-weight:700" fill="#1A1A1A" text-anchor="middle" stroke="#1A1A1A" stroke-width="0.35">69.5</text>
<text transform="translate(3157.5,551) scale(1.03,1)" x="0" y="0" style="font-family:'Liberation Serif', serif;font-size:14.3px;font-weight:700" fill="#1A1A1A" text-anchor="middle" stroke="#1A1A1A" stroke-width="0.35">52.5</text>
<text transform="translate(3204.9,551) scale(1.03,1)" x="0" y="0" style="font-family:'Liberation Serif', serif;font-size:14.3px;font-weight:700" fill="#1A1A1A" text-anchor="middle" stroke="#1A1A1A" stroke-width="0.35">43.0</text>
<text transform="translate(3253.3,551) scale(1.03,1)" x="0" y="0" style="font-family:'Liberation Serif', serif;font-size:14.3px;font-weight:700" fill="#1A1A1A" text-anchor="middle" stroke="#1A1A1A" stroke-width="0.35">66.7</text>
<text transform="translate(3301.8,551) scale(1.03,1)" x="0" y="0" style="font-family:'Liberation Serif', serif;font-size:14.3px;font-weight:700" fill="#1A1A1A" text-anchor="middle" stroke="#1A1A1A" stroke-width="0.35">46.3</text>
<text transform="translate(3355,551) scale(1.03,1)" x="0" y="0" style="font-family:'Liberation Serif', serif;font-size:14.3px" fill="#1A1A1A" text-anchor="middle" stroke="#1A1A1A" stroke-width="0.35">24</text>
<text transform="translate(3412.5,551) scale(1.03,1)" x="0" y="0" style="font-family:'Liberation Serif', serif;font-size:14.3px" fill="#1A1A1A" text-anchor="middle" stroke="#1A1A1A" stroke-width="0.35">202</text>
<text transform="translate(3462.4,551) scale(1.03,1)" x="0" y="0" style="font-family:'Liberation Serif', serif;font-size:14.3px;font-weight:700" fill="#1A1A1A" text-anchor="middle" stroke="#1A1A1A" stroke-width="0.35">45.8</text>
<text transform="translate(3507.5,551) scale(1.03,1)" x="0" y="0" style="font-family:'Liberation Serif', serif;font-size:14.3px;font-weight:700" fill="#1A1A1A" text-anchor="middle" stroke="#1A1A1A" stroke-width="0.35">66.8</text>
<text transform="translate(3555.2,551) scale(1.03,1)" x="0" y="0" style="font-family:'Liberation Serif', serif;font-size:14.3px;font-weight:700" fill="#1A1A1A" text-anchor="middle" stroke="#1A1A1A" stroke-width="0.35">49.2</text>
<text transform="translate(3600.7,551) scale(1.03,1)" x="0" y="0" style="font-family:'Liberation Serif', serif;font-size:14.3px;font-weight:700" fill="#1A1A1A" text-anchor="middle" stroke="#1A1A1A" stroke-width="0.35">29.1</text>
<text transform="translate(3646.5,551) scale(1.03,1)" x="0" y="0" style="font-family:'Liberation Serif', serif;font-size:14.3px;font-weight:700" fill="#1A1A1A" text-anchor="middle" stroke="#1A1A1A" stroke-width="0.35">49.8</text>
<text transform="translate(3692,551) scale(1.03,1)" x="0" y="0" style="font-family:'Liberation Serif', serif;font-size:14.3px;font-weight:700" fill="#1A1A1A" text-anchor="middle" stroke="#1A1A1A" stroke-width="0.35">60.9</text>
<text transform="translate(2863.5,576.6) scale(1.03,1)" x="0" y="0" style="font-family:'Liberation Serif', serif;font-size:14.3px" fill="#1A1A1A" text-anchor="middle" stroke="#1A1A1A" stroke-width="0.35">MPViT-S [<tspan fill="#3B7DC4" stroke="#3B7DC4">28</tspan>]</text>
<text transform="translate(2957.4,576.6) scale(1.03,1)" x="0" y="0" style="font-family:'Liberation Serif', serif;font-size:14.3px" fill="#1A1A1A" text-anchor="middle" stroke="#1A1A1A" stroke-width="0.35">43</text>
<text transform="translate(3014.4,576.6) scale(1.03,1)" x="0" y="0" style="font-family:'Liberation Serif', serif;font-size:14.3px" fill="#1A1A1A" text-anchor="middle" stroke="#1A1A1A" stroke-width="0.35">268</text>
<text transform="translate(3064.4,576.6) scale(1.03,1)" x="0" y="0" style="font-family:'Liberation Serif', serif;font-size:14.3px" fill="#1A1A1A" text-anchor="middle" stroke="#1A1A1A" stroke-width="0.35">46.4</text>
<text transform="translate(3109.5,576.6) scale(1.03,1)" x="0" y="0" style="font-family:'Liberation Serif', serif;font-size:14.3px" fill="#1A1A1A" text-anchor="middle" stroke="#1A1A1A" stroke-width="0.35">68.6</text>
<text transform="translate(3157.5,576.6) scale(1.03,1)" x="0" y="0" style="font-family:'Liberation Serif', serif;font-size:14.3px" fill="#1A1A1A" text-anchor="middle" stroke="#1A1A1A" stroke-width="0.35">51.2</text>
<text transform="translate(3204.9,576.6) scale(1.03,1)" x="0" y="0" style="font-family:'Liberation Serif', serif;font-size:14.3px" fill="#1A1A1A" text-anchor="middle" stroke="#1A1A1A" stroke-width="0.35">42.4</text>
<text transform="translate(3253.3,576.6) scale(1.03,1)" x="0" y="0" style="font-family:'Liberation Serif', serif;font-size:14.3px" fill="#1A1A1A" text-anchor="middle" stroke="#1A1A1A" stroke-width="0.35">65.6</text>
<text transform="translate(3301.8,576.6) scale(1.03,1)" x="0" y="0" style="font-family:'Liberation Serif', serif;font-size:14.3px" fill="#1A1A1A" text-anchor="middle" stroke="#1A1A1A" stroke-width="0.35">45.7</text>
<text transform="translate(3355,576.6) scale(1.03,1)" x="0" y="0" style="font-family:'Liberation Serif', serif;font-size:14.3px" fill="#1A1A1A" text-anchor="middle" stroke="#1A1A1A" stroke-width="0.35">32</text>
<text transform="translate(3412.5,576.6) scale(1.03,1)" x="0" y="0" style="font-family:'Liberation Serif', serif;font-size:14.3px" fill="#1A1A1A" text-anchor="middle" stroke="#1A1A1A" stroke-width="0.35">248</text>
<text transform="translate(3462.4,576.6) scale(1.03,1)" x="0" y="0" style="font-family:'Liberation Serif', serif;font-size:14.3px" fill="#1A1A1A" text-anchor="middle" stroke="#1A1A1A" stroke-width="0.35">45.7</text>
<text transform="translate(3507.5,576.6) scale(1.03,1)" x="0" y="0" style="font-family:'Liberation Serif', serif;font-size:14.3px" fill="#1A1A1A" text-anchor="middle" stroke="#1A1A1A" stroke-width="0.35">57.3</text>
<text transform="translate(3555.2,576.6) scale(1.03,1)" x="0" y="0" style="font-family:'Liberation Serif', serif;font-size:14.3px" fill="#1A1A1A" text-anchor="middle" stroke="#1A1A1A" stroke-width="0.35">48.8</text>
<text transform="translate(3600.7,576.6) scale(1.03,1)" x="0" y="0" style="font-family:'Liberation Serif', serif;font-size:14.3px" fill="#1A1A1A" text-anchor="middle" stroke="#1A1A1A" stroke-width="0.35">28.7</text>
<text transform="translate(3646.5,576.6) scale(1.03,1)" x="0" y="0" style="font-family:'Liberation Serif', serif;font-size:14.3px" fill="#1A1A1A" text-anchor="middle" stroke="#1A1A1A" stroke-width="0.35">49.7</text>
<text transform="translate(3692,576.6) scale(1.03,1)" x="0" y="0" style="font-family:'Liberation Serif', serif;font-size:14.3px" fill="#1A1A1A" text-anchor="middle" stroke="#1A1A1A" stroke-width="0.35">59.2</text>
<text transform="translate(2863.5,594.1) scale(1.03,1)" x="0" y="0" style="font-family:'Liberation Serif', serif;font-size:14.3px" fill="#1A1A1A" text-anchor="middle" stroke="#1A1A1A" stroke-width="0.35">MLLA-T [<tspan fill="#3B7DC4" stroke="#3B7DC4">18</tspan>]</text>
<text transform="translate(2957.4,594.1) scale(1.03,1)" x="0" y="0" style="font-family:'Liberation Serif', serif;font-size:14.3px" fill="#1A1A1A" text-anchor="middle" stroke="#1A1A1A" stroke-width="0.35">44</text>
<text transform="translate(3014.4,594.1) scale(1.03,1)" x="0" y="0" style="font-family:'Liberation Serif', serif;font-size:14.3px" fill="#1A1A1A" text-anchor="middle" stroke="#1A1A1A" stroke-width="0.35">255</text>
<text transform="translate(3064.4,594.1) scale(1.03,1)" x="0" y="0" style="font-family:'Liberation Serif', serif;font-size:14.3px" fill="#1A1A1A" text-anchor="middle" stroke="#1A1A1A" stroke-width="0.35">46.8</text>
<text transform="translate(3109.5,594.1) scale(1.03,1)" x="0" y="0" style="font-family:'Liberation Serif', serif;font-size:14.3px" fill="#1A1A1A" text-anchor="middle" stroke="#1A1A1A" stroke-width="0.35">69.5</text>
<text transform="translate(3157.5,594.1) scale(1.03,1)" x="0" y="0" style="font-family:'Liberation Serif', serif;font-size:14.3px" fill="#1A1A1A" text-anchor="middle" stroke="#1A1A1A" stroke-width="0.35">51.5</text>
<text transform="translate(3204.9,594.1) scale(1.03,1)" x="0" y="0" style="font-family:'Liberation Serif', serif;font-size:14.3px" fill="#1A1A1A" text-anchor="middle" stroke="#1A1A1A" stroke-width="0.35">42.1</text>
<text transform="translate(3253.3,594.1) scale(1.03,1)" x="0" y="0" style="font-family:'Liberation Serif', serif;font-size:14.3px" fill="#1A1A1A" text-anchor="middle" stroke="#1A1A1A" stroke-width="0.35">66.4</text>
<text transform="translate(3301.8,594.1) scale(1.03,1)" x="0" y="0" style="font-family:'Liberation Serif', serif;font-size:14.3px" fill="#1A1A1A" text-anchor="middle" stroke="#1A1A1A" stroke-width="0.35">45.0</text>
<text transform="translate(3355,594.1) scale(1.03,1)" x="0" y="0" style="font-family:'Liberation Serif', serif;font-size:14.3px" fill="#1A1A1A" text-anchor="middle" stroke="#1A1A1A" stroke-width="0.35">–</text>
<text transform="translate(3412.5,594.1) scale(1.03,1)" x="0" y="0" style="font-family:'Liberation Serif', serif;font-size:14.3px" fill="#1A1A1A" text-anchor="middle" stroke="#1A1A1A" stroke-width="0.35">–</text>
<text transform="translate(3462.4,594.1) scale(1.03,1)" x="0" y="0" style="font-family:'Liberation Serif', serif;font-size:14.3px" fill="#1A1A1A" text-anchor="middle" stroke="#1A1A1A" stroke-width="0.35">–</text>
<text transform="translate(3507.5,594.1) scale(1.03,1)" x="0" y="0" style="font-family:'Liberation Serif', serif;font-size:14.3px" fill="#1A1A1A" text-anchor="middle" stroke="#1A1A1A" stroke-width="0.35">–</text>
<text transform="translate(3555.2,594.1) scale(1.03,1)" x="0" y="0" style="font-family:'Liberation Serif', serif;font-size:14.3px" fill="#1A1A1A" text-anchor="middle" stroke="#1A1A1A" stroke-width="0.35">–</text>
<text transform="translate(3600.7,594.1) scale(1.03,1)" x="0" y="0" style="font-family:'Liberation Serif', serif;font-size:14.3px" fill="#1A1A1A" text-anchor="middle" stroke="#1A1A1A" stroke-width="0.35">–</text>
<text transform="translate(3646.5,594.1) scale(1.03,1)" x="0" y="0" style="font-family:'Liberation Serif', serif;font-size:14.3px" fill="#1A1A1A" text-anchor="middle" stroke="#1A1A1A" stroke-width="0.35">–</text>
<text transform="translate(3692,594.1) scale(1.03,1)" x="0" y="0" style="font-family:'Liberation Serif', serif;font-size:14.3px" fill="#1A1A1A" text-anchor="middle" stroke="#1A1A1A" stroke-width="0.35">–</text>
<text transform="translate(2863.5,612) scale(1.03,1)" x="0" y="0" style="font-family:'Liberation Serif', serif;font-size:14.3px" fill="#1A1A1A" text-anchor="middle" stroke="#1A1A1A" stroke-width="0.35">STViT-S [<tspan fill="#3B7DC4" stroke="#3B7DC4">22</tspan>]</text>
<text transform="translate(2957.4,612) scale(1.03,1)" x="0" y="0" style="font-family:'Liberation Serif', serif;font-size:14.3px" fill="#1A1A1A" text-anchor="middle" stroke="#1A1A1A" stroke-width="0.35">44</text>
<text transform="translate(3014.4,612) scale(1.03,1)" x="0" y="0" style="font-family:'Liberation Serif', serif;font-size:14.3px" fill="#1A1A1A" text-anchor="middle" stroke="#1A1A1A" stroke-width="0.35">252</text>
<text transform="translate(3064.4,612) scale(1.03,1)" x="0" y="0" style="font-family:'Liberation Serif', serif;font-size:14.3px" fill="#1A1A1A" text-anchor="middle" stroke="#1A1A1A" stroke-width="0.35">47.6</text>
<text transform="translate(3109.5,612) scale(1.03,1)" x="0" y="0" style="font-family:'Liberation Serif', serif;font-size:14.3px" fill="#1A1A1A" text-anchor="middle" stroke="#1A1A1A" stroke-width="0.35">70.0</text>
<text transform="translate(3157.5,612) scale(1.03,1)" x="0" y="0" style="font-family:'Liberation Serif', serif;font-size:14.3px" fill="#1A1A1A" text-anchor="middle" stroke="#1A1A1A" stroke-width="0.35">52.3</text>
<text transform="translate(3204.9,612) scale(1.03,1)" x="0" y="0" style="font-family:'Liberation Serif', serif;font-size:14.3px" fill="#1A1A1A" text-anchor="middle" stroke="#1A1A1A" stroke-width="0.35">43.1</text>
<text transform="translate(3253.3,612) scale(1.03,1)" x="0" y="0" style="font-family:'Liberation Serif', serif;font-size:14.3px" fill="#1A1A1A" text-anchor="middle" stroke="#1A1A1A" stroke-width="0.35">66.8</text>
<text transform="translate(3301.8,612) scale(1.03,1)" x="0" y="0" style="font-family:'Liberation Serif', serif;font-size:14.3px" fill="#1A1A1A" text-anchor="middle" stroke="#1A1A1A" stroke-width="0.35">46.5</text>
<text transform="translate(3355,612) scale(1.03,1)" x="0" y="0" style="font-family:'Liberation Serif', serif;font-size:14.3px" fill="#1A1A1A" text-anchor="middle" stroke="#1A1A1A" stroke-width="0.35">–</text>
<text transform="translate(3412.5,612) scale(1.03,1)" x="0" y="0" style="font-family:'Liberation Serif', serif;font-size:14.3px" fill="#1A1A1A" text-anchor="middle" stroke="#1A1A1A" stroke-width="0.35">–</text>
<text transform="translate(3462.4,612) scale(1.03,1)" x="0" y="0" style="font-family:'Liberation Serif', serif;font-size:14.3px" fill="#1A1A1A" text-anchor="middle" stroke="#1A1A1A" stroke-width="0.35">–</text>
<text transform="translate(3507.5,612) scale(1.03,1)" x="0" y="0" style="font-family:'Liberation Serif', serif;font-size:14.3px" fill="#1A1A1A" text-anchor="middle" stroke="#1A1A1A" stroke-width="0.35">–</text>
<text transform="translate(3555.2,612) scale(1.03,1)" x="0" y="0" style="font-family:'Liberation Serif', serif;font-size:14.3px" fill="#1A1A1A" text-anchor="middle" stroke="#1A1A1A" stroke-width="0.35">–</text>
<text transform="translate(3600.7,612) scale(1.03,1)" x="0" y="0" style="font-family:'Liberation Serif', serif;font-size:14.3px" fill="#1A1A1A" text-anchor="middle" stroke="#1A1A1A" stroke-width="0.35">–</text>
<text transform="translate(3646.5,612) scale(1.03,1)" x="0" y="0" style="font-family:'Liberation Serif', serif;font-size:14.3px" fill="#1A1A1A" text-anchor="middle" stroke="#1A1A1A" stroke-width="0.35">–</text>
<text transform="translate(3692,612) scale(1.03,1)" x="0" y="0" style="font-family:'Liberation Serif', serif;font-size:14.3px" fill="#1A1A1A" text-anchor="middle" stroke="#1A1A1A" stroke-width="0.35">–</text>
<text transform="translate(2863.5,629.1) scale(1.03,1)" x="0" y="0" style="font-family:'Liberation Serif', serif;font-size:14.3px" fill="#1A1A1A" text-anchor="middle" stroke="#1A1A1A" stroke-width="0.35">RMT-S [<tspan fill="#3B7DC4" stroke="#3B7DC4">13</tspan>]</text>
<text transform="translate(2957.4,629.1) scale(1.03,1)" x="0" y="0" style="font-family:'Liberation Serif', serif;font-size:14.3px" fill="#1A1A1A" text-anchor="middle" stroke="#1A1A1A" stroke-width="0.35">46</text>
<text transform="translate(3014.4,629.1) scale(1.03,1)" x="0" y="0" style="font-family:'Liberation Serif', serif;font-size:14.3px" fill="#1A1A1A" text-anchor="middle" stroke="#1A1A1A" stroke-width="0.35">262</text>
<text transform="translate(3064.4,629.1) scale(1.03,1)" x="0" y="0" style="font-family:'Liberation Serif', serif;font-size:14.3px" fill="#1A1A1A" text-anchor="middle" stroke="#1A1A1A" stroke-width="0.35">49.0</text>
<text transform="translate(3109.5,629.1) scale(1.03,1)" x="0" y="0" style="font-family:'Liberation Serif', serif;font-size:14.3px" fill="#1A1A1A" text-anchor="middle" stroke="#1A1A1A" stroke-width="0.35">70.8</text>
<text transform="translate(3157.5,629.1) scale(1.03,1)" x="0" y="0" style="font-family:'Liberation Serif', serif;font-size:14.3px" fill="#1A1A1A" text-anchor="middle" stroke="#1A1A1A" stroke-width="0.35">53.9</text>
<text transform="translate(3204.9,629.1) scale(1.03,1)" x="0" y="0" style="font-family:'Liberation Serif', serif;font-size:14.3px" fill="#1A1A1A" text-anchor="middle" stroke="#1A1A1A" stroke-width="0.35">43.9</text>
<text transform="translate(3253.3,629.1) scale(1.03,1)" x="0" y="0" style="font-family:'Liberation Serif', serif;font-size:14.3px" fill="#1A1A1A" text-anchor="middle" stroke="#1A1A1A" stroke-width="0.35">67.8</text>
<text transform="translate(3301.8,629.1) scale(1.03,1)" x="0" y="0" style="font-family:'Liberation Serif', serif;font-size:14.3px" fill="#1A1A1A" text-anchor="middle" stroke="#1A1A1A" stroke-width="0.35">47.4</text>
<text transform="translate(3355,629.1) scale(1.03,1)" x="0" y="0" style="font-family:'Liberation Serif', serif;font-size:14.3px" fill="#1A1A1A" text-anchor="middle" stroke="#1A1A1A" stroke-width="0.35">36</text>
<text transform="translate(3412.5,629.1) scale(1.03,1)" x="0" y="0" style="font-family:'Liberation Serif', serif;font-size:14.3px" fill="#1A1A1A" text-anchor="middle" stroke="#1A1A1A" stroke-width="0.35">244</text>
<text transform="translate(3462.4,629.1) scale(1.03,1)" x="0" y="0" style="font-family:'Liberation Serif', serif;font-size:14.3px" fill="#1A1A1A" text-anchor="middle" stroke="#1A1A1A" stroke-width="0.35">47.8</text>
<text transform="translate(3507.5,629.1) scale(1.03,1)" x="0" y="0" style="font-family:'Liberation Serif', serif;font-size:14.3px" fill="#1A1A1A" text-anchor="middle" stroke="#1A1A1A" stroke-width="0.35">69.1</text>
<text transform="translate(3555.2,629.1) scale(1.03,1)" x="0" y="0" style="font-family:'Liberation Serif', serif;font-size:14.3px" fill="#1A1A1A" text-anchor="middle" stroke="#1A1A1A" stroke-width="0.35">51.8</text>
<text transform="translate(3600.7,629.1) scale(1.03,1)" x="0" y="0" style="font-family:'Liberation Serif', serif;font-size:14.3px" fill="#1A1A1A" text-anchor="middle" stroke="#1A1A1A" stroke-width="0.35">32.1</text>
<text transform="translate(3646.5,629.1) scale(1.03,1)" x="0" y="0" style="font-family:'Liberation Serif', serif;font-size:14.3px" fill="#1A1A1A" text-anchor="middle" stroke="#1A1A1A" stroke-width="0.35">51.8</text>
<text transform="translate(3692,629.1) scale(1.03,1)" x="0" y="0" style="font-family:'Liberation Serif', serif;font-size:14.3px" fill="#1A1A1A" text-anchor="middle" stroke="#1A1A1A" stroke-width="0.35">63.5</text>
<text transform="translate(2863.5,647.4) scale(1.03,1)" x="0" y="0" style="font-family:'Liberation Serif', serif;font-size:14.3px" fill="#1A1A1A" text-anchor="middle" stroke="#1A1A1A" stroke-width="0.35">SECViT-S</text>
<text transform="translate(2957.4,647.4) scale(1.03,1)" x="0" y="0" style="font-family:'Liberation Serif', serif;font-size:14.3px" fill="#1A1A1A" text-anchor="middle" stroke="#1A1A1A" stroke-width="0.35">45</text>
<text transform="translate(3014.4,647.4) scale(1.03,1)" x="0" y="0" style="font-family:'Liberation Serif', serif;font-size:14.3px" fill="#1A1A1A" text-anchor="middle" stroke="#1A1A1A" stroke-width="0.35">262</text>
<text transform="translate(3064.4,647.4) scale(1.03,1)" x="0" y="0" style="font-family:'Liberation Serif', serif;font-size:14.3px;font-weight:700" fill="#1A1A1A" text-anchor="middle" stroke="#1A1A1A" stroke-width="0.35">49.9</text>
<text transform="translate(3109.5,647.4) scale(1.03,1)" x="0" y="0" style="font-family:'Liberation Serif', serif;font-size:14.3px;font-weight:700" fill="#1A1A1A" text-anchor="middle" stroke="#1A1A1A" stroke-width="0.35">70.9</text>
<text transform="translate(3157.5,647.4) scale(1.03,1)" x="0" y="0" style="font-family:'Liberation Serif', serif;font-size:14.3px;font-weight:700" fill="#1A1A1A" text-anchor="middle" stroke="#1A1A1A" stroke-width="0.35">54.7</text>
<text transform="translate(3204.9,647.4) scale(1.03,1)" x="0" y="0" style="font-family:'Liberation Serif', serif;font-size:14.3px;font-weight:700" fill="#1A1A1A" text-anchor="middle" stroke="#1A1A1A" stroke-width="0.35">44.6</text>
<text transform="translate(3253.3,647.4) scale(1.03,1)" x="0" y="0" style="font-family:'Liberation Serif', serif;font-size:14.3px;font-weight:700" fill="#1A1A1A" text-anchor="middle" stroke="#1A1A1A" stroke-width="0.35">68.3</text>
<text transform="translate(3301.8,647.4) scale(1.03,1)" x="0" y="0" style="font-family:'Liberation Serif', serif;font-size:14.3px;font-weight:700" fill="#1A1A1A" text-anchor="middle" stroke="#1A1A1A" stroke-width="0.35">47.7</text>
<text transform="translate(3355,647.4) scale(1.03,1)" x="0" y="0" style="font-family:'Liberation Serif', serif;font-size:14.3px" fill="#1A1A1A" text-anchor="middle" stroke="#1A1A1A" stroke-width="0.35">35</text>
<text transform="translate(3412.5,647.4) scale(1.03,1)" x="0" y="0" style="font-family:'Liberation Serif', serif;font-size:14.3px" fill="#1A1A1A" text-anchor="middle" stroke="#1A1A1A" stroke-width="0.35">240</text>
<text transform="translate(3462.4,647.4) scale(1.03,1)" x="0" y="0" style="font-family:'Liberation Serif', serif;font-size:14.3px;font-weight:700" fill="#1A1A1A" text-anchor="middle" stroke="#1A1A1A" stroke-width="0.35">48.4</text>
<text transform="translate(3507.5,647.4) scale(1.03,1)" x="0" y="0" style="font-family:'Liberation Serif', serif;font-size:14.3px;font-weight:700" fill="#1A1A1A" text-anchor="middle" stroke="#1A1A1A" stroke-width="0.35">69.4</text>
<text transform="translate(3555.2,647.4) scale(1.03,1)" x="0" y="0" style="font-family:'Liberation Serif', serif;font-size:14.3px;font-weight:700" fill="#1A1A1A" text-anchor="middle" stroke="#1A1A1A" stroke-width="0.35">52.0</text>
<text transform="translate(3600.7,647.4) scale(1.03,1)" x="0" y="0" style="font-family:'Liberation Serif', serif;font-size:14.3px;font-weight:700" fill="#1A1A1A" text-anchor="middle" stroke="#1A1A1A" stroke-width="0.35">31.3</text>
<text transform="translate(3646.5,647.4) scale(1.03,1)" x="0" y="0" style="font-family:'Liberation Serif', serif;font-size:14.3px;font-weight:700" fill="#1A1A1A" text-anchor="middle" stroke="#1A1A1A" stroke-width="0.35">53.3</text>
<text transform="translate(3692,647.4) scale(1.03,1)" x="0" y="0" style="font-family:'Liberation Serif', serif;font-size:14.3px;font-weight:700" fill="#1A1A1A" text-anchor="middle" stroke="#1A1A1A" stroke-width="0.35">63.8</text>
<text transform="translate(2863.5,672.4) scale(1.03,1)" x="0" y="0" style="font-family:'Liberation Serif', serif;font-size:14.3px" fill="#1A1A1A" text-anchor="middle" stroke="#1A1A1A" stroke-width="0.35">ScalableViT-B [<tspan fill="#3B7DC4" stroke="#3B7DC4">56</tspan>]</text>
<text transform="translate(2957.4,672.4) scale(1.03,1)" x="0" y="0" style="font-family:'Liberation Serif', serif;font-size:14.3px" fill="#1A1A1A" text-anchor="middle" stroke="#1A1A1A" stroke-width="0.35">95</text>
<text transform="translate(3014.4,672.4) scale(1.03,1)" x="0" y="0" style="font-family:'Liberation Serif', serif;font-size:14.3px" fill="#1A1A1A" text-anchor="middle" stroke="#1A1A1A" stroke-width="0.35">349</text>
<text transform="translate(3064.4,672.4) scale(1.03,1)" x="0" y="0" style="font-family:'Liberation Serif', serif;font-size:14.3px" fill="#1A1A1A" text-anchor="middle" stroke="#1A1A1A" stroke-width="0.35">46.8</text>
<text transform="translate(3109.5,672.4) scale(1.03,1)" x="0" y="0" style="font-family:'Liberation Serif', serif;font-size:14.3px" fill="#1A1A1A" text-anchor="middle" stroke="#1A1A1A" stroke-width="0.35">68.7</text>
<text transform="translate(3157.5,672.4) scale(1.03,1)" x="0" y="0" style="font-family:'Liberation Serif', serif;font-size:14.3px" fill="#1A1A1A" text-anchor="middle" stroke="#1A1A1A" stroke-width="0.35">51.5</text>
<text transform="translate(3204.9,672.4) scale(1.03,1)" x="0" y="0" style="font-family:'Liberation Serif', serif;font-size:14.3px" fill="#1A1A1A" text-anchor="middle" stroke="#1A1A1A" stroke-width="0.35">42.5</text>
<text transform="translate(3253.3,672.4) scale(1.03,1)" x="0" y="0" style="font-family:'Liberation Serif', serif;font-size:14.3px" fill="#1A1A1A" text-anchor="middle" stroke="#1A1A1A" stroke-width="0.35">65.8</text>
<text transform="translate(3301.8,672.4) scale(1.03,1)" x="0" y="0" style="font-family:'Liberation Serif', serif;font-size:14.3px" fill="#1A1A1A" text-anchor="middle" stroke="#1A1A1A" stroke-width="0.35">45.9</text>
<text transform="translate(3355,672.4) scale(1.03,1)" x="0" y="0" style="font-family:'Liberation Serif', serif;font-size:14.3px" fill="#1A1A1A" text-anchor="middle" stroke="#1A1A1A" stroke-width="0.35">85</text>
<text transform="translate(3412.5,672.4) scale(1.03,1)" x="0" y="0" style="font-family:'Liberation Serif', serif;font-size:14.3px" fill="#1A1A1A" text-anchor="middle" stroke="#1A1A1A" stroke-width="0.35">330</text>
<text transform="translate(3462.4,672.4) scale(1.03,1)" x="0" y="0" style="font-family:'Liberation Serif', serif;font-size:14.3px" fill="#1A1A1A" text-anchor="middle" stroke="#1A1A1A" stroke-width="0.35">45.8</text>
<text transform="translate(3507.5,672.4) scale(1.03,1)" x="0" y="0" style="font-family:'Liberation Serif', serif;font-size:14.3px" fill="#1A1A1A" text-anchor="middle" stroke="#1A1A1A" stroke-width="0.35">67.3</text>
<text transform="translate(3555.2,672.4) scale(1.03,1)" x="0" y="0" style="font-family:'Liberation Serif', serif;font-size:14.3px" fill="#1A1A1A" text-anchor="middle" stroke="#1A1A1A" stroke-width="0.35">49.2</text>
<text transform="translate(3600.7,672.4) scale(1.03,1)" x="0" y="0" style="font-family:'Liberation Serif', serif;font-size:14.3px" fill="#1A1A1A" text-anchor="middle" stroke="#1A1A1A" stroke-width="0.35">29.9</text>
<text transform="translate(3646.5,672.4) scale(1.03,1)" x="0" y="0" style="font-family:'Liberation Serif', serif;font-size:14.3px" fill="#1A1A1A" text-anchor="middle" stroke="#1A1A1A" stroke-width="0.35">49.5</text>
<text transform="translate(3692,672.4) scale(1.03,1)" x="0" y="0" style="font-family:'Liberation Serif', serif;font-size:14.3px" fill="#1A1A1A" text-anchor="middle" stroke="#1A1A1A" stroke-width="0.35">61.0</text>
<text transform="translate(2863.5,690.3) scale(1.03,1)" x="0" y="0" style="font-family:'Liberation Serif', serif;font-size:14.3px" fill="#1A1A1A" text-anchor="middle" stroke="#1A1A1A" stroke-width="0.35">InternImage-S [<tspan fill="#3B7DC4" stroke="#3B7DC4">48</tspan>]</text>
<text transform="translate(2957.4,690.3) scale(1.03,1)" x="0" y="0" style="font-family:'Liberation Serif', serif;font-size:14.3px" fill="#1A1A1A" text-anchor="middle" stroke="#1A1A1A" stroke-width="0.35">69</text>
<text transform="translate(3014.4,690.3) scale(1.03,1)" x="0" y="0" style="font-family:'Liberation Serif', serif;font-size:14.3px" fill="#1A1A1A" text-anchor="middle" stroke="#1A1A1A" stroke-width="0.35">340</text>
<text transform="translate(3064.4,690.3) scale(1.03,1)" x="0" y="0" style="font-family:'Liberation Serif', serif;font-size:14.3px" fill="#1A1A1A" text-anchor="middle" stroke="#1A1A1A" stroke-width="0.35">47.8</text>
<text transform="translate(3109.5,690.3) scale(1.03,1)" x="0" y="0" style="font-family:'Liberation Serif', serif;font-size:14.3px" fill="#1A1A1A" text-anchor="middle" stroke="#1A1A1A" stroke-width="0.35">69.8</text>
<text transform="translate(3157.5,690.3) scale(1.03,1)" x="0" y="0" style="font-family:'Liberation Serif', serif;font-size:14.3px" fill="#1A1A1A" text-anchor="middle" stroke="#1A1A1A" stroke-width="0.35">52.8</text>
<text transform="translate(3204.9,690.3) scale(1.03,1)" x="0" y="0" style="font-family:'Liberation Serif', serif;font-size:14.3px" fill="#1A1A1A" text-anchor="middle" stroke="#1A1A1A" stroke-width="0.35">43.3</text>
<text transform="translate(3253.3,690.3) scale(1.03,1)" x="0" y="0" style="font-family:'Liberation Serif', serif;font-size:14.3px" fill="#1A1A1A" text-anchor="middle" stroke="#1A1A1A" stroke-width="0.35">67.1</text>
<text transform="translate(3301.8,690.3) scale(1.03,1)" x="0" y="0" style="font-family:'Liberation Serif', serif;font-size:14.3px" fill="#1A1A1A" text-anchor="middle" stroke="#1A1A1A" stroke-width="0.35">46.7</text>
<text transform="translate(3355,690.3) scale(1.03,1)" x="0" y="0" style="font-family:'Liberation Serif', serif;font-size:14.3px" fill="#1A1A1A" text-anchor="middle" stroke="#1A1A1A" stroke-width="0.35">–</text>
<text transform="translate(3412.5,690.3) scale(1.03,1)" x="0" y="0" style="font-family:'Liberation Serif', serif;font-size:14.3px" fill="#1A1A1A" text-anchor="middle" stroke="#1A1A1A" stroke-width="0.35">–</text>
<text transform="translate(3462.4,690.3) scale(1.03,1)" x="0" y="0" style="font-family:'Liberation Serif', serif;font-size:14.3px" fill="#1A1A1A" text-anchor="middle" stroke="#1A1A1A" stroke-width="0.35">–</text>
<text transform="translate(3507.5,690.3) scale(1.03,1)" x="0" y="0" style="font-family:'Liberation Serif', serif;font-size:14.3px" fill="#1A1A1A" text-anchor="middle" stroke="#1A1A1A" stroke-width="0.35">–</text>
<text transform="translate(3555.2,690.3) scale(1.03,1)" x="0" y="0" style="font-family:'Liberation Serif', serif;font-size:14.3px" fill="#1A1A1A" text-anchor="middle" stroke="#1A1A1A" stroke-width="0.35">–</text>
<text transform="translate(3600.7,690.3) scale(1.03,1)" x="0" y="0" style="font-family:'Liberation Serif', serif;font-size:14.3px" fill="#1A1A1A" text-anchor="middle" stroke="#1A1A1A" stroke-width="0.35">–</text>
<text transform="translate(3646.5,690.3) scale(1.03,1)" x="0" y="0" style="font-family:'Liberation Serif', serif;font-size:14.3px" fill="#1A1A1A" text-anchor="middle" stroke="#1A1A1A" stroke-width="0.35">–</text>
<text transform="translate(3692,690.3) scale(1.03,1)" x="0" y="0" style="font-family:'Liberation Serif', serif;font-size:14.3px" fill="#1A1A1A" text-anchor="middle" stroke="#1A1A1A" stroke-width="0.35">–</text>
<text transform="translate(2863.5,708.1) scale(1.03,1)" x="0" y="0" style="font-family:'Liberation Serif', serif;font-size:14.3px" fill="#1A1A1A" text-anchor="middle" stroke="#1A1A1A" stroke-width="0.35">MLLA-S [<tspan fill="#3B7DC4" stroke="#3B7DC4">18</tspan>]</text>
<text transform="translate(2957.4,708.1) scale(1.03,1)" x="0" y="0" style="font-family:'Liberation Serif', serif;font-size:14.3px" fill="#1A1A1A" text-anchor="middle" stroke="#1A1A1A" stroke-width="0.35">63</text>
<text transform="translate(3014.4,708.1) scale(1.03,1)" x="0" y="0" style="font-family:'Liberation Serif', serif;font-size:14.3px" fill="#1A1A1A" text-anchor="middle" stroke="#1A1A1A" stroke-width="0.35">319</text>
<text transform="translate(3064.4,708.1) scale(1.03,1)" x="0" y="0" style="font-family:'Liberation Serif', serif;font-size:14.3px" fill="#1A1A1A" text-anchor="middle" stroke="#1A1A1A" stroke-width="0.35">49.2</text>
<text transform="translate(3109.5,708.1) scale(1.03,1)" x="0" y="0" style="font-family:'Liberation Serif', serif;font-size:14.3px" fill="#1A1A1A" text-anchor="middle" stroke="#1A1A1A" stroke-width="0.35">71.5</text>
<text transform="translate(3157.5,708.1) scale(1.03,1)" x="0" y="0" style="font-family:'Liberation Serif', serif;font-size:14.3px" fill="#1A1A1A" text-anchor="middle" stroke="#1A1A1A" stroke-width="0.35">53.9</text>
<text transform="translate(3204.9,708.1) scale(1.03,1)" x="0" y="0" style="font-family:'Liberation Serif', serif;font-size:14.3px" fill="#1A1A1A" text-anchor="middle" stroke="#1A1A1A" stroke-width="0.35">44.2</text>
<text transform="translate(3253.3,708.1) scale(1.03,1)" x="0" y="0" style="font-family:'Liberation Serif', serif;font-size:14.3px" fill="#1A1A1A" text-anchor="middle" stroke="#1A1A1A" stroke-width="0.35">68.5</text>
<text transform="translate(3301.8,708.1) scale(1.03,1)" x="0" y="0" style="font-family:'Liberation Serif', serif;font-size:14.3px" fill="#1A1A1A" text-anchor="middle" stroke="#1A1A1A" stroke-width="0.35">47.2</text>
<text transform="translate(3355,708.1) scale(1.03,1)" x="0" y="0" style="font-family:'Liberation Serif', serif;font-size:14.3px" fill="#1A1A1A" text-anchor="middle" stroke="#1A1A1A" stroke-width="0.35">–</text>
<text transform="translate(3412.5,708.1) scale(1.03,1)" x="0" y="0" style="font-family:'Liberation Serif', serif;font-size:14.3px" fill="#1A1A1A" text-anchor="middle" stroke="#1A1A1A" stroke-width="0.35">–</text>
<text transform="translate(3462.4,708.1) scale(1.03,1)" x="0" y="0" style="font-family:'Liberation Serif', serif;font-size:14.3px" fill="#1A1A1A" text-anchor="middle" stroke="#1A1A1A" stroke-width="0.35">–</text>
<text transform="translate(3507.5,708.1) scale(1.03,1)" x="0" y="0" style="font-family:'Liberation Serif', serif;font-size:14.3px" fill="#1A1A1A" text-anchor="middle" stroke="#1A1A1A" stroke-width="0.35">–</text>
<text transform="translate(3555.2,708.1) scale(1.03,1)" x="0" y="0" style="font-family:'Liberation Serif', serif;font-size:14.3px" fill="#1A1A1A" text-anchor="middle" stroke="#1A1A1A" stroke-width="0.35">–</text>
<text transform="translate(3600.7,708.1) scale(1.03,1)" x="0" y="0" style="font-family:'Liberation Serif', serif;font-size:14.3px" fill="#1A1A1A" text-anchor="middle" stroke="#1A1A1A" stroke-width="0.35">–</text>
<text transform="translate(3646.5,708.1) scale(1.03,1)" x="0" y="0" style="font-family:'Liberation Serif', serif;font-size:14.3px" fill="#1A1A1A" text-anchor="middle" stroke="#1A1A1A" stroke-width="0.35">–</text>
<text transform="translate(3692,708.1) scale(1.03,1)" x="0" y="0" style="font-family:'Liberation Serif', serif;font-size:14.3px" fill="#1A1A1A" text-anchor="middle" stroke="#1A1A1A" stroke-width="0.35">–</text>
<text transform="translate(2863.5,725.3) scale(1.03,1)" x="0" y="0" style="font-family:'Liberation Serif', serif;font-size:14.3px" fill="#1A1A1A" text-anchor="middle" stroke="#1A1A1A" stroke-width="0.35">STViT-B [<tspan fill="#3B7DC4" stroke="#3B7DC4">22</tspan>]</text>
<text transform="translate(2957.4,725.3) scale(1.03,1)" x="0" y="0" style="font-family:'Liberation Serif', serif;font-size:14.3px" fill="#1A1A1A" text-anchor="middle" stroke="#1A1A1A" stroke-width="0.35">70</text>
<text transform="translate(3014.4,725.3) scale(1.03,1)" x="0" y="0" style="font-family:'Liberation Serif', serif;font-size:14.3px" fill="#1A1A1A" text-anchor="middle" stroke="#1A1A1A" stroke-width="0.35">359</text>
<text transform="translate(3064.4,725.3) scale(1.03,1)" x="0" y="0" style="font-family:'Liberation Serif', serif;font-size:14.3px" fill="#1A1A1A" text-anchor="middle" stroke="#1A1A1A" stroke-width="0.35">49.7</text>
<text transform="translate(3109.5,725.3) scale(1.03,1)" x="0" y="0" style="font-family:'Liberation Serif', serif;font-size:14.3px" fill="#1A1A1A" text-anchor="middle" stroke="#1A1A1A" stroke-width="0.35">71.7</text>
<text transform="translate(3157.5,725.3) scale(1.03,1)" x="0" y="0" style="font-family:'Liberation Serif', serif;font-size:14.3px" fill="#1A1A1A" text-anchor="middle" stroke="#1A1A1A" stroke-width="0.35">54.7</text>
<text transform="translate(3204.9,725.3) scale(1.03,1)" x="0" y="0" style="font-family:'Liberation Serif', serif;font-size:14.3px" fill="#1A1A1A" text-anchor="middle" stroke="#1A1A1A" stroke-width="0.35">44.8</text>
<text transform="translate(3253.3,725.3) scale(1.03,1)" x="0" y="0" style="font-family:'Liberation Serif', serif;font-size:14.3px" fill="#1A1A1A" text-anchor="middle" stroke="#1A1A1A" stroke-width="0.35">68.9</text>
<text transform="translate(3301.8,725.3) scale(1.03,1)" x="0" y="0" style="font-family:'Liberation Serif', serif;font-size:14.3px" fill="#1A1A1A" text-anchor="middle" stroke="#1A1A1A" stroke-width="0.35">48.7</text>
<text transform="translate(3355,725.3) scale(1.03,1)" x="0" y="0" style="font-family:'Liberation Serif', serif;font-size:14.3px" fill="#1A1A1A" text-anchor="middle" stroke="#1A1A1A" stroke-width="0.35">–</text>
<text transform="translate(3412.5,725.3) scale(1.03,1)" x="0" y="0" style="font-family:'Liberation Serif', serif;font-size:14.3px" fill="#1A1A1A" text-anchor="middle" stroke="#1A1A1A" stroke-width="0.35">–</text>
<text transform="translate(3462.4,725.3) scale(1.03,1)" x="0" y="0" style="font-family:'Liberation Serif', serif;font-size:14.3px" fill="#1A1A1A" text-anchor="middle" stroke="#1A1A1A" stroke-width="0.35">–</text>
<text transform="translate(3507.5,725.3) scale(1.03,1)" x="0" y="0" style="font-family:'Liberation Serif', serif;font-size:14.3px" fill="#1A1A1A" text-anchor="middle" stroke="#1A1A1A" stroke-width="0.35">–</text>
<text transform="translate(3555.2,725.3) scale(1.03,1)" x="0" y="0" style="font-family:'Liberation Serif', serif;font-size:14.3px" fill="#1A1A1A" text-anchor="middle" stroke="#1A1A1A" stroke-width="0.35">–</text>
<text transform="translate(3600.7,725.3) scale(1.03,1)" x="0" y="0" style="font-family:'Liberation Serif', serif;font-size:14.3px" fill="#1A1A1A" text-anchor="middle" stroke="#1A1A1A" stroke-width="0.35">–</text>
<text transform="translate(3646.5,725.3) scale(1.03,1)" x="0" y="0" style="font-family:'Liberation Serif', serif;font-size:14.3px" fill="#1A1A1A" text-anchor="middle" stroke="#1A1A1A" stroke-width="0.35">–</text>
<text transform="translate(3692,725.3) scale(1.03,1)" x="0" y="0" style="font-family:'Liberation Serif', serif;font-size:14.3px" fill="#1A1A1A" text-anchor="middle" stroke="#1A1A1A" stroke-width="0.35">–</text>
<text transform="translate(2863.5,743.6) scale(1.03,1)" x="0" y="0" style="font-family:'Liberation Serif', serif;font-size:14.3px" fill="#1A1A1A" text-anchor="middle" stroke="#1A1A1A" stroke-width="0.35">SECViT-B</text>
<text transform="translate(2957.4,743.6) scale(1.03,1)" x="0" y="0" style="font-family:'Liberation Serif', serif;font-size:14.3px" fill="#1A1A1A" text-anchor="middle" stroke="#1A1A1A" stroke-width="0.35">76</text>
<text transform="translate(3014.4,743.6) scale(1.03,1)" x="0" y="0" style="font-family:'Liberation Serif', serif;font-size:14.3px" fill="#1A1A1A" text-anchor="middle" stroke="#1A1A1A" stroke-width="0.35">371</text>
<text transform="translate(3064.4,743.6) scale(1.03,1)" x="0" y="0" style="font-family:'Liberation Serif', serif;font-size:14.3px;font-weight:700" fill="#1A1A1A" text-anchor="middle" stroke="#1A1A1A" stroke-width="0.35">51.5</text>
<text transform="translate(3109.5,743.6) scale(1.03,1)" x="0" y="0" style="font-family:'Liberation Serif', serif;font-size:14.3px;font-weight:700" fill="#1A1A1A" text-anchor="middle" stroke="#1A1A1A" stroke-width="0.35">72.9</text>
<text transform="translate(3157.5,743.6) scale(1.03,1)" x="0" y="0" style="font-family:'Liberation Serif', serif;font-size:14.3px;font-weight:700" fill="#1A1A1A" text-anchor="middle" stroke="#1A1A1A" stroke-width="0.35">56.7</text>
<text transform="translate(3204.9,743.6) scale(1.03,1)" x="0" y="0" style="font-family:'Liberation Serif', serif;font-size:14.3px;font-weight:700" fill="#1A1A1A" text-anchor="middle" stroke="#1A1A1A" stroke-width="0.35">45.4</text>
<text transform="translate(3253.3,743.6) scale(1.03,1)" x="0" y="0" style="font-family:'Liberation Serif', serif;font-size:14.3px;font-weight:700" fill="#1A1A1A" text-anchor="middle" stroke="#1A1A1A" stroke-width="0.35">69.9</text>
<text transform="translate(3301.8,743.6) scale(1.03,1)" x="0" y="0" style="font-family:'Liberation Serif', serif;font-size:14.3px;font-weight:700" fill="#1A1A1A" text-anchor="middle" stroke="#1A1A1A" stroke-width="0.35">48.7</text>
<text transform="translate(3355,743.6) scale(1.03,1)" x="0" y="0" style="font-family:'Liberation Serif', serif;font-size:14.3px" fill="#1A1A1A" text-anchor="middle" stroke="#1A1A1A" stroke-width="0.35">63</text>
<text transform="translate(3412.5,743.6) scale(1.03,1)" x="0" y="0" style="font-family:'Liberation Serif', serif;font-size:14.3px" fill="#1A1A1A" text-anchor="middle" stroke="#1A1A1A" stroke-width="0.35">349</text>
<text transform="translate(3462.4,743.6) scale(1.03,1)" x="0" y="0" style="font-family:'Liberation Serif', serif;font-size:14.3px;font-weight:700" fill="#1A1A1A" text-anchor="middle" stroke="#1A1A1A" stroke-width="0.35">49.3</text>
<text transform="translate(3507.5,743.6) scale(1.03,1)" x="0" y="0" style="font-family:'Liberation Serif', serif;font-size:14.3px;font-weight:700" fill="#1A1A1A" text-anchor="middle" stroke="#1A1A1A" stroke-width="0.35">70.3</text>
<text transform="translate(3555.2,743.6) scale(1.03,1)" x="0" y="0" style="font-family:'Liberation Serif', serif;font-size:14.3px;font-weight:700" fill="#1A1A1A" text-anchor="middle" stroke="#1A1A1A" stroke-width="0.35">52.9</text>
<text transform="translate(3600.7,743.6) scale(1.03,1)" x="0" y="0" style="font-family:'Liberation Serif', serif;font-size:14.3px;font-weight:700" fill="#1A1A1A" text-anchor="middle" stroke="#1A1A1A" stroke-width="0.35">32.0</text>
<text transform="translate(3646.5,743.6) scale(1.03,1)" x="0" y="0" style="font-family:'Liberation Serif', serif;font-size:14.3px;font-weight:700" fill="#1A1A1A" text-anchor="middle" stroke="#1A1A1A" stroke-width="0.35">53.8</text>
<text transform="translate(3692,743.6) scale(1.03,1)" x="0" y="0" style="font-family:'Liberation Serif', serif;font-size:14.3px;font-weight:700" fill="#1A1A1A" text-anchor="middle" stroke="#1A1A1A" stroke-width="0.35">64.8</text>
<text transform="translate(2863.5,768.5) scale(1.03,1)" x="0" y="0" style="font-family:'Liberation Serif', serif;font-size:14.3px" fill="#1A1A1A" text-anchor="middle" stroke="#1A1A1A" stroke-width="0.35">Focal-B [<tspan fill="#3B7DC4" stroke="#3B7DC4">55</tspan>]</text>
<text transform="translate(2957.4,768.5) scale(1.03,1)" x="0" y="0" style="font-family:'Liberation Serif', serif;font-size:14.3px" fill="#1A1A1A" text-anchor="middle" stroke="#1A1A1A" stroke-width="0.35">110</text>
<text transform="translate(3014.4,768.5) scale(1.03,1)" x="0" y="0" style="font-family:'Liberation Serif', serif;font-size:14.3px" fill="#1A1A1A" text-anchor="middle" stroke="#1A1A1A" stroke-width="0.35">533</text>
<text transform="translate(3064.4,768.5) scale(1.03,1)" x="0" y="0" style="font-family:'Liberation Serif', serif;font-size:14.3px" fill="#1A1A1A" text-anchor="middle" stroke="#1A1A1A" stroke-width="0.35">47.8</text>
<text transform="translate(3109.5,768.5) scale(1.03,1)" x="0" y="0" style="font-family:'Liberation Serif', serif;font-size:14.3px" fill="#1A1A1A" text-anchor="middle" stroke="#1A1A1A" stroke-width="0.35">70.2</text>
<text transform="translate(3157.5,768.5) scale(1.03,1)" x="0" y="0" style="font-family:'Liberation Serif', serif;font-size:14.3px" fill="#1A1A1A" text-anchor="middle" stroke="#1A1A1A" stroke-width="0.35">52.5</text>
<text transform="translate(3204.9,768.5) scale(1.03,1)" x="0" y="0" style="font-family:'Liberation Serif', serif;font-size:14.3px" fill="#1A1A1A" text-anchor="middle" stroke="#1A1A1A" stroke-width="0.35">43.2</text>
<text transform="translate(3253.3,768.5) scale(1.03,1)" x="0" y="0" style="font-family:'Liberation Serif', serif;font-size:14.3px" fill="#1A1A1A" text-anchor="middle" stroke="#1A1A1A" stroke-width="0.35">67.3</text>
<text transform="translate(3301.8,768.5) scale(1.03,1)" x="0" y="0" style="font-family:'Liberation Serif', serif;font-size:14.3px" fill="#1A1A1A" text-anchor="middle" stroke="#1A1A1A" stroke-width="0.35">46.5</text>
<text transform="translate(3355,768.5) scale(1.03,1)" x="0" y="0" style="font-family:'Liberation Serif', serif;font-size:14.3px" fill="#1A1A1A" text-anchor="middle" stroke="#1A1A1A" stroke-width="0.35">101</text>
<text transform="translate(3412.5,768.5) scale(1.03,1)" x="0" y="0" style="font-family:'Liberation Serif', serif;font-size:14.3px" fill="#1A1A1A" text-anchor="middle" stroke="#1A1A1A" stroke-width="0.35">514</text>
<text transform="translate(3462.4,768.5) scale(1.03,1)" x="0" y="0" style="font-family:'Liberation Serif', serif;font-size:14.3px" fill="#1A1A1A" text-anchor="middle" stroke="#1A1A1A" stroke-width="0.35">46.3</text>
<text transform="translate(3507.5,768.5) scale(1.03,1)" x="0" y="0" style="font-family:'Liberation Serif', serif;font-size:14.3px" fill="#1A1A1A" text-anchor="middle" stroke="#1A1A1A" stroke-width="0.35">68.0</text>
<text transform="translate(3555.2,768.5) scale(1.03,1)" x="0" y="0" style="font-family:'Liberation Serif', serif;font-size:14.3px" fill="#1A1A1A" text-anchor="middle" stroke="#1A1A1A" stroke-width="0.35">49.8</text>
<text transform="translate(3600.7,768.5) scale(1.03,1)" x="0" y="0" style="font-family:'Liberation Serif', serif;font-size:14.3px" fill="#1A1A1A" text-anchor="middle" stroke="#1A1A1A" stroke-width="0.35">31.7</text>
<text transform="translate(3646.5,768.5) scale(1.03,1)" x="0" y="0" style="font-family:'Liberation Serif', serif;font-size:14.3px" fill="#1A1A1A" text-anchor="middle" stroke="#1A1A1A" stroke-width="0.35">50.4</text>
<text transform="translate(3692,768.5) scale(1.03,1)" x="0" y="0" style="font-family:'Liberation Serif', serif;font-size:14.3px" fill="#1A1A1A" text-anchor="middle" stroke="#1A1A1A" stroke-width="0.35">60.8</text>
<text transform="translate(2863.5,785.6) scale(1.03,1)" x="0" y="0" style="font-family:'Liberation Serif', serif;font-size:14.3px" fill="#1A1A1A" text-anchor="middle" stroke="#1A1A1A" stroke-width="0.35">CSwin-B [<tspan fill="#3B7DC4" stroke="#3B7DC4">10</tspan>]</text>
<text transform="translate(2957.4,785.6) scale(1.03,1)" x="0" y="0" style="font-family:'Liberation Serif', serif;font-size:14.3px" fill="#1A1A1A" text-anchor="middle" stroke="#1A1A1A" stroke-width="0.35">97</text>
<text transform="translate(3014.4,785.6) scale(1.03,1)" x="0" y="0" style="font-family:'Liberation Serif', serif;font-size:14.3px" fill="#1A1A1A" text-anchor="middle" stroke="#1A1A1A" stroke-width="0.35">526</text>
<text transform="translate(3064.4,785.6) scale(1.03,1)" x="0" y="0" style="font-family:'Liberation Serif', serif;font-size:14.3px" fill="#1A1A1A" text-anchor="middle" stroke="#1A1A1A" stroke-width="0.35">48.7</text>
<text transform="translate(3109.5,785.6) scale(1.03,1)" x="0" y="0" style="font-family:'Liberation Serif', serif;font-size:14.3px" fill="#1A1A1A" text-anchor="middle" stroke="#1A1A1A" stroke-width="0.35">70.4</text>
<text transform="translate(3157.5,785.6) scale(1.03,1)" x="0" y="0" style="font-family:'Liberation Serif', serif;font-size:14.3px" fill="#1A1A1A" text-anchor="middle" stroke="#1A1A1A" stroke-width="0.35">53.9</text>
<text transform="translate(3204.9,785.6) scale(1.03,1)" x="0" y="0" style="font-family:'Liberation Serif', serif;font-size:14.3px" fill="#1A1A1A" text-anchor="middle" stroke="#1A1A1A" stroke-width="0.35">43.9</text>
<text transform="translate(3253.3,785.6) scale(1.03,1)" x="0" y="0" style="font-family:'Liberation Serif', serif;font-size:14.3px" fill="#1A1A1A" text-anchor="middle" stroke="#1A1A1A" stroke-width="0.35">67.8</text>
<text transform="translate(3301.8,785.6) scale(1.03,1)" x="0" y="0" style="font-family:'Liberation Serif', serif;font-size:14.3px" fill="#1A1A1A" text-anchor="middle" stroke="#1A1A1A" stroke-width="0.35">47.3</text>
<text transform="translate(3355,785.6) scale(1.03,1)" x="0" y="0" style="font-family:'Liberation Serif', serif;font-size:14.3px" fill="#1A1A1A" text-anchor="middle" stroke="#1A1A1A" stroke-width="0.35">–</text>
<text transform="translate(3412.5,785.6) scale(1.03,1)" x="0" y="0" style="font-family:'Liberation Serif', serif;font-size:14.3px" fill="#1A1A1A" text-anchor="middle" stroke="#1A1A1A" stroke-width="0.35">–</text>
<text transform="translate(3462.4,785.6) scale(1.03,1)" x="0" y="0" style="font-family:'Liberation Serif', serif;font-size:14.3px" fill="#1A1A1A" text-anchor="middle" stroke="#1A1A1A" stroke-width="0.35">–</text>
<text transform="translate(3507.5,785.6) scale(1.03,1)" x="0" y="0" style="font-family:'Liberation Serif', serif;font-size:14.3px" fill="#1A1A1A" text-anchor="middle" stroke="#1A1A1A" stroke-width="0.35">–</text>
<text transform="translate(3555.2,785.6) scale(1.03,1)" x="0" y="0" style="font-family:'Liberation Serif', serif;font-size:14.3px" fill="#1A1A1A" text-anchor="middle" stroke="#1A1A1A" stroke-width="0.35">–</text>
<text transform="translate(3600.7,785.6) scale(1.03,1)" x="0" y="0" style="font-family:'Liberation Serif', serif;font-size:14.3px" fill="#1A1A1A" text-anchor="middle" stroke="#1A1A1A" stroke-width="0.35">–</text>
<text transform="translate(3646.5,785.6) scale(1.03,1)" x="0" y="0" style="font-family:'Liberation Serif', serif;font-size:14.3px" fill="#1A1A1A" text-anchor="middle" stroke="#1A1A1A" stroke-width="0.35">–</text>
<text transform="translate(3692,785.6) scale(1.03,1)" x="0" y="0" style="font-family:'Liberation Serif', serif;font-size:14.3px" fill="#1A1A1A" text-anchor="middle" stroke="#1A1A1A" stroke-width="0.35">–</text>
<text transform="translate(2863.5,803.6) scale(1.03,1)" x="0" y="0" style="font-family:'Liberation Serif', serif;font-size:14.3px" fill="#1A1A1A" text-anchor="middle" stroke="#1A1A1A" stroke-width="0.35">InternImage-B [<tspan fill="#3B7DC4" stroke="#3B7DC4">48</tspan>]</text>
<text transform="translate(2957.4,803.6) scale(1.03,1)" x="0" y="0" style="font-family:'Liberation Serif', serif;font-size:14.3px" fill="#1A1A1A" text-anchor="middle" stroke="#1A1A1A" stroke-width="0.35">115</text>
<text transform="translate(3014.4,803.6) scale(1.03,1)" x="0" y="0" style="font-family:'Liberation Serif', serif;font-size:14.3px" fill="#1A1A1A" text-anchor="middle" stroke="#1A1A1A" stroke-width="0.35">501</text>
<text transform="translate(3064.4,803.6) scale(1.03,1)" x="0" y="0" style="font-family:'Liberation Serif', serif;font-size:14.3px" fill="#1A1A1A" text-anchor="middle" stroke="#1A1A1A" stroke-width="0.35">48.8</text>
<text transform="translate(3109.5,803.6) scale(1.03,1)" x="0" y="0" style="font-family:'Liberation Serif', serif;font-size:14.3px" fill="#1A1A1A" text-anchor="middle" stroke="#1A1A1A" stroke-width="0.35">70.9</text>
<text transform="translate(3157.5,803.6) scale(1.03,1)" x="0" y="0" style="font-family:'Liberation Serif', serif;font-size:14.3px" fill="#1A1A1A" text-anchor="middle" stroke="#1A1A1A" stroke-width="0.35">54.0</text>
<text transform="translate(3204.9,803.6) scale(1.03,1)" x="0" y="0" style="font-family:'Liberation Serif', serif;font-size:14.3px" fill="#1A1A1A" text-anchor="middle" stroke="#1A1A1A" stroke-width="0.35">44.0</text>
<text transform="translate(3253.3,803.6) scale(1.03,1)" x="0" y="0" style="font-family:'Liberation Serif', serif;font-size:14.3px" fill="#1A1A1A" text-anchor="middle" stroke="#1A1A1A" stroke-width="0.35">67.8</text>
<text transform="translate(3301.8,803.6) scale(1.03,1)" x="0" y="0" style="font-family:'Liberation Serif', serif;font-size:14.3px" fill="#1A1A1A" text-anchor="middle" stroke="#1A1A1A" stroke-width="0.35">47.4</text>
<text transform="translate(3355,803.6) scale(1.03,1)" x="0" y="0" style="font-family:'Liberation Serif', serif;font-size:14.3px" fill="#1A1A1A" text-anchor="middle" stroke="#1A1A1A" stroke-width="0.35">–</text>
<text transform="translate(3412.5,803.6) scale(1.03,1)" x="0" y="0" style="font-family:'Liberation Serif', serif;font-size:14.3px" fill="#1A1A1A" text-anchor="middle" stroke="#1A1A1A" stroke-width="0.35">–</text>
<text transform="translate(3462.4,803.6) scale(1.03,1)" x="0" y="0" style="font-family:'Liberation Serif', serif;font-size:14.3px" fill="#1A1A1A" text-anchor="middle" stroke="#1A1A1A" stroke-width="0.35">–</text>
<text transform="translate(3507.5,803.6) scale(1.03,1)" x="0" y="0" style="font-family:'Liberation Serif', serif;font-size:14.3px" fill="#1A1A1A" text-anchor="middle" stroke="#1A1A1A" stroke-width="0.35">–</text>
<text transform="translate(3555.2,803.6) scale(1.03,1)" x="0" y="0" style="font-family:'Liberation Serif', serif;font-size:14.3px" fill="#1A1A1A" text-anchor="middle" stroke="#1A1A1A" stroke-width="0.35">–</text>
<text transform="translate(3600.7,803.6) scale(1.03,1)" x="0" y="0" style="font-family:'Liberation Serif', serif;font-size:14.3px" fill="#1A1A1A" text-anchor="middle" stroke="#1A1A1A" stroke-width="0.35">–</text>
<text transform="translate(3646.5,803.6) scale(1.03,1)" x="0" y="0" style="font-family:'Liberation Serif', serif;font-size:14.3px" fill="#1A1A1A" text-anchor="middle" stroke="#1A1A1A" stroke-width="0.35">–</text>
<text transform="translate(3692,803.6) scale(1.03,1)" x="0" y="0" style="font-family:'Liberation Serif', serif;font-size:14.3px" fill="#1A1A1A" text-anchor="middle" stroke="#1A1A1A" stroke-width="0.35">–</text>
<text transform="translate(2863.5,821.1) scale(1.03,1)" x="0" y="0" style="font-family:'Liberation Serif', serif;font-size:14.3px" fill="#1A1A1A" text-anchor="middle" stroke="#1A1A1A" stroke-width="0.35">MLLA-B [<tspan fill="#3B7DC4" stroke="#3B7DC4">18</tspan>]</text>
<text transform="translate(2957.4,821.1) scale(1.03,1)" x="0" y="0" style="font-family:'Liberation Serif', serif;font-size:14.3px" fill="#1A1A1A" text-anchor="middle" stroke="#1A1A1A" stroke-width="0.35">115</text>
<text transform="translate(3014.4,821.1) scale(1.03,1)" x="0" y="0" style="font-family:'Liberation Serif', serif;font-size:14.3px" fill="#1A1A1A" text-anchor="middle" stroke="#1A1A1A" stroke-width="0.35">502</text>
<text transform="translate(3064.4,821.1) scale(1.03,1)" x="0" y="0" style="font-family:'Liberation Serif', serif;font-size:14.3px" fill="#1A1A1A" text-anchor="middle" stroke="#1A1A1A" stroke-width="0.35">50.5</text>
<text transform="translate(3109.5,821.1) scale(1.03,1)" x="0" y="0" style="font-family:'Liberation Serif', serif;font-size:14.3px" fill="#1A1A1A" text-anchor="middle" stroke="#1A1A1A" stroke-width="0.35">72.0</text>
<text transform="translate(3157.5,821.1) scale(1.03,1)" x="0" y="0" style="font-family:'Liberation Serif', serif;font-size:14.3px" fill="#1A1A1A" text-anchor="middle" stroke="#1A1A1A" stroke-width="0.35">55.4</text>
<text transform="translate(3204.9,821.1) scale(1.03,1)" x="0" y="0" style="font-family:'Liberation Serif', serif;font-size:14.3px" fill="#1A1A1A" text-anchor="middle" stroke="#1A1A1A" stroke-width="0.35">45.0</text>
<text transform="translate(3253.3,821.1) scale(1.03,1)" x="0" y="0" style="font-family:'Liberation Serif', serif;font-size:14.3px" fill="#1A1A1A" text-anchor="middle" stroke="#1A1A1A" stroke-width="0.35">69.3</text>
<text transform="translate(3301.8,821.1) scale(1.03,1)" x="0" y="0" style="font-family:'Liberation Serif', serif;font-size:14.3px" fill="#1A1A1A" text-anchor="middle" stroke="#1A1A1A" stroke-width="0.35">48.6</text>
<text transform="translate(3355,821.1) scale(1.03,1)" x="0" y="0" style="font-family:'Liberation Serif', serif;font-size:14.3px" fill="#1A1A1A" text-anchor="middle" stroke="#1A1A1A" stroke-width="0.35">–</text>
<text transform="translate(3412.5,821.1) scale(1.03,1)" x="0" y="0" style="font-family:'Liberation Serif', serif;font-size:14.3px" fill="#1A1A1A" text-anchor="middle" stroke="#1A1A1A" stroke-width="0.35">–</text>
<text transform="translate(3462.4,821.1) scale(1.03,1)" x="0" y="0" style="font-family:'Liberation Serif', serif;font-size:14.3px" fill="#1A1A1A" text-anchor="middle" stroke="#1A1A1A" stroke-width="0.35">–</text>
<text transform="translate(3507.5,821.1) scale(1.03,1)" x="0" y="0" style="font-family:'Liberation Serif', serif;font-size:14.3px" fill="#1A1A1A" text-anchor="middle" stroke="#1A1A1A" stroke-width="0.35">–</text>
<text transform="translate(3555.2,821.1) scale(1.03,1)" x="0" y="0" style="font-family:'Liberation Serif', serif;font-size:14.3px" fill="#1A1A1A" text-anchor="middle" stroke="#1A1A1A" stroke-width="0.35">–</text>
<text transform="translate(3600.7,821.1) scale(1.03,1)" x="0" y="0" style="font-family:'Liberation Serif', serif;font-size:14.3px" fill="#1A1A1A" text-anchor="middle" stroke="#1A1A1A" stroke-width="0.35">–</text>
<text transform="translate(3646.5,821.1) scale(1.03,1)" x="0" y="0" style="font-family:'Liberation Serif', serif;font-size:14.3px" fill="#1A1A1A" text-anchor="middle" stroke="#1A1A1A" stroke-width="0.35">–</text>
<text transform="translate(3692,821.1) scale(1.03,1)" x="0" y="0" style="font-family:'Liberation Serif', serif;font-size:14.3px" fill="#1A1A1A" text-anchor="middle" stroke="#1A1A1A" stroke-width="0.35">–</text>
<text transform="translate(2863.5,839) scale(1.03,1)" x="0" y="0" style="font-family:'Liberation Serif', serif;font-size:14.3px" fill="#1A1A1A" text-anchor="middle" stroke="#1A1A1A" stroke-width="0.35">SECViT-L</text>
<text transform="translate(2957.4,839) scale(1.03,1)" x="0" y="0" style="font-family:'Liberation Serif', serif;font-size:14.3px" fill="#1A1A1A" text-anchor="middle" stroke="#1A1A1A" stroke-width="0.35">119</text>
<text transform="translate(3014.4,839) scale(1.03,1)" x="0" y="0" style="font-family:'Liberation Serif', serif;font-size:14.3px" fill="#1A1A1A" text-anchor="middle" stroke="#1A1A1A" stroke-width="0.35">550</text>
<text transform="translate(3064.4,839) scale(1.03,1)" x="0" y="0" style="font-family:'Liberation Serif', serif;font-size:14.3px;font-weight:700" fill="#1A1A1A" text-anchor="middle" stroke="#1A1A1A" stroke-width="0.35">52.0</text>
<text transform="translate(3109.5,839) scale(1.03,1)" x="0" y="0" style="font-family:'Liberation Serif', serif;font-size:14.3px;font-weight:700" fill="#1A1A1A" text-anchor="middle" stroke="#1A1A1A" stroke-width="0.35">73.5</text>
<text transform="translate(3157.5,839) scale(1.03,1)" x="0" y="0" style="font-family:'Liberation Serif', serif;font-size:14.3px;font-weight:700" fill="#1A1A1A" text-anchor="middle" stroke="#1A1A1A" stroke-width="0.35">57.3</text>
<text transform="translate(3204.9,839) scale(1.03,1)" x="0" y="0" style="font-family:'Liberation Serif', serif;font-size:14.3px;font-weight:700" fill="#1A1A1A" text-anchor="middle" stroke="#1A1A1A" stroke-width="0.35">46.3</text>
<text transform="translate(3253.3,839) scale(1.03,1)" x="0" y="0" style="font-family:'Liberation Serif', serif;font-size:14.3px;font-weight:700" fill="#1A1A1A" text-anchor="middle" stroke="#1A1A1A" stroke-width="0.35">70.6</text>
<text transform="translate(3301.8,839) scale(1.03,1)" x="0" y="0" style="font-family:'Liberation Serif', serif;font-size:14.3px;font-weight:700" fill="#1A1A1A" text-anchor="middle" stroke="#1A1A1A" stroke-width="0.35">49.8</text>
<text transform="translate(3355,839) scale(1.03,1)" x="0" y="0" style="font-family:'Liberation Serif', serif;font-size:14.3px" fill="#1A1A1A" text-anchor="middle" stroke="#1A1A1A" stroke-width="0.35">105</text>
<text transform="translate(3412.5,839) scale(1.03,1)" x="0" y="0" style="font-family:'Liberation Serif', serif;font-size:14.3px" fill="#1A1A1A" text-anchor="middle" stroke="#1A1A1A" stroke-width="0.35">527</text>
<text transform="translate(3462.4,839) scale(1.03,1)" x="0" y="0" style="font-family:'Liberation Serif', serif;font-size:14.3px;font-weight:700" fill="#1A1A1A" text-anchor="middle" stroke="#1A1A1A" stroke-width="0.35">50.2</text>
<text transform="translate(3507.5,839) scale(1.03,1)" x="0" y="0" style="font-family:'Liberation Serif', serif;font-size:14.3px;font-weight:700" fill="#1A1A1A" text-anchor="middle" stroke="#1A1A1A" stroke-width="0.35">71.4</text>
<text transform="translate(3555.2,839) scale(1.03,1)" x="0" y="0" style="font-family:'Liberation Serif', serif;font-size:14.3px;font-weight:700" fill="#1A1A1A" text-anchor="middle" stroke="#1A1A1A" stroke-width="0.35">53.9</text>
<text transform="translate(3600.7,839) scale(1.03,1)" x="0" y="0" style="font-family:'Liberation Serif', serif;font-size:14.3px;font-weight:700" fill="#1A1A1A" text-anchor="middle" stroke="#1A1A1A" stroke-width="0.35">33.2</text>
<text transform="translate(3646.5,839) scale(1.03,1)" x="0" y="0" style="font-family:'Liberation Serif', serif;font-size:14.3px;font-weight:700" fill="#1A1A1A" text-anchor="middle" stroke="#1A1A1A" stroke-width="0.35">54.5</text>
<text transform="translate(3692,839) scale(1.03,1)" x="0" y="0" style="font-family:'Liberation Serif', serif;font-size:14.3px;font-weight:700" fill="#1A1A1A" text-anchor="middle" stroke="#1A1A1A" stroke-width="0.35">66.3</text>
<text x="2986.8" y="867.9" style="font-family:'Liberation Serif', serif;font-size:19px" fill="#1A1A1A" textLength="540.4" lengthAdjust="spacingAndGlyphs">Table 4. Comparison to other backbones using ”1×“ schedule on COCO.</text>
<rect x="2775" y="927.3" width="935" height="300" fill="#fff"/>
<rect x="2780.7" y="1013.2" width="921.9" height="14.6" fill="#D9D9D9"/>
<rect x="2780.7" y="1081.5" width="921.9" height="14.6" fill="#D9D9D9"/>
<rect x="2780.7" y="1134.4" width="921.9" height="14.6" fill="#D9D9D9"/>
<rect x="2780.7" y="1202.7" width="921.9" height="14.6" fill="#D9D9D9"/>
<line x1="2780.7" y1="934.5" x2="3702.6" y2="934.5" stroke="#222" stroke-width="1.3" />
<line x1="2780.7" y1="956.3" x2="3702.6" y2="956.3" stroke="#444" stroke-width="1" />
<line x1="2780.7" y1="978.8" x2="3702.6" y2="978.8" stroke="#444" stroke-width="1" />
<line x1="2780.7" y1="1029.6" x2="3702.6" y2="1029.6" stroke="#666" stroke-width="1.8" />
<line x1="2780.7" y1="1099" x2="3702.6" y2="1099" stroke="#666" stroke-width="1.8" />
<line x1="2780.7" y1="1152" x2="3702.6" y2="1152" stroke="#666" stroke-width="1.8" />
<line x1="2780.7" y1="1221" x2="3702.6" y2="1221" stroke="#222" stroke-width="2" />
<text transform="translate(2868.7,949.8) scale(1.13,1)" x="0" y="0" style="font-family:'Liberation Serif', serif;font-size:13px" fill="#1A1A1A" text-anchor="middle" stroke="#1A1A1A" stroke-width="0.35">Model</text>
<text transform="translate(3011.3,949.8) scale(1.13,1)" x="0" y="0" style="font-family:'Liberation Serif', serif;font-size:13px" fill="#1A1A1A" text-anchor="middle" stroke="#1A1A1A" stroke-width="0.35">Connector</text>
<text transform="translate(3112,949.8) scale(1.13,1)" x="0" y="0" style="font-family:'Liberation Serif', serif;font-size:13px" fill="#1A1A1A" text-anchor="middle" stroke="#1A1A1A" stroke-width="0.35">V-T Num</text>
<text transform="translate(3193.6,949.8) scale(1.13,1)" x="0" y="0" style="font-family:'Liberation Serif', serif;font-size:13px" fill="#1A1A1A" text-anchor="middle" stroke="#1A1A1A" stroke-width="0.35">Time</text>
<text transform="translate(3263.6,949.8) scale(1.13,1)" x="0" y="0" style="font-family:'Liberation Serif', serif;font-size:13px" fill="#1A1A1A" text-anchor="middle" stroke="#1A1A1A" stroke-width="0.35">Speed</text>
<text transform="translate(3349,949.8) scale(1.13,1)" x="0" y="0" style="font-family:'Liberation Serif', serif;font-size:13px" fill="#1A1A1A" text-anchor="middle" stroke="#1A1A1A" stroke-width="0.35">TextVQA</text>
<text transform="translate(3431.9,949.8) scale(1.13,1)" x="0" y="0" style="font-family:'Liberation Serif', serif;font-size:13px" fill="#1A1A1A" text-anchor="middle" stroke="#1A1A1A" stroke-width="0.35">GQA</text>
<text transform="translate(3508.3,949.8) scale(1.13,1)" x="0" y="0" style="font-family:'Liberation Serif', serif;font-size:13px" fill="#1A1A1A" text-anchor="middle" stroke="#1A1A1A" stroke-width="0.35">VQAv2</text>
<text transform="translate(3586.9,949.8) scale(1.13,1)" x="0" y="0" style="font-family:'Liberation Serif', serif;font-size:13px" fill="#1A1A1A" text-anchor="middle" stroke="#1A1A1A" stroke-width="0.35">POPE</text>
<text transform="translate(3663.8,949.8) scale(1.13,1)" x="0" y="0" style="font-family:'Liberation Serif', serif;font-size:13px" fill="#1A1A1A" text-anchor="middle" stroke="#1A1A1A" stroke-width="0.35">MME</text>
<text transform="translate(2868.7,971.8) scale(1.13,1)" x="0" y="0" style="font-family:'Liberation Serif', serif;font-size:13px" fill="#1A1A1A" text-anchor="middle" stroke="#1A1A1A" stroke-width="0.35">LLaVA-1.5</text>
<text transform="translate(3011.3,971.8) scale(1.13,1)" x="0" y="0" style="font-family:'Liberation Serif', serif;font-size:13px" fill="#1A1A1A" text-anchor="middle" stroke="#1A1A1A" stroke-width="0.35">MLP</text>
<text transform="translate(3112,971.8) scale(1.13,1)" x="0" y="0" style="font-family:'Liberation Serif', serif;font-size:13px" fill="#1A1A1A" text-anchor="middle" stroke="#1A1A1A" stroke-width="0.35">576+1</text>
<text transform="translate(3193.6,971.8) scale(1.13,1)" x="0" y="0" style="font-family:'Liberation Serif', serif;font-size:13px" fill="#1A1A1A" text-anchor="middle" stroke="#1A1A1A" stroke-width="0.35">194s</text>
<text transform="translate(3263.6,971.8) scale(1.13,1)" x="0" y="0" style="font-family:'Liberation Serif', serif;font-size:13px" fill="#1A1A1A" text-anchor="middle" stroke="#1A1A1A" stroke-width="0.35">1.0×</text>
<text transform="translate(3349,971.8) scale(1.13,1)" x="0" y="0" style="font-family:'Liberation Serif', serif;font-size:13px" fill="#1A1A1A" text-anchor="middle" stroke="#1A1A1A" stroke-width="0.35">58.2</text>
<text transform="translate(3431.9,971.8) scale(1.13,1)" x="0" y="0" style="font-family:'Liberation Serif', serif;font-size:13px" fill="#1A1A1A" text-anchor="middle" stroke="#1A1A1A" stroke-width="0.35">62.0</text>
<text transform="translate(3508.3,971.8) scale(1.13,1)" x="0" y="0" style="font-family:'Liberation Serif', serif;font-size:13px" fill="#1A1A1A" text-anchor="middle" stroke="#1A1A1A" stroke-width="0.35">78.5</text>
<text transform="translate(3586.9,971.8) scale(1.13,1)" x="0" y="0" style="font-family:'Liberation Serif', serif;font-size:13px" fill="#1A1A1A" text-anchor="middle" stroke="#1A1A1A" stroke-width="0.35">86.1</text>
<text transform="translate(3663.8,971.8) scale(1.13,1)" x="0" y="0" style="font-family:'Liberation Serif', serif;font-size:13px" fill="#1A1A1A" text-anchor="middle" stroke="#1A1A1A" stroke-width="0.35">1510.7</text>
<text transform="translate(2868.7,993.7) scale(1.13,1)" x="0" y="0" style="font-family:'Liberation Serif', serif;font-size:13px" fill="#1A1A1A" text-anchor="middle" stroke="#1A1A1A" stroke-width="0.35">LLaVA-1.5+Resampler</text>
<text transform="translate(3011.3,993.7) scale(1.13,1)" x="0" y="0" style="font-family:'Liberation Serif', serif;font-size:13px" fill="#1A1A1A" text-anchor="middle" stroke="#1A1A1A" stroke-width="0.35">Resampler</text>
<text transform="translate(3112,993.7) scale(1.13,1)" x="0" y="0" style="font-family:'Liberation Serif', serif;font-size:13px" fill="#1A1A1A" text-anchor="middle" stroke="#1A1A1A" stroke-width="0.35">288+1</text>
<text transform="translate(3193.6,993.7) scale(1.13,1)" x="0" y="0" style="font-family:'Liberation Serif', serif;font-size:13px" fill="#1A1A1A" text-anchor="middle" stroke="#1A1A1A" stroke-width="0.35">126s</text>
<text transform="translate(3263.6,993.7) scale(1.13,1)" x="0" y="0" style="font-family:'Liberation Serif', serif;font-size:13px" fill="#1A1A1A" text-anchor="middle" stroke="#1A1A1A" stroke-width="0.35">1.5×</text>
<text transform="translate(3349,993.7) scale(1.13,1)" x="0" y="0" style="font-family:'Liberation Serif', serif;font-size:13px" fill="#1A1A1A" text-anchor="middle" stroke="#1A1A1A" stroke-width="0.35">52.1</text>
<text transform="translate(3431.9,993.7) scale(1.13,1)" x="0" y="0" style="font-family:'Liberation Serif', serif;font-size:13px" fill="#1A1A1A" text-anchor="middle" stroke="#1A1A1A" stroke-width="0.35">56.8</text>
<text transform="translate(3508.3,993.7) scale(1.13,1)" x="0" y="0" style="font-family:'Liberation Serif', serif;font-size:13px" fill="#1A1A1A" text-anchor="middle" stroke="#1A1A1A" stroke-width="0.35">76.0</text>
<text transform="translate(3586.9,993.7) scale(1.13,1)" x="0" y="0" style="font-family:'Liberation Serif', serif;font-size:13px" fill="#1A1A1A" text-anchor="middle" stroke="#1A1A1A" stroke-width="0.35">83.1</text>
<text transform="translate(3663.8,993.7) scale(1.13,1)" x="0" y="0" style="font-family:'Liberation Serif', serif;font-size:13px" fill="#1A1A1A" text-anchor="middle" stroke="#1A1A1A" stroke-width="0.35">1393.2</text>
<text transform="translate(2868.7,1009.1) scale(1.13,1)" x="0" y="0" style="font-family:'Liberation Serif', serif;font-size:13px" fill="#1A1A1A" text-anchor="middle" stroke="#1A1A1A" stroke-width="0.35">LLaVA-1.5+EViT</text>
<text transform="translate(3011.3,1009.1) scale(1.13,1)" x="0" y="0" style="font-family:'Liberation Serif', serif;font-size:13px" fill="#1A1A1A" text-anchor="middle" stroke="#1A1A1A" stroke-width="0.35">MLP+EViT</text>
<text transform="translate(3112,1009.1) scale(1.13,1)" x="0" y="0" style="font-family:'Liberation Serif', serif;font-size:13px" fill="#1A1A1A" text-anchor="middle" stroke="#1A1A1A" stroke-width="0.35">288+1</text>
<text transform="translate(3193.6,1009.1) scale(1.13,1)" x="0" y="0" style="font-family:'Liberation Serif', serif;font-size:13px" fill="#1A1A1A" text-anchor="middle" stroke="#1A1A1A" stroke-width="0.35">126s</text>
<text transform="translate(3263.6,1009.1) scale(1.13,1)" x="0" y="0" style="font-family:'Liberation Serif', serif;font-size:13px" fill="#1A1A1A" text-anchor="middle" stroke="#1A1A1A" stroke-width="0.35">1.5×</text>
<text transform="translate(3349,1009.1) scale(1.13,1)" x="0" y="0" style="font-family:'Liberation Serif', serif;font-size:13px" fill="#1A1A1A" text-anchor="middle" stroke="#1A1A1A" stroke-width="0.35">54.6</text>
<text transform="translate(3431.9,1009.1) scale(1.13,1)" x="0" y="0" style="font-family:'Liberation Serif', serif;font-size:13px" fill="#1A1A1A" text-anchor="middle" stroke="#1A1A1A" stroke-width="0.35">60.0</text>
<text transform="translate(3508.3,1009.1) scale(1.13,1)" x="0" y="0" style="font-family:'Liberation Serif', serif;font-size:13px" fill="#1A1A1A" text-anchor="middle" stroke="#1A1A1A" stroke-width="0.35">77.9</text>
<text transform="translate(3586.9,1009.1) scale(1.13,1)" x="0" y="0" style="font-family:'Liberation Serif', serif;font-size:13px" fill="#1A1A1A" text-anchor="middle" stroke="#1A1A1A" stroke-width="0.35">84.3</text>
<text transform="translate(3663.8,1009.1) scale(1.13,1)" x="0" y="0" style="font-family:'Liberation Serif', serif;font-size:13px" fill="#1A1A1A" text-anchor="middle" stroke="#1A1A1A" stroke-width="0.35">1483.2</text>
<text transform="translate(2868.7,1024) scale(1.13,1)" x="0" y="0" style="font-family:'Liberation Serif', serif;font-size:13px" fill="#1A1A1A" text-anchor="middle" stroke="#1A1A1A" stroke-width="0.35">LLaVA-1.5+SEC</text>
<text transform="translate(3011.3,1024) scale(1.13,1)" x="0" y="0" style="font-family:'Liberation Serif', serif;font-size:13px" fill="#1A1A1A" text-anchor="middle" stroke="#1A1A1A" stroke-width="0.35">MLP+SEC</text>
<text transform="translate(3112,1024) scale(1.13,1)" x="0" y="0" style="font-family:'Liberation Serif', serif;font-size:13px" fill="#1A1A1A" text-anchor="middle" stroke="#1A1A1A" stroke-width="0.35">288+1</text>
<text transform="translate(3193.6,1024) scale(1.13,1)" x="0" y="0" style="font-family:'Liberation Serif', serif;font-size:13px" fill="#1A1A1A" text-anchor="middle" stroke="#1A1A1A" stroke-width="0.35">126s</text>
<text transform="translate(3263.6,1024) scale(1.13,1)" x="0" y="0" style="font-family:'Liberation Serif', serif;font-size:13px" fill="#1A1A1A" text-anchor="middle" stroke="#1A1A1A" stroke-width="0.35">1.5×</text>
<text transform="translate(3349,1024) scale(1.13,1)" x="0" y="0" style="font-family:'Liberation Serif', serif;font-size:13px;font-weight:700" fill="#1A1A1A" text-anchor="middle" stroke="#1A1A1A" stroke-width="0.35">60.1</text>
<text transform="translate(3431.9,1024) scale(1.13,1)" x="0" y="0" style="font-family:'Liberation Serif', serif;font-size:13px;font-weight:700" fill="#1A1A1A" text-anchor="middle" stroke="#1A1A1A" stroke-width="0.35">63.5</text>
<text transform="translate(3508.3,1024) scale(1.13,1)" x="0" y="0" style="font-family:'Liberation Serif', serif;font-size:13px;font-weight:700" fill="#1A1A1A" text-anchor="middle" stroke="#1A1A1A" stroke-width="0.35">78.9</text>
<text transform="translate(3586.9,1024) scale(1.13,1)" x="0" y="0" style="font-family:'Liberation Serif', serif;font-size:13px;font-weight:700" fill="#1A1A1A" text-anchor="middle" stroke="#1A1A1A" stroke-width="0.35">87.7</text>
<text transform="translate(3663.8,1024) scale(1.13,1)" x="0" y="0" style="font-family:'Liberation Serif', serif;font-size:13px;font-weight:700" fill="#1A1A1A" text-anchor="middle" stroke="#1A1A1A" stroke-width="0.35">1510.7</text>
<text transform="translate(2868.7,1045.7) scale(1.13,1)" x="0" y="0" style="font-family:'Liberation Serif', serif;font-size:13px" fill="#1A1A1A" text-anchor="middle" stroke="#1A1A1A" stroke-width="0.35">LLaVA-1.5+Resampler</text>
<text transform="translate(3011.3,1045.7) scale(1.13,1)" x="0" y="0" style="font-family:'Liberation Serif', serif;font-size:13px" fill="#1A1A1A" text-anchor="middle" stroke="#1A1A1A" stroke-width="0.35">Resampler</text>
<text transform="translate(3112,1045.7) scale(1.13,1)" x="0" y="0" style="font-family:'Liberation Serif', serif;font-size:13px" fill="#1A1A1A" text-anchor="middle" stroke="#1A1A1A" stroke-width="0.35">256+1</text>
<text transform="translate(3193.6,1045.7) scale(1.13,1)" x="0" y="0" style="font-family:'Liberation Serif', serif;font-size:13px" fill="#1A1A1A" text-anchor="middle" stroke="#1A1A1A" stroke-width="0.35">116s</text>
<text transform="translate(3263.6,1045.7) scale(1.13,1)" x="0" y="0" style="font-family:'Liberation Serif', serif;font-size:13px" fill="#1A1A1A" text-anchor="middle" stroke="#1A1A1A" stroke-width="0.35">1.7×</text>
<text transform="translate(3349,1045.7) scale(1.13,1)" x="0" y="0" style="font-family:'Liberation Serif', serif;font-size:13px" fill="#1A1A1A" text-anchor="middle" stroke="#1A1A1A" stroke-width="0.35">51.6</text>
<text transform="translate(3431.9,1045.7) scale(1.13,1)" x="0" y="0" style="font-family:'Liberation Serif', serif;font-size:13px" fill="#1A1A1A" text-anchor="middle" stroke="#1A1A1A" stroke-width="0.35">56.0</text>
<text transform="translate(3508.3,1045.7) scale(1.13,1)" x="0" y="0" style="font-family:'Liberation Serif', serif;font-size:13px" fill="#1A1A1A" text-anchor="middle" stroke="#1A1A1A" stroke-width="0.35">75.2</text>
<text transform="translate(3586.9,1045.7) scale(1.13,1)" x="0" y="0" style="font-family:'Liberation Serif', serif;font-size:13px" fill="#1A1A1A" text-anchor="middle" stroke="#1A1A1A" stroke-width="0.35">82.7</text>
<text transform="translate(3663.8,1045.7) scale(1.13,1)" x="0" y="0" style="font-family:'Liberation Serif', serif;font-size:13px" fill="#1A1A1A" text-anchor="middle" stroke="#1A1A1A" stroke-width="0.35">1387.2</text>
<text transform="translate(2868.7,1061.1) scale(1.13,1)" x="0" y="0" style="font-family:'Liberation Serif', serif;font-size:13px" fill="#1A1A1A" text-anchor="middle" stroke="#1A1A1A" stroke-width="0.35">LLaVA-1.5+Pool</text>
<text transform="translate(3011.3,1061.1) scale(1.13,1)" x="0" y="0" style="font-family:'Liberation Serif', serif;font-size:13px" fill="#1A1A1A" text-anchor="middle" stroke="#1A1A1A" stroke-width="0.35">MLP+Pool</text>
<text transform="translate(3112,1061.1) scale(1.13,1)" x="0" y="0" style="font-family:'Liberation Serif', serif;font-size:13px" fill="#1A1A1A" text-anchor="middle" stroke="#1A1A1A" stroke-width="0.35">256+1</text>
<text transform="translate(3193.6,1061.1) scale(1.13,1)" x="0" y="0" style="font-family:'Liberation Serif', serif;font-size:13px" fill="#1A1A1A" text-anchor="middle" stroke="#1A1A1A" stroke-width="0.35">116s</text>
<text transform="translate(3263.6,1061.1) scale(1.13,1)" x="0" y="0" style="font-family:'Liberation Serif', serif;font-size:13px" fill="#1A1A1A" text-anchor="middle" stroke="#1A1A1A" stroke-width="0.35">1.7×</text>
<text transform="translate(3349,1061.1) scale(1.13,1)" x="0" y="0" style="font-family:'Liberation Serif', serif;font-size:13px" fill="#1A1A1A" text-anchor="middle" stroke="#1A1A1A" stroke-width="0.35">52.4</text>
<text transform="translate(3431.9,1061.1) scale(1.13,1)" x="0" y="0" style="font-family:'Liberation Serif', serif;font-size:13px" fill="#1A1A1A" text-anchor="middle" stroke="#1A1A1A" stroke-width="0.35">57.6</text>
<text transform="translate(3508.3,1061.1) scale(1.13,1)" x="0" y="0" style="font-family:'Liberation Serif', serif;font-size:13px" fill="#1A1A1A" text-anchor="middle" stroke="#1A1A1A" stroke-width="0.35">76.4</text>
<text transform="translate(3586.9,1061.1) scale(1.13,1)" x="0" y="0" style="font-family:'Liberation Serif', serif;font-size:13px" fill="#1A1A1A" text-anchor="middle" stroke="#1A1A1A" stroke-width="0.35">83.3</text>
<text transform="translate(3663.8,1061.1) scale(1.13,1)" x="0" y="0" style="font-family:'Liberation Serif', serif;font-size:13px" fill="#1A1A1A" text-anchor="middle" stroke="#1A1A1A" stroke-width="0.35">1415.5</text>
<text transform="translate(2868.7,1076.5) scale(1.13,1)" x="0" y="0" style="font-family:'Liberation Serif', serif;font-size:13px" fill="#1A1A1A" text-anchor="middle" stroke="#1A1A1A" stroke-width="0.35">LLaVA-1.5+EViT</text>
<text transform="translate(3011.3,1076.5) scale(1.13,1)" x="0" y="0" style="font-family:'Liberation Serif', serif;font-size:13px" fill="#1A1A1A" text-anchor="middle" stroke="#1A1A1A" stroke-width="0.35">MLP+EViT</text>
<text transform="translate(3112,1076.5) scale(1.13,1)" x="0" y="0" style="font-family:'Liberation Serif', serif;font-size:13px" fill="#1A1A1A" text-anchor="middle" stroke="#1A1A1A" stroke-width="0.35">256+1</text>
<text transform="translate(3193.6,1076.5) scale(1.13,1)" x="0" y="0" style="font-family:'Liberation Serif', serif;font-size:13px" fill="#1A1A1A" text-anchor="middle" stroke="#1A1A1A" stroke-width="0.35">116s</text>
<text transform="translate(3263.6,1076.5) scale(1.13,1)" x="0" y="0" style="font-family:'Liberation Serif', serif;font-size:13px" fill="#1A1A1A" text-anchor="middle" stroke="#1A1A1A" stroke-width="0.35">1.7×</text>
<text transform="translate(3349,1076.5) scale(1.13,1)" x="0" y="0" style="font-family:'Liberation Serif', serif;font-size:13px" fill="#1A1A1A" text-anchor="middle" stroke="#1A1A1A" stroke-width="0.35">52.8</text>
<text transform="translate(3431.9,1076.5) scale(1.13,1)" x="0" y="0" style="font-family:'Liberation Serif', serif;font-size:13px" fill="#1A1A1A" text-anchor="middle" stroke="#1A1A1A" stroke-width="0.35">59.6</text>
<text transform="translate(3508.3,1076.5) scale(1.13,1)" x="0" y="0" style="font-family:'Liberation Serif', serif;font-size:13px" fill="#1A1A1A" text-anchor="middle" stroke="#1A1A1A" stroke-width="0.35">77.1</text>
<text transform="translate(3586.9,1076.5) scale(1.13,1)" x="0" y="0" style="font-family:'Liberation Serif', serif;font-size:13px" fill="#1A1A1A" text-anchor="middle" stroke="#1A1A1A" stroke-width="0.35">83.7</text>
<text transform="translate(3663.8,1076.5) scale(1.13,1)" x="0" y="0" style="font-family:'Liberation Serif', serif;font-size:13px" fill="#1A1A1A" text-anchor="middle" stroke="#1A1A1A" stroke-width="0.35">1443.7</text>
<text transform="translate(2868.7,1092.3) scale(1.13,1)" x="0" y="0" style="font-family:'Liberation Serif', serif;font-size:13px" fill="#1A1A1A" text-anchor="middle" stroke="#1A1A1A" stroke-width="0.35">LLaVA-1.5+SEC</text>
<text transform="translate(3011.3,1092.3) scale(1.13,1)" x="0" y="0" style="font-family:'Liberation Serif', serif;font-size:13px" fill="#1A1A1A" text-anchor="middle" stroke="#1A1A1A" stroke-width="0.35">MLP+SEC</text>
<text transform="translate(3112,1092.3) scale(1.13,1)" x="0" y="0" style="font-family:'Liberation Serif', serif;font-size:13px" fill="#1A1A1A" text-anchor="middle" stroke="#1A1A1A" stroke-width="0.35">256+1</text>
<text transform="translate(3193.6,1092.3) scale(1.13,1)" x="0" y="0" style="font-family:'Liberation Serif', serif;font-size:13px" fill="#1A1A1A" text-anchor="middle" stroke="#1A1A1A" stroke-width="0.35">116s</text>
<text transform="translate(3263.6,1092.3) scale(1.13,1)" x="0" y="0" style="font-family:'Liberation Serif', serif;font-size:13px" fill="#1A1A1A" text-anchor="middle" stroke="#1A1A1A" stroke-width="0.35">1.7×</text>
<text transform="translate(3349,1092.3) scale(1.13,1)" x="0" y="0" style="font-family:'Liberation Serif', serif;font-size:13px;font-weight:700" fill="#1A1A1A" text-anchor="middle" stroke="#1A1A1A" stroke-width="0.35">59.6</text>
<text transform="translate(3431.9,1092.3) scale(1.13,1)" x="0" y="0" style="font-family:'Liberation Serif', serif;font-size:13px;font-weight:700" fill="#1A1A1A" text-anchor="middle" stroke="#1A1A1A" stroke-width="0.35">63.2</text>
<text transform="translate(3508.3,1092.3) scale(1.13,1)" x="0" y="0" style="font-family:'Liberation Serif', serif;font-size:13px;font-weight:700" fill="#1A1A1A" text-anchor="middle" stroke="#1A1A1A" stroke-width="0.35">78.6</text>
<text transform="translate(3586.9,1092.3) scale(1.13,1)" x="0" y="0" style="font-family:'Liberation Serif', serif;font-size:13px;font-weight:700" fill="#1A1A1A" text-anchor="middle" stroke="#1A1A1A" stroke-width="0.35">87.1</text>
<text transform="translate(3663.8,1092.3) scale(1.13,1)" x="0" y="0" style="font-family:'Liberation Serif', serif;font-size:13px;font-weight:700" fill="#1A1A1A" text-anchor="middle" stroke="#1A1A1A" stroke-width="0.35">1505.2</text>
<text transform="translate(2868.7,1114.5) scale(1.13,1)" x="0" y="0" style="font-family:'Liberation Serif', serif;font-size:13px" fill="#1A1A1A" text-anchor="middle" stroke="#1A1A1A" stroke-width="0.35">LLaVA-1.5+Resampler</text>
<text transform="translate(3011.3,1114.5) scale(1.13,1)" x="0" y="0" style="font-family:'Liberation Serif', serif;font-size:13px" fill="#1A1A1A" text-anchor="middle" stroke="#1A1A1A" stroke-width="0.35">Resampler</text>
<text transform="translate(3112,1114.5) scale(1.13,1)" x="0" y="0" style="font-family:'Liberation Serif', serif;font-size:13px" fill="#1A1A1A" text-anchor="middle" stroke="#1A1A1A" stroke-width="0.35">192+1</text>
<text transform="translate(3193.6,1114.5) scale(1.13,1)" x="0" y="0" style="font-family:'Liberation Serif', serif;font-size:13px" fill="#1A1A1A" text-anchor="middle" stroke="#1A1A1A" stroke-width="0.35">102s</text>
<text transform="translate(3263.6,1114.5) scale(1.13,1)" x="0" y="0" style="font-family:'Liberation Serif', serif;font-size:13px" fill="#1A1A1A" text-anchor="middle" stroke="#1A1A1A" stroke-width="0.35">1.9×</text>
<text transform="translate(3349,1114.5) scale(1.13,1)" x="0" y="0" style="font-family:'Liberation Serif', serif;font-size:13px" fill="#1A1A1A" text-anchor="middle" stroke="#1A1A1A" stroke-width="0.35">50.1</text>
<text transform="translate(3431.9,1114.5) scale(1.13,1)" x="0" y="0" style="font-family:'Liberation Serif', serif;font-size:13px" fill="#1A1A1A" text-anchor="middle" stroke="#1A1A1A" stroke-width="0.35">55.2</text>
<text transform="translate(3508.3,1114.5) scale(1.13,1)" x="0" y="0" style="font-family:'Liberation Serif', serif;font-size:13px" fill="#1A1A1A" text-anchor="middle" stroke="#1A1A1A" stroke-width="0.35">74.3</text>
<text transform="translate(3586.9,1114.5) scale(1.13,1)" x="0" y="0" style="font-family:'Liberation Serif', serif;font-size:13px" fill="#1A1A1A" text-anchor="middle" stroke="#1A1A1A" stroke-width="0.35">82.7</text>
<text transform="translate(3663.8,1114.5) scale(1.13,1)" x="0" y="0" style="font-family:'Liberation Serif', serif;font-size:13px" fill="#1A1A1A" text-anchor="middle" stroke="#1A1A1A" stroke-width="0.35">1337.6</text>
<text transform="translate(2868.7,1129.8) scale(1.13,1)" x="0" y="0" style="font-family:'Liberation Serif', serif;font-size:13px" fill="#1A1A1A" text-anchor="middle" stroke="#1A1A1A" stroke-width="0.35">LLaVA-1.5+EViT</text>
<text transform="translate(3011.3,1129.8) scale(1.13,1)" x="0" y="0" style="font-family:'Liberation Serif', serif;font-size:13px" fill="#1A1A1A" text-anchor="middle" stroke="#1A1A1A" stroke-width="0.35">MLP+EViT</text>
<text transform="translate(3112,1129.8) scale(1.13,1)" x="0" y="0" style="font-family:'Liberation Serif', serif;font-size:13px" fill="#1A1A1A" text-anchor="middle" stroke="#1A1A1A" stroke-width="0.35">192+1</text>
<text transform="translate(3193.6,1129.8) scale(1.13,1)" x="0" y="0" style="font-family:'Liberation Serif', serif;font-size:13px" fill="#1A1A1A" text-anchor="middle" stroke="#1A1A1A" stroke-width="0.35">102s</text>
<text transform="translate(3263.6,1129.8) scale(1.13,1)" x="0" y="0" style="font-family:'Liberation Serif', serif;font-size:13px" fill="#1A1A1A" text-anchor="middle" stroke="#1A1A1A" stroke-width="0.35">1.9×</text>
<text transform="translate(3349,1129.8) scale(1.13,1)" x="0" y="0" style="font-family:'Liberation Serif', serif;font-size:13px" fill="#1A1A1A" text-anchor="middle" stroke="#1A1A1A" stroke-width="0.35">51.6</text>
<text transform="translate(3431.9,1129.8) scale(1.13,1)" x="0" y="0" style="font-family:'Liberation Serif', serif;font-size:13px" fill="#1A1A1A" text-anchor="middle" stroke="#1A1A1A" stroke-width="0.35">58.6</text>
<text transform="translate(3508.3,1129.8) scale(1.13,1)" x="0" y="0" style="font-family:'Liberation Serif', serif;font-size:13px" fill="#1A1A1A" text-anchor="middle" stroke="#1A1A1A" stroke-width="0.35">76.3</text>
<text transform="translate(3586.9,1129.8) scale(1.13,1)" x="0" y="0" style="font-family:'Liberation Serif', serif;font-size:13px" fill="#1A1A1A" text-anchor="middle" stroke="#1A1A1A" stroke-width="0.35">83.1</text>
<text transform="translate(3663.8,1129.8) scale(1.13,1)" x="0" y="0" style="font-family:'Liberation Serif', serif;font-size:13px" fill="#1A1A1A" text-anchor="middle" stroke="#1A1A1A" stroke-width="0.35">1427.6</text>
<text transform="translate(2868.7,1145.2) scale(1.13,1)" x="0" y="0" style="font-family:'Liberation Serif', serif;font-size:13px" fill="#1A1A1A" text-anchor="middle" stroke="#1A1A1A" stroke-width="0.35">LLaVA-1.5+SEC</text>
<text transform="translate(3011.3,1145.2) scale(1.13,1)" x="0" y="0" style="font-family:'Liberation Serif', serif;font-size:13px" fill="#1A1A1A" text-anchor="middle" stroke="#1A1A1A" stroke-width="0.35">MLP+SEC</text>
<text transform="translate(3112,1145.2) scale(1.13,1)" x="0" y="0" style="font-family:'Liberation Serif', serif;font-size:13px" fill="#1A1A1A" text-anchor="middle" stroke="#1A1A1A" stroke-width="0.35">192+1</text>
<text transform="translate(3193.6,1145.2) scale(1.13,1)" x="0" y="0" style="font-family:'Liberation Serif', serif;font-size:13px" fill="#1A1A1A" text-anchor="middle" stroke="#1A1A1A" stroke-width="0.35">102s</text>
<text transform="translate(3263.6,1145.2) scale(1.13,1)" x="0" y="0" style="font-family:'Liberation Serif', serif;font-size:13px" fill="#1A1A1A" text-anchor="middle" stroke="#1A1A1A" stroke-width="0.35">1.9×</text>
<text transform="translate(3349,1145.2) scale(1.13,1)" x="0" y="0" style="font-family:'Liberation Serif', serif;font-size:13px;font-weight:700" fill="#1A1A1A" text-anchor="middle" stroke="#1A1A1A" stroke-width="0.35">57.7</text>
<text transform="translate(3431.9,1145.2) scale(1.13,1)" x="0" y="0" style="font-family:'Liberation Serif', serif;font-size:13px;font-weight:700" fill="#1A1A1A" text-anchor="middle" stroke="#1A1A1A" stroke-width="0.35">62.7</text>
<text transform="translate(3508.3,1145.2) scale(1.13,1)" x="0" y="0" style="font-family:'Liberation Serif', serif;font-size:13px;font-weight:700" fill="#1A1A1A" text-anchor="middle" stroke="#1A1A1A" stroke-width="0.35">78.4</text>
<text transform="translate(3586.9,1145.2) scale(1.13,1)" x="0" y="0" style="font-family:'Liberation Serif', serif;font-size:13px;font-weight:700" fill="#1A1A1A" text-anchor="middle" stroke="#1A1A1A" stroke-width="0.35">86.7</text>
<text transform="translate(3663.8,1145.2) scale(1.13,1)" x="0" y="0" style="font-family:'Liberation Serif', serif;font-size:13px;font-weight:700" fill="#1A1A1A" text-anchor="middle" stroke="#1A1A1A" stroke-width="0.35">1500.1</text>
<text transform="translate(2868.7,1167.4) scale(1.13,1)" x="0" y="0" style="font-family:'Liberation Serif', serif;font-size:13px" fill="#1A1A1A" text-anchor="middle" stroke="#1A1A1A" stroke-width="0.35">LLaVA-1.5+Resampler</text>
<text transform="translate(3011.3,1167.4) scale(1.13,1)" x="0" y="0" style="font-family:'Liberation Serif', serif;font-size:13px" fill="#1A1A1A" text-anchor="middle" stroke="#1A1A1A" stroke-width="0.35">Resampler</text>
<text transform="translate(3112,1167.4) scale(1.13,1)" x="0" y="0" style="font-family:'Liberation Serif', serif;font-size:13px" fill="#1A1A1A" text-anchor="middle" stroke="#1A1A1A" stroke-width="0.35">144+1</text>
<text transform="translate(3193.6,1167.4) scale(1.13,1)" x="0" y="0" style="font-family:'Liberation Serif', serif;font-size:13px" fill="#1A1A1A" text-anchor="middle" stroke="#1A1A1A" stroke-width="0.35">94s</text>
<text transform="translate(3263.6,1167.4) scale(1.13,1)" x="0" y="0" style="font-family:'Liberation Serif', serif;font-size:13px" fill="#1A1A1A" text-anchor="middle" stroke="#1A1A1A" stroke-width="0.35">2.1×</text>
<text transform="translate(3349,1167.4) scale(1.13,1)" x="0" y="0" style="font-family:'Liberation Serif', serif;font-size:13px" fill="#1A1A1A" text-anchor="middle" stroke="#1A1A1A" stroke-width="0.35">47.6</text>
<text transform="translate(3431.9,1167.4) scale(1.13,1)" x="0" y="0" style="font-family:'Liberation Serif', serif;font-size:13px" fill="#1A1A1A" text-anchor="middle" stroke="#1A1A1A" stroke-width="0.35">54.6</text>
<text transform="translate(3508.3,1167.4) scale(1.13,1)" x="0" y="0" style="font-family:'Liberation Serif', serif;font-size:13px" fill="#1A1A1A" text-anchor="middle" stroke="#1A1A1A" stroke-width="0.35">72.0</text>
<text transform="translate(3586.9,1167.4) scale(1.13,1)" x="0" y="0" style="font-family:'Liberation Serif', serif;font-size:13px" fill="#1A1A1A" text-anchor="middle" stroke="#1A1A1A" stroke-width="0.35">81.9</text>
<text transform="translate(3663.8,1167.4) scale(1.13,1)" x="0" y="0" style="font-family:'Liberation Serif', serif;font-size:13px" fill="#1A1A1A" text-anchor="middle" stroke="#1A1A1A" stroke-width="0.35">1293.7</text>
<text transform="translate(2868.7,1182.8) scale(1.13,1)" x="0" y="0" style="font-family:'Liberation Serif', serif;font-size:13px" fill="#1A1A1A" text-anchor="middle" stroke="#1A1A1A" stroke-width="0.35">LLaVA-1.5+Pool</text>
<text transform="translate(3011.3,1182.8) scale(1.13,1)" x="0" y="0" style="font-family:'Liberation Serif', serif;font-size:13px" fill="#1A1A1A" text-anchor="middle" stroke="#1A1A1A" stroke-width="0.35">MLP+Pool</text>
<text transform="translate(3112,1182.8) scale(1.13,1)" x="0" y="0" style="font-family:'Liberation Serif', serif;font-size:13px" fill="#1A1A1A" text-anchor="middle" stroke="#1A1A1A" stroke-width="0.35">144+1</text>
<text transform="translate(3193.6,1182.8) scale(1.13,1)" x="0" y="0" style="font-family:'Liberation Serif', serif;font-size:13px" fill="#1A1A1A" text-anchor="middle" stroke="#1A1A1A" stroke-width="0.35">94s</text>
<text transform="translate(3263.6,1182.8) scale(1.13,1)" x="0" y="0" style="font-family:'Liberation Serif', serif;font-size:13px" fill="#1A1A1A" text-anchor="middle" stroke="#1A1A1A" stroke-width="0.35">2.1×</text>
<text transform="translate(3349,1182.8) scale(1.13,1)" x="0" y="0" style="font-family:'Liberation Serif', serif;font-size:13px" fill="#1A1A1A" text-anchor="middle" stroke="#1A1A1A" stroke-width="0.35">50.0</text>
<text transform="translate(3431.9,1182.8) scale(1.13,1)" x="0" y="0" style="font-family:'Liberation Serif', serif;font-size:13px" fill="#1A1A1A" text-anchor="middle" stroke="#1A1A1A" stroke-width="0.35">56.2</text>
<text transform="translate(3508.3,1182.8) scale(1.13,1)" x="0" y="0" style="font-family:'Liberation Serif', serif;font-size:13px" fill="#1A1A1A" text-anchor="middle" stroke="#1A1A1A" stroke-width="0.35">73.6</text>
<text transform="translate(3586.9,1182.8) scale(1.13,1)" x="0" y="0" style="font-family:'Liberation Serif', serif;font-size:13px" fill="#1A1A1A" text-anchor="middle" stroke="#1A1A1A" stroke-width="0.35">81.9</text>
<text transform="translate(3663.8,1182.8) scale(1.13,1)" x="0" y="0" style="font-family:'Liberation Serif', serif;font-size:13px" fill="#1A1A1A" text-anchor="middle" stroke="#1A1A1A" stroke-width="0.35">1310.7</text>
<text transform="translate(2868.7,1197.7) scale(1.13,1)" x="0" y="0" style="font-family:'Liberation Serif', serif;font-size:13px" fill="#1A1A1A" text-anchor="middle" stroke="#1A1A1A" stroke-width="0.35">LLaVA-1.5+EViT</text>
<text transform="translate(3011.3,1197.7) scale(1.13,1)" x="0" y="0" style="font-family:'Liberation Serif', serif;font-size:13px" fill="#1A1A1A" text-anchor="middle" stroke="#1A1A1A" stroke-width="0.35">MLP+EViT</text>
<text transform="translate(3112,1197.7) scale(1.13,1)" x="0" y="0" style="font-family:'Liberation Serif', serif;font-size:13px" fill="#1A1A1A" text-anchor="middle" stroke="#1A1A1A" stroke-width="0.35">144+1</text>
<text transform="translate(3193.6,1197.7) scale(1.13,1)" x="0" y="0" style="font-family:'Liberation Serif', serif;font-size:13px" fill="#1A1A1A" text-anchor="middle" stroke="#1A1A1A" stroke-width="0.35">94s</text>
<text transform="translate(3263.6,1197.7) scale(1.13,1)" x="0" y="0" style="font-family:'Liberation Serif', serif;font-size:13px" fill="#1A1A1A" text-anchor="middle" stroke="#1A1A1A" stroke-width="0.35">2.1×</text>
<text transform="translate(3349,1197.7) scale(1.13,1)" x="0" y="0" style="font-family:'Liberation Serif', serif;font-size:13px" fill="#1A1A1A" text-anchor="middle" stroke="#1A1A1A" stroke-width="0.35">51.2</text>
<text transform="translate(3431.9,1197.7) scale(1.13,1)" x="0" y="0" style="font-family:'Liberation Serif', serif;font-size:13px" fill="#1A1A1A" text-anchor="middle" stroke="#1A1A1A" stroke-width="0.35">58.0</text>
<text transform="translate(3508.3,1197.7) scale(1.13,1)" x="0" y="0" style="font-family:'Liberation Serif', serif;font-size:13px" fill="#1A1A1A" text-anchor="middle" stroke="#1A1A1A" stroke-width="0.35">76.0</text>
<text transform="translate(3586.9,1197.7) scale(1.13,1)" x="0" y="0" style="font-family:'Liberation Serif', serif;font-size:13px" fill="#1A1A1A" text-anchor="middle" stroke="#1A1A1A" stroke-width="0.35">83.1</text>
<text transform="translate(3663.8,1197.7) scale(1.13,1)" x="0" y="0" style="font-family:'Liberation Serif', serif;font-size:13px" fill="#1A1A1A" text-anchor="middle" stroke="#1A1A1A" stroke-width="0.35">1393.6</text>
<text transform="translate(2868.7,1213.5) scale(1.13,1)" x="0" y="0" style="font-family:'Liberation Serif', serif;font-size:13px" fill="#1A1A1A" text-anchor="middle" stroke="#1A1A1A" stroke-width="0.35">LLaVA-1.5+SEC</text>
<text transform="translate(3011.3,1213.5) scale(1.13,1)" x="0" y="0" style="font-family:'Liberation Serif', serif;font-size:13px" fill="#1A1A1A" text-anchor="middle" stroke="#1A1A1A" stroke-width="0.35">MLP+SEC</text>
<text transform="translate(3112,1213.5) scale(1.13,1)" x="0" y="0" style="font-family:'Liberation Serif', serif;font-size:13px" fill="#1A1A1A" text-anchor="middle" stroke="#1A1A1A" stroke-width="0.35">144+1</text>
<text transform="translate(3193.6,1213.5) scale(1.13,1)" x="0" y="0" style="font-family:'Liberation Serif', serif;font-size:13px" fill="#1A1A1A" text-anchor="middle" stroke="#1A1A1A" stroke-width="0.35">94s</text>
<text transform="translate(3263.6,1213.5) scale(1.13,1)" x="0" y="0" style="font-family:'Liberation Serif', serif;font-size:13px" fill="#1A1A1A" text-anchor="middle" stroke="#1A1A1A" stroke-width="0.35">2.1×</text>
<text transform="translate(3349,1213.5) scale(1.13,1)" x="0" y="0" style="font-family:'Liberation Serif', serif;font-size:13px;font-weight:700" fill="#1A1A1A" text-anchor="middle" stroke="#1A1A1A" stroke-width="0.35">56.8</text>
<text transform="translate(3431.9,1213.5) scale(1.13,1)" x="0" y="0" style="font-family:'Liberation Serif', serif;font-size:13px;font-weight:700" fill="#1A1A1A" text-anchor="middle" stroke="#1A1A1A" stroke-width="0.35">62.0</text>
<text transform="translate(3508.3,1213.5) scale(1.13,1)" x="0" y="0" style="font-family:'Liberation Serif', serif;font-size:13px;font-weight:700" fill="#1A1A1A" text-anchor="middle" stroke="#1A1A1A" stroke-width="0.35">78.0</text>
<text transform="translate(3586.9,1213.5) scale(1.13,1)" x="0" y="0" style="font-family:'Liberation Serif', serif;font-size:13px;font-weight:700" fill="#1A1A1A" text-anchor="middle" stroke="#1A1A1A" stroke-width="0.35">86.1</text>
<text transform="translate(3663.8,1213.5) scale(1.13,1)" x="0" y="0" style="font-family:'Liberation Serif', serif;font-size:13px;font-weight:700" fill="#1A1A1A" text-anchor="middle" stroke="#1A1A1A" stroke-width="0.35">1487.1</text>
<rect x="2782.4" y="1376" width="922.4" height="21.6" fill="#D9D9D9"/>
<rect x="2782.4" y="1484.4" width="922.4" height="22.4" fill="#D9D9D9"/>
<line x1="2782.4" y1="1230.7" x2="3704.8" y2="1230.7" stroke="#333" stroke-width="1.6" />
<line x1="2782.4" y1="1255.3" x2="3704.8" y2="1255.3" stroke="#666" stroke-width="1.2" />
<line x1="2782.4" y1="1508.3" x2="3704.8" y2="1508.3" stroke="#555" stroke-width="1.8" />
<text x="2795.8" y="1248.2" style="font-family:'Liberation Serif', serif;font-size:14px" fill="#1A1A1A" text-anchor="start" stroke="#1A1A1A" stroke-width="0.35">Model</text>
<text x="2995.5" y="1248.2" style="font-family:'Liberation Serif', serif;font-size:14px" fill="#1A1A1A" text-anchor="middle" stroke="#1A1A1A" stroke-width="0.35">LLM</text>
<text x="3089.5" y="1248.2" style="font-family:'Liberation Serif', serif;font-size:14px" fill="#1A1A1A" text-anchor="middle" stroke="#1A1A1A" stroke-width="0.35">Connector</text>
<text x="3176.3" y="1248.2" style="font-family:'Liberation Serif', serif;font-size:14px" fill="#1A1A1A" text-anchor="middle" stroke="#1A1A1A" stroke-width="0.35">V-T Num</text>
<text x="3240.8" y="1248.2" style="font-family:'Liberation Serif', serif;font-size:14px" fill="#1A1A1A" text-anchor="middle" stroke="#1A1A1A" stroke-width="0.35">Res</text>
<text x="3306.7" y="1248.2" style="font-family:'Liberation Serif', serif;font-size:14px" fill="#1A1A1A" text-anchor="middle" stroke="#1A1A1A" stroke-width="0.35">TextVQA</text>
<text x="3376.8" y="1248.2" style="font-family:'Liberation Serif', serif;font-size:14px" fill="#1A1A1A" text-anchor="middle" stroke="#1A1A1A" stroke-width="0.35">GQA</text>
<text x="3441.3" y="1248.2" style="font-family:'Liberation Serif', serif;font-size:14px" fill="#1A1A1A" text-anchor="middle" stroke="#1A1A1A" stroke-width="0.35">VQAv2</text>
<text x="3511" y="1248.2" style="font-family:'Liberation Serif', serif;font-size:14px" fill="#1A1A1A" text-anchor="middle" stroke="#1A1A1A" stroke-width="0.35">VisWiz</text>
<text x="3583.6" y="1248.2" style="font-family:'Liberation Serif', serif;font-size:14px" fill="#1A1A1A" text-anchor="middle" stroke="#1A1A1A" stroke-width="0.35">SQA<tspan style="font-style:italic;font-size:9.8px" dy="3">img</tspan></text>
<text x="3663" y="1248.2" style="font-family:'Liberation Serif', serif;font-size:14px" fill="#1A1A1A" text-anchor="middle" stroke="#1A1A1A" stroke-width="0.35">Speed (↑)</text>
<line x1="2948.2" y1="1234.5" x2="2948.2" y2="1253" stroke="#666" stroke-width="1.1" />
<line x1="3044" y1="1234.5" x2="3044" y2="1253" stroke="#666" stroke-width="1.1" />
<line x1="3135.3" y1="1234.5" x2="3135.3" y2="1253" stroke="#666" stroke-width="1.1" />
<line x1="3216.5" y1="1234.5" x2="3216.5" y2="1253" stroke="#666" stroke-width="1.1" />
<line x1="3265.7" y1="1234.5" x2="3265.7" y2="1253" stroke="#666" stroke-width="1.1" />
<line x1="3622" y1="1234.5" x2="3622" y2="1253" stroke="#666" stroke-width="1.1" />
<text x="2795.8" y="1272" style="font-family:'Liberation Serif', serif;font-size:14px" fill="#1A1A1A" text-anchor="start" stroke="#1A1A1A" stroke-width="0.35">7B LLM</text>
<text x="2795.8" y="1289.4" style="font-family:'Liberation Serif', serif;font-size:14px" fill="#1A1A1A" text-anchor="start" stroke="#1A1A1A" stroke-width="0.35">Shikra [<tspan fill="#3B7DC4" stroke="#3B7DC4">5</tspan>]</text>
<text x="2995.5" y="1289.4" style="font-family:'Liberation Serif', serif;font-size:14px" fill="#1A1A1A" text-anchor="middle" stroke="#1A1A1A" stroke-width="0.35">Vicuna-7B</text>
<text x="3089.5" y="1289.4" style="font-family:'Liberation Serif', serif;font-size:14px" fill="#1A1A1A" text-anchor="middle" stroke="#1A1A1A" stroke-width="0.35">MLP</text>
<text x="3176.3" y="1289.4" style="font-family:'Liberation Serif', serif;font-size:14px" fill="#1A1A1A" text-anchor="middle" stroke="#1A1A1A" stroke-width="0.35">257</text>
<text x="3240.8" y="1289.4" style="font-family:'Liberation Serif', serif;font-size:14px" fill="#1A1A1A" text-anchor="middle" stroke="#1A1A1A" stroke-width="0.35">224</text>
<text x="3306.7" y="1289.4" style="font-family:'Liberation Serif', serif;font-size:14px" fill="#1A1A1A" text-anchor="middle" stroke="#1A1A1A" stroke-width="0.35">-</text>
<text x="3376.8" y="1289.4" style="font-family:'Liberation Serif', serif;font-size:14px" fill="#1A1A1A" text-anchor="middle" stroke="#1A1A1A" stroke-width="0.35">-</text>
<text x="3441.3" y="1289.4" style="font-family:'Liberation Serif', serif;font-size:14px" fill="#1A1A1A" text-anchor="middle" stroke="#1A1A1A" stroke-width="0.35">77.4</text>
<text x="3511" y="1289.4" style="font-family:'Liberation Serif', serif;font-size:14px" fill="#1A1A1A" text-anchor="middle" stroke="#1A1A1A" stroke-width="0.35">-</text>
<text x="3583.6" y="1289.4" style="font-family:'Liberation Serif', serif;font-size:14px" fill="#1A1A1A" text-anchor="middle" stroke="#1A1A1A" stroke-width="0.35">-</text>
<text x="3663" y="1289.4" style="font-family:'Liberation Serif', serif;font-size:14px" fill="#1A1A1A" text-anchor="middle" stroke="#1A1A1A" stroke-width="0.35">-</text>
<text x="2795.8" y="1307" style="font-family:'Liberation Serif', serif;font-size:14px" fill="#1A1A1A" text-anchor="start" stroke="#1A1A1A" stroke-width="0.35">IDEFICS-9B [<tspan fill="#3B7DC4" stroke="#3B7DC4">27</tspan>]</text>
<text x="2995.5" y="1307" style="font-family:'Liberation Serif', serif;font-size:14px" fill="#1A1A1A" text-anchor="middle" stroke="#1A1A1A" stroke-width="0.35">LLaMA-7B</text>
<text x="3089.5" y="1307" style="font-family:'Liberation Serif', serif;font-size:14px" fill="#1A1A1A" text-anchor="middle" stroke="#1A1A1A" stroke-width="0.35">Cross Attn</text>
<text x="3176.3" y="1307" style="font-family:'Liberation Serif', serif;font-size:14px" fill="#1A1A1A" text-anchor="middle" stroke="#1A1A1A" stroke-width="0.35">257</text>
<text x="3240.8" y="1307" style="font-family:'Liberation Serif', serif;font-size:14px" fill="#1A1A1A" text-anchor="middle" stroke="#1A1A1A" stroke-width="0.35">224</text>
<text x="3306.7" y="1307" style="font-family:'Liberation Serif', serif;font-size:14px" fill="#1A1A1A" text-anchor="middle" stroke="#1A1A1A" stroke-width="0.35">-</text>
<text x="3376.8" y="1307" style="font-family:'Liberation Serif', serif;font-size:14px" fill="#1A1A1A" text-anchor="middle" stroke="#1A1A1A" stroke-width="0.35">38.4</text>
<text x="3441.3" y="1307" style="font-family:'Liberation Serif', serif;font-size:14px" fill="#1A1A1A" text-anchor="middle" stroke="#1A1A1A" stroke-width="0.35">50.9</text>
<text x="3511" y="1307" style="font-family:'Liberation Serif', serif;font-size:14px" fill="#1A1A1A" text-anchor="middle" stroke="#1A1A1A" stroke-width="0.35">35.5</text>
<text x="3583.6" y="1307" style="font-family:'Liberation Serif', serif;font-size:14px" fill="#1A1A1A" text-anchor="middle" stroke="#1A1A1A" stroke-width="0.35">-</text>
<text x="3663" y="1307" style="font-family:'Liberation Serif', serif;font-size:14px" fill="#1A1A1A" text-anchor="middle" stroke="#1A1A1A" stroke-width="0.35">-</text>
<text x="2795.8" y="1324.1" style="font-family:'Liberation Serif', serif;font-size:14px" fill="#1A1A1A" text-anchor="start" stroke="#1A1A1A" stroke-width="0.35">Qwen-VL [<tspan fill="#3B7DC4" stroke="#3B7DC4">1</tspan>]</text>
<text x="2995.5" y="1324.1" style="font-family:'Liberation Serif', serif;font-size:14px" fill="#1A1A1A" text-anchor="middle" stroke="#1A1A1A" stroke-width="0.35">Qwen-7B</text>
<text x="3089.5" y="1324.1" style="font-family:'Liberation Serif', serif;font-size:14px" fill="#1A1A1A" text-anchor="middle" stroke="#1A1A1A" stroke-width="0.35">Resampler</text>
<text x="3176.3" y="1324.1" style="font-family:'Liberation Serif', serif;font-size:14px" fill="#1A1A1A" text-anchor="middle" stroke="#1A1A1A" stroke-width="0.35">256</text>
<text x="3240.8" y="1324.1" style="font-family:'Liberation Serif', serif;font-size:14px" fill="#1A1A1A" text-anchor="middle" stroke="#1A1A1A" stroke-width="0.35">448</text>
<text x="3306.7" y="1324.1" style="font-family:'Liberation Serif', serif;font-size:14px" fill="#1A1A1A" text-anchor="middle" stroke="#1A1A1A" stroke-width="0.35">-</text>
<text x="3376.8" y="1324.1" style="font-family:'Liberation Serif', serif;font-size:14px" fill="#1A1A1A" text-anchor="middle" stroke="#1A1A1A" stroke-width="0.35">59.3</text>
<text x="3441.3" y="1324.1" style="font-family:'Liberation Serif', serif;font-size:14px" fill="#1A1A1A" text-anchor="middle" stroke="#1A1A1A" stroke-width="0.35">78.8</text>
<text x="3511" y="1324.1" style="font-family:'Liberation Serif', serif;font-size:14px" fill="#1A1A1A" text-anchor="middle" stroke="#1A1A1A" stroke-width="0.35">35.2</text>
<text x="3583.6" y="1324.1" style="font-family:'Liberation Serif', serif;font-size:14px" fill="#1A1A1A" text-anchor="middle" stroke="#1A1A1A" stroke-width="0.35">67.1</text>
<text x="3663" y="1324.1" style="font-family:'Liberation Serif', serif;font-size:14px" fill="#1A1A1A" text-anchor="middle" stroke="#1A1A1A" stroke-width="0.35">-</text>
<text x="2795.8" y="1341.6" style="font-family:'Liberation Serif', serif;font-size:14px" fill="#1A1A1A" text-anchor="start" stroke="#1A1A1A" stroke-width="0.35">Qwen-VL-Chat [<tspan fill="#3B7DC4" stroke="#3B7DC4">1</tspan>]</text>
<text x="2995.5" y="1341.6" style="font-family:'Liberation Serif', serif;font-size:14px" fill="#1A1A1A" text-anchor="middle" stroke="#1A1A1A" stroke-width="0.35">Qwen-7B</text>
<text x="3089.5" y="1341.6" style="font-family:'Liberation Serif', serif;font-size:14px" fill="#1A1A1A" text-anchor="middle" stroke="#1A1A1A" stroke-width="0.35">Resampler</text>
<text x="3176.3" y="1341.6" style="font-family:'Liberation Serif', serif;font-size:14px" fill="#1A1A1A" text-anchor="middle" stroke="#1A1A1A" stroke-width="0.35">256</text>
<text x="3240.8" y="1341.6" style="font-family:'Liberation Serif', serif;font-size:14px" fill="#1A1A1A" text-anchor="middle" stroke="#1A1A1A" stroke-width="0.35">448</text>
<text x="3306.7" y="1341.6" style="font-family:'Liberation Serif', serif;font-size:14px" fill="#1A1A1A" text-anchor="middle" stroke="#1A1A1A" stroke-width="0.35">-</text>
<text x="3376.8" y="1341.6" style="font-family:'Liberation Serif', serif;font-size:14px" fill="#1A1A1A" text-anchor="middle" stroke="#1A1A1A" stroke-width="0.35">57.5</text>
<text x="3441.3" y="1341.6" style="font-family:'Liberation Serif', serif;font-size:14px" fill="#1A1A1A" text-anchor="middle" stroke="#1A1A1A" stroke-width="0.35">78.2</text>
<text x="3511" y="1341.6" style="font-family:'Liberation Serif', serif;font-size:14px" fill="#1A1A1A" text-anchor="middle" stroke="#1A1A1A" stroke-width="0.35">38.9</text>
<text x="3583.6" y="1341.6" style="font-family:'Liberation Serif', serif;font-size:14px" fill="#1A1A1A" text-anchor="middle" stroke="#1A1A1A" stroke-width="0.35">68.2</text>
<text x="3663" y="1341.6" style="font-family:'Liberation Serif', serif;font-size:14px" fill="#1A1A1A" text-anchor="middle" stroke="#1A1A1A" stroke-width="0.35">-</text>
<line x1="2948.2" y1="1277" x2="2948.2" y2="1347" stroke="#666" stroke-width="1.1" />
<line x1="3044" y1="1277" x2="3044" y2="1347" stroke="#666" stroke-width="1.1" />
<line x1="3135.3" y1="1277" x2="3135.3" y2="1347" stroke="#666" stroke-width="1.1" />
<line x1="3216.5" y1="1277" x2="3216.5" y2="1347" stroke="#666" stroke-width="1.1" />
<line x1="3265.7" y1="1277" x2="3265.7" y2="1347" stroke="#666" stroke-width="1.1" />
<line x1="3622" y1="1277" x2="3622" y2="1347" stroke="#666" stroke-width="1.1" />
<line x1="2782.4" y1="1349.5" x2="3704.8" y2="1349.5" stroke="#777" stroke-width="1.6" />
<text x="2795.8" y="1366.2" style="font-family:'Liberation Serif', serif;font-size:14px" fill="#1A1A1A" text-anchor="start" stroke="#1A1A1A" stroke-width="0.35">LLaVA-1.5 [<tspan fill="#3B7DC4" stroke="#3B7DC4">35</tspan>]</text>
<text x="2995.5" y="1366.2" style="font-family:'Liberation Serif', serif;font-size:14px" fill="#1A1A1A" text-anchor="middle" stroke="#1A1A1A" stroke-width="0.35">Vicuna-7B</text>
<text x="3089.5" y="1366.2" style="font-family:'Liberation Serif', serif;font-size:14px" fill="#1A1A1A" text-anchor="middle" stroke="#1A1A1A" stroke-width="0.35">MLP</text>
<text x="3176.3" y="1366.2" style="font-family:'Liberation Serif', serif;font-size:14px" fill="#1A1A1A" text-anchor="middle" stroke="#1A1A1A" stroke-width="0.35">577</text>
<text x="3240.8" y="1366.2" style="font-family:'Liberation Serif', serif;font-size:14px" fill="#1A1A1A" text-anchor="middle" stroke="#1A1A1A" stroke-width="0.35">336</text>
<text x="3306.7" y="1366.2" style="font-family:'Liberation Serif', serif;font-size:14px" fill="#1A1A1A" text-anchor="middle" stroke="#1A1A1A" stroke-width="0.35">58.2</text>
<text x="3376.8" y="1366.2" style="font-family:'Liberation Serif', serif;font-size:14px" fill="#1A1A1A" text-anchor="middle" stroke="#1A1A1A" stroke-width="0.35">62.0</text>
<text x="3441.3" y="1366.2" style="font-family:'Liberation Serif', serif;font-size:14px" fill="#1A1A1A" text-anchor="middle" stroke="#1A1A1A" stroke-width="0.35">78.5</text>
<text x="3511" y="1366.2" style="font-family:'Liberation Serif', serif;font-size:14px" fill="#1A1A1A" text-anchor="middle" stroke="#1A1A1A" stroke-width="0.35">50.0</text>
<text x="3583.6" y="1366.2" style="font-family:'Liberation Serif', serif;font-size:14px" fill="#1A1A1A" text-anchor="middle" stroke="#1A1A1A" stroke-width="0.35">66.8</text>
<text x="3663" y="1366.2" style="font-family:'Liberation Serif', serif;font-size:14px" fill="#1A1A1A" text-anchor="middle" stroke="#1A1A1A" stroke-width="0.35">1.0×</text>
<line x1="2948.2" y1="1354" x2="2948.2" y2="1371" stroke="#666" stroke-width="1.1" />
<line x1="3044" y1="1354" x2="3044" y2="1371" stroke="#666" stroke-width="1.1" />
<line x1="3135.3" y1="1354" x2="3135.3" y2="1371" stroke="#666" stroke-width="1.1" />
<line x1="3216.5" y1="1354" x2="3216.5" y2="1371" stroke="#666" stroke-width="1.1" />
<line x1="3265.7" y1="1354" x2="3265.7" y2="1371" stroke="#666" stroke-width="1.1" />
<line x1="3622" y1="1354" x2="3622" y2="1371" stroke="#666" stroke-width="1.1" />
<line x1="2782.4" y1="1374.5" x2="3704.8" y2="1374.5" stroke="#777" stroke-width="1.6" />
<text x="2795.8" y="1391.2" style="font-family:'Liberation Serif', serif;font-size:14px" fill="#1A1A1A" text-anchor="start" stroke="#1A1A1A" stroke-width="0.35">LLaVA-1.5+SEC (ours)</text>
<text x="2995.5" y="1391.2" style="font-family:'Liberation Serif', serif;font-size:14px" fill="#1A1A1A" text-anchor="middle" stroke="#1A1A1A" stroke-width="0.35">Vicuna-7B</text>
<text x="3089.5" y="1391.2" style="font-family:'Liberation Serif', serif;font-size:14px" fill="#1A1A1A" text-anchor="middle" stroke="#1A1A1A" stroke-width="0.35">MLP+SEC</text>
<text x="3176.3" y="1391.2" style="font-family:'Liberation Serif', serif;font-size:14px" fill="#1A1A1A" text-anchor="middle" stroke="#1A1A1A" stroke-width="0.35">257</text>
<text x="3240.8" y="1391.2" style="font-family:'Liberation Serif', serif;font-size:14px" fill="#1A1A1A" text-anchor="middle" stroke="#1A1A1A" stroke-width="0.35">336</text>
<text x="3306.7" y="1391.2" style="font-family:'Liberation Serif', serif;font-size:14px;font-weight:700" fill="#1A1A1A" text-anchor="middle" stroke="#1A1A1A" stroke-width="0.35">59.6</text>
<text x="3376.8" y="1391.2" style="font-family:'Liberation Serif', serif;font-size:14px;font-weight:700" fill="#1A1A1A" text-anchor="middle" stroke="#1A1A1A" stroke-width="0.35">63.2</text>
<text x="3441.3" y="1391.2" style="font-family:'Liberation Serif', serif;font-size:14px;font-weight:700" fill="#1A1A1A" text-anchor="middle" stroke="#1A1A1A" stroke-width="0.35">78.9</text>
<text x="3511" y="1391.2" style="font-family:'Liberation Serif', serif;font-size:14px;font-weight:700" fill="#1A1A1A" text-anchor="middle" stroke="#1A1A1A" stroke-width="0.35">52.8</text>
<text x="3583.6" y="1391.2" style="font-family:'Liberation Serif', serif;font-size:14px;font-weight:700" fill="#1A1A1A" text-anchor="middle" stroke="#1A1A1A" stroke-width="0.35">69.6</text>
<text x="3663" y="1391.2" style="font-family:'Liberation Serif', serif;font-size:14px;font-weight:700" fill="#1A1A1A" text-anchor="middle" stroke="#1A1A1A" stroke-width="0.35">1.7×</text>
<line x1="2948.2" y1="1379" x2="2948.2" y2="1396" stroke="#666" stroke-width="1.1" />
<line x1="3044" y1="1379" x2="3044" y2="1396" stroke="#666" stroke-width="1.1" />
<line x1="3135.3" y1="1379" x2="3135.3" y2="1396" stroke="#666" stroke-width="1.1" />
<line x1="3216.5" y1="1379" x2="3216.5" y2="1396" stroke="#666" stroke-width="1.1" />
<line x1="3265.7" y1="1379" x2="3265.7" y2="1396" stroke="#666" stroke-width="1.1" />
<line x1="3622" y1="1379" x2="3622" y2="1396" stroke="#666" stroke-width="1.1" />
<line x1="2782.4" y1="1398.7" x2="3704.8" y2="1398.7" stroke="#777" stroke-width="1.6" />
<text x="2795.8" y="1415.4" style="font-family:'Liberation Serif', serif;font-size:14px" fill="#1A1A1A" text-anchor="start" stroke="#1A1A1A" stroke-width="0.35">13B LLM</text>
<text x="2795.8" y="1432.6" style="font-family:'Liberation Serif', serif;font-size:14px" fill="#1A1A1A" text-anchor="start" stroke="#1A1A1A" stroke-width="0.35">InstructBLIP [<tspan fill="#3B7DC4" stroke="#3B7DC4">8</tspan>]</text>
<text x="2995.5" y="1432.6" style="font-family:'Liberation Serif', serif;font-size:14px" fill="#1A1A1A" text-anchor="middle" stroke="#1A1A1A" stroke-width="0.35">Vicuna-13B</text>
<text x="3089.5" y="1432.6" style="font-family:'Liberation Serif', serif;font-size:14px" fill="#1A1A1A" text-anchor="middle" stroke="#1A1A1A" stroke-width="0.35">Q-Former</text>
<text x="3176.3" y="1432.6" style="font-family:'Liberation Serif', serif;font-size:14px" fill="#1A1A1A" text-anchor="middle" stroke="#1A1A1A" stroke-width="0.35">32</text>
<text x="3240.8" y="1432.6" style="font-family:'Liberation Serif', serif;font-size:14px" fill="#1A1A1A" text-anchor="middle" stroke="#1A1A1A" stroke-width="0.35">224</text>
<text x="3306.7" y="1432.6" style="font-family:'Liberation Serif', serif;font-size:14px" fill="#1A1A1A" text-anchor="middle" stroke="#1A1A1A" stroke-width="0.35">-</text>
<text x="3376.8" y="1432.6" style="font-family:'Liberation Serif', serif;font-size:14px" fill="#1A1A1A" text-anchor="middle" stroke="#1A1A1A" stroke-width="0.35">49.5</text>
<text x="3441.3" y="1432.6" style="font-family:'Liberation Serif', serif;font-size:14px" fill="#1A1A1A" text-anchor="middle" stroke="#1A1A1A" stroke-width="0.35">-</text>
<text x="3511" y="1432.6" style="font-family:'Liberation Serif', serif;font-size:14px" fill="#1A1A1A" text-anchor="middle" stroke="#1A1A1A" stroke-width="0.35">33.4</text>
<text x="3583.6" y="1432.6" style="font-family:'Liberation Serif', serif;font-size:14px" fill="#1A1A1A" text-anchor="middle" stroke="#1A1A1A" stroke-width="0.35">63.1</text>
<text x="3663" y="1432.6" style="font-family:'Liberation Serif', serif;font-size:14px" fill="#1A1A1A" text-anchor="middle" stroke="#1A1A1A" stroke-width="0.35">-</text>
<text x="2795.8" y="1450.4" style="font-family:'Liberation Serif', serif;font-size:14px" fill="#1A1A1A" text-anchor="start" stroke="#1A1A1A" stroke-width="0.35">BLIP-2 [<tspan fill="#3B7DC4" stroke="#3B7DC4">29</tspan>]</text>
<text x="2995.5" y="1450.4" style="font-family:'Liberation Serif', serif;font-size:14px" fill="#1A1A1A" text-anchor="middle" stroke="#1A1A1A" stroke-width="0.35">Vicuna-13B</text>
<text x="3089.5" y="1450.4" style="font-family:'Liberation Serif', serif;font-size:14px" fill="#1A1A1A" text-anchor="middle" stroke="#1A1A1A" stroke-width="0.35">Q-Former</text>
<text x="3176.3" y="1450.4" style="font-family:'Liberation Serif', serif;font-size:14px" fill="#1A1A1A" text-anchor="middle" stroke="#1A1A1A" stroke-width="0.35">32</text>
<text x="3240.8" y="1450.4" style="font-family:'Liberation Serif', serif;font-size:14px" fill="#1A1A1A" text-anchor="middle" stroke="#1A1A1A" stroke-width="0.35">224</text>
<text x="3306.7" y="1450.4" style="font-family:'Liberation Serif', serif;font-size:14px" fill="#1A1A1A" text-anchor="middle" stroke="#1A1A1A" stroke-width="0.35">-</text>
<text x="3376.8" y="1450.4" style="font-family:'Liberation Serif', serif;font-size:14px" fill="#1A1A1A" text-anchor="middle" stroke="#1A1A1A" stroke-width="0.35">41.0</text>
<text x="3441.3" y="1450.4" style="font-family:'Liberation Serif', serif;font-size:14px" fill="#1A1A1A" text-anchor="middle" stroke="#1A1A1A" stroke-width="0.35">41.0</text>
<text x="3511" y="1450.4" style="font-family:'Liberation Serif', serif;font-size:14px" fill="#1A1A1A" text-anchor="middle" stroke="#1A1A1A" stroke-width="0.35">19.5</text>
<text x="3583.6" y="1450.4" style="font-family:'Liberation Serif', serif;font-size:14px" fill="#1A1A1A" text-anchor="middle" stroke="#1A1A1A" stroke-width="0.35">61.0</text>
<text x="3663" y="1450.4" style="font-family:'Liberation Serif', serif;font-size:14px" fill="#1A1A1A" text-anchor="middle" stroke="#1A1A1A" stroke-width="0.35">-</text>
<line x1="2948.2" y1="1420" x2="2948.2" y2="1456" stroke="#666" stroke-width="1.1" />
<line x1="3044" y1="1420" x2="3044" y2="1456" stroke="#666" stroke-width="1.1" />
<line x1="3135.3" y1="1420" x2="3135.3" y2="1456" stroke="#666" stroke-width="1.1" />
<line x1="3216.5" y1="1420" x2="3216.5" y2="1456" stroke="#666" stroke-width="1.1" />
<line x1="3265.7" y1="1420" x2="3265.7" y2="1456" stroke="#666" stroke-width="1.1" />
<line x1="3622" y1="1420" x2="3622" y2="1456" stroke="#666" stroke-width="1.1" />
<line x1="2782.4" y1="1459.1" x2="3704.8" y2="1459.1" stroke="#777" stroke-width="1.6" />
<text x="2795.8" y="1475.4" style="font-family:'Liberation Serif', serif;font-size:14px" fill="#1A1A1A" text-anchor="start" stroke="#1A1A1A" stroke-width="0.35">LLaVA-1.5 [<tspan fill="#3B7DC4" stroke="#3B7DC4">35</tspan>]</text>
<text x="2995.5" y="1475.4" style="font-family:'Liberation Serif', serif;font-size:14px" fill="#1A1A1A" text-anchor="middle" stroke="#1A1A1A" stroke-width="0.35">Vicuna-13B</text>
<text x="3089.5" y="1475.4" style="font-family:'Liberation Serif', serif;font-size:14px" fill="#1A1A1A" text-anchor="middle" stroke="#1A1A1A" stroke-width="0.35">MLP</text>
<text x="3176.3" y="1475.4" style="font-family:'Liberation Serif', serif;font-size:14px" fill="#1A1A1A" text-anchor="middle" stroke="#1A1A1A" stroke-width="0.35">577</text>
<text x="3240.8" y="1475.4" style="font-family:'Liberation Serif', serif;font-size:14px" fill="#1A1A1A" text-anchor="middle" stroke="#1A1A1A" stroke-width="0.35">336</text>
<text x="3306.7" y="1475.4" style="font-family:'Liberation Serif', serif;font-size:14px" fill="#1A1A1A" text-anchor="middle" stroke="#1A1A1A" stroke-width="0.35">61.2</text>
<text x="3376.8" y="1475.4" style="font-family:'Liberation Serif', serif;font-size:14px" fill="#1A1A1A" text-anchor="middle" stroke="#1A1A1A" stroke-width="0.35">63.3</text>
<text x="3441.3" y="1475.4" style="font-family:'Liberation Serif', serif;font-size:14px;font-weight:700" fill="#1A1A1A" text-anchor="middle" stroke="#1A1A1A" stroke-width="0.35">80.0</text>
<text x="3511" y="1475.4" style="font-family:'Liberation Serif', serif;font-size:14px" fill="#1A1A1A" text-anchor="middle" stroke="#1A1A1A" stroke-width="0.35">53.6</text>
<text x="3583.6" y="1475.4" style="font-family:'Liberation Serif', serif;font-size:14px" fill="#1A1A1A" text-anchor="middle" stroke="#1A1A1A" stroke-width="0.35">71.6</text>
<text x="3663" y="1475.4" style="font-family:'Liberation Serif', serif;font-size:14px" fill="#1A1A1A" text-anchor="middle" stroke="#1A1A1A" stroke-width="0.35">1.0×</text>
<line x1="2948.2" y1="1463" x2="2948.2" y2="1480" stroke="#666" stroke-width="1.1" />
<line x1="3044" y1="1463" x2="3044" y2="1480" stroke="#666" stroke-width="1.1" />
<line x1="3135.3" y1="1463" x2="3135.3" y2="1480" stroke="#666" stroke-width="1.1" />
<line x1="3216.5" y1="1463" x2="3216.5" y2="1480" stroke="#666" stroke-width="1.1" />
<line x1="3265.7" y1="1463" x2="3265.7" y2="1480" stroke="#666" stroke-width="1.1" />
<line x1="3622" y1="1463" x2="3622" y2="1480" stroke="#666" stroke-width="1.1" />
<line x1="2782.4" y1="1483" x2="3704.8" y2="1483" stroke="#777" stroke-width="1.6" />
<text x="2795.8" y="1499.7" style="font-family:'Liberation Serif', serif;font-size:14px" fill="#1A1A1A" text-anchor="start" stroke="#1A1A1A" stroke-width="0.35">LLaVA1.5+SEC (ours)</text>
<text x="2995.5" y="1499.7" style="font-family:'Liberation Serif', serif;font-size:14px" fill="#1A1A1A" text-anchor="middle" stroke="#1A1A1A" stroke-width="0.35">Vicuna-13B</text>
<text x="3089.5" y="1499.7" style="font-family:'Liberation Serif', serif;font-size:14px" fill="#1A1A1A" text-anchor="middle" stroke="#1A1A1A" stroke-width="0.35">MLP+SEC</text>
<text x="3176.3" y="1499.7" style="font-family:'Liberation Serif', serif;font-size:14px" fill="#1A1A1A" text-anchor="middle" stroke="#1A1A1A" stroke-width="0.35">257</text>
<text x="3240.8" y="1499.7" style="font-family:'Liberation Serif', serif;font-size:14px" fill="#1A1A1A" text-anchor="middle" stroke="#1A1A1A" stroke-width="0.35">336</text>
<text x="3306.7" y="1499.7" style="font-family:'Liberation Serif', serif;font-size:14px;font-weight:700" fill="#1A1A1A" text-anchor="middle" stroke="#1A1A1A" stroke-width="0.35">62.3</text>
<text x="3376.8" y="1499.7" style="font-family:'Liberation Serif', serif;font-size:14px;font-weight:700" fill="#1A1A1A" text-anchor="middle" stroke="#1A1A1A" stroke-width="0.35">64.3</text>
<text x="3441.3" y="1499.7" style="font-family:'Liberation Serif', serif;font-size:14px;font-weight:700" fill="#1A1A1A" text-anchor="middle" stroke="#1A1A1A" stroke-width="0.35">80.0</text>
<text x="3511" y="1499.7" style="font-family:'Liberation Serif', serif;font-size:14px;font-weight:700" fill="#1A1A1A" text-anchor="middle" stroke="#1A1A1A" stroke-width="0.35">54.7</text>
<text x="3583.6" y="1499.7" style="font-family:'Liberation Serif', serif;font-size:14px;font-weight:700" fill="#1A1A1A" text-anchor="middle" stroke="#1A1A1A" stroke-width="0.35">72.0</text>
<text x="3663" y="1499.7" style="font-family:'Liberation Serif', serif;font-size:14px;font-weight:700" fill="#1A1A1A" text-anchor="middle" stroke="#1A1A1A" stroke-width="0.35">1.8×</text>
<line x1="2948.2" y1="1487" x2="2948.2" y2="1505" stroke="#666" stroke-width="1.1" />
<line x1="3044" y1="1487" x2="3044" y2="1505" stroke="#666" stroke-width="1.1" />
<line x1="3135.3" y1="1487" x2="3135.3" y2="1505" stroke="#666" stroke-width="1.1" />
<line x1="3216.5" y1="1487" x2="3216.5" y2="1505" stroke="#666" stroke-width="1.1" />
<line x1="3265.7" y1="1487" x2="3265.7" y2="1505" stroke="#666" stroke-width="1.1" />
<line x1="3622" y1="1487" x2="3622" y2="1505" stroke="#666" stroke-width="1.1" />
<rect x="2783" y="1704.5" width="920" height="20.5" fill="#D9D9D9"/>
<rect x="2783" y="1808" width="920" height="20.6" fill="#D9D9D9"/>
<line x1="2783" y1="1524.9" x2="3703" y2="1524.9" stroke="#333" stroke-width="1.6" />
<line x1="2783" y1="1548.8" x2="3703" y2="1548.8" stroke="#666" stroke-width="1.2" />
<line x1="2783" y1="1829.8" x2="3703" y2="1829.8" stroke="#555" stroke-width="1.8" />
<text x="2803.2" y="1541.3" style="font-family:'Liberation Serif', serif;font-size:13.7px" fill="#1A1A1A" text-anchor="start" stroke="#1A1A1A" stroke-width="0.35">Model</text>
<text x="3019" y="1541.3" style="font-family:'Liberation Serif', serif;font-size:13.7px" fill="#1A1A1A" text-anchor="middle" stroke="#1A1A1A" stroke-width="0.35">LLM</text>
<text x="3144.6" y="1541.3" style="font-family:'Liberation Serif', serif;font-size:13.7px" fill="#1A1A1A" text-anchor="middle" stroke="#1A1A1A" stroke-width="0.35">Connector</text>
<text x="3259.8" y="1541.3" style="font-family:'Liberation Serif', serif;font-size:13.7px" fill="#1A1A1A" text-anchor="middle" stroke="#1A1A1A" stroke-width="0.35">V-T Num</text>
<text x="3338" y="1541.3" style="font-family:'Liberation Serif', serif;font-size:13.7px" fill="#1A1A1A" text-anchor="middle" stroke="#1A1A1A" stroke-width="0.35">Res</text>
<text x="3407" y="1541.3" style="font-family:'Liberation Serif', serif;font-size:13.7px" fill="#1A1A1A" text-anchor="middle" stroke="#1A1A1A" stroke-width="0.35">POPE</text>
<text x="3481.5" y="1541.3" style="font-family:'Liberation Serif', serif;font-size:13.7px" fill="#1A1A1A" text-anchor="middle" stroke="#1A1A1A" stroke-width="0.35">MMB</text>
<text x="3563" y="1541.3" style="font-family:'Liberation Serif', serif;font-size:13.7px" fill="#1A1A1A" text-anchor="middle" stroke="#1A1A1A" stroke-width="0.35">MM-Vet</text>
<text x="3655.6" y="1541.3" style="font-family:'Liberation Serif', serif;font-size:13.7px" fill="#1A1A1A" text-anchor="middle" stroke="#1A1A1A" stroke-width="0.35">Speed (↑)</text>
<line x1="2962.4" y1="1529.5" x2="2962.4" y2="1546" stroke="#666" stroke-width="1.1" />
<line x1="3076.8" y1="1529.5" x2="3076.8" y2="1546" stroke="#666" stroke-width="1.1" />
<line x1="3212.8" y1="1529.5" x2="3212.8" y2="1546" stroke="#666" stroke-width="1.1" />
<line x1="3307.1" y1="1529.5" x2="3307.1" y2="1546" stroke="#666" stroke-width="1.1" />
<line x1="3369.7" y1="1529.5" x2="3369.7" y2="1546" stroke="#666" stroke-width="1.1" />
<line x1="3607.9" y1="1529.5" x2="3607.9" y2="1546" stroke="#666" stroke-width="1.1" />
<text x="2803.2" y="1564.4" style="font-family:'Liberation Serif', serif;font-size:13.7px" fill="#1A1A1A" text-anchor="start" stroke="#1A1A1A" stroke-width="0.35">7B LLM</text>
<text x="2803.2" y="1581.7" style="font-family:'Liberation Serif', serif;font-size:13.7px" fill="#1A1A1A" text-anchor="start" stroke="#1A1A1A" stroke-width="0.35">MiniGPT-4 [<tspan fill="#3B7DC4" stroke="#3B7DC4">60</tspan>]</text>
<text x="3019" y="1581.7" style="font-family:'Liberation Serif', serif;font-size:13.7px" fill="#1A1A1A" text-anchor="middle" stroke="#1A1A1A" stroke-width="0.35">Vicuna-7B</text>
<text x="3144.6" y="1581.7" style="font-family:'Liberation Serif', serif;font-size:13.7px" fill="#1A1A1A" text-anchor="middle" stroke="#1A1A1A" stroke-width="0.35">Resampler</text>
<text x="3259.8" y="1581.7" style="font-family:'Liberation Serif', serif;font-size:13.7px" fill="#1A1A1A" text-anchor="middle" stroke="#1A1A1A" stroke-width="0.35">32</text>
<text x="3338" y="1581.7" style="font-family:'Liberation Serif', serif;font-size:13.7px" fill="#1A1A1A" text-anchor="middle" stroke="#1A1A1A" stroke-width="0.35">224</text>
<text x="3407" y="1581.7" style="font-family:'Liberation Serif', serif;font-size:13.7px" fill="#1A1A1A" text-anchor="middle" stroke="#1A1A1A" stroke-width="0.35">72.2</text>
<text x="3481.5" y="1581.7" style="font-family:'Liberation Serif', serif;font-size:13.7px" fill="#1A1A1A" text-anchor="middle" stroke="#1A1A1A" stroke-width="0.35">24.3</text>
<text x="3563" y="1581.7" style="font-family:'Liberation Serif', serif;font-size:13.7px" fill="#1A1A1A" text-anchor="middle" stroke="#1A1A1A" stroke-width="0.35">22.1</text>
<text x="3655.6" y="1581.7" style="font-family:'Liberation Serif', serif;font-size:13.7px" fill="#1A1A1A" text-anchor="middle" stroke="#1A1A1A" stroke-width="0.35">-</text>
<text x="2803.2" y="1597.9" style="font-family:'Liberation Serif', serif;font-size:13.7px" fill="#1A1A1A" text-anchor="start" stroke="#1A1A1A" stroke-width="0.35">mPLUG-Owl2 [<tspan fill="#3B7DC4" stroke="#3B7DC4">57</tspan>]</text>
<text x="3019" y="1597.9" style="font-family:'Liberation Serif', serif;font-size:13.7px" fill="#1A1A1A" text-anchor="middle" stroke="#1A1A1A" stroke-width="0.35">LLaMA2-7B</text>
<text x="3144.6" y="1597.9" style="font-family:'Liberation Serif', serif;font-size:13.7px" fill="#1A1A1A" text-anchor="middle" stroke="#1A1A1A" stroke-width="0.35">Resampler</text>
<text x="3259.8" y="1597.9" style="font-family:'Liberation Serif', serif;font-size:13.7px" fill="#1A1A1A" text-anchor="middle" stroke="#1A1A1A" stroke-width="0.35">32</text>
<text x="3338" y="1597.9" style="font-family:'Liberation Serif', serif;font-size:13.7px" fill="#1A1A1A" text-anchor="middle" stroke="#1A1A1A" stroke-width="0.35">224</text>
<text x="3407" y="1597.9" style="font-family:'Liberation Serif', serif;font-size:13.7px" fill="#1A1A1A" text-anchor="middle" stroke="#1A1A1A" stroke-width="0.35">-</text>
<text x="3481.5" y="1597.9" style="font-family:'Liberation Serif', serif;font-size:13.7px" fill="#1A1A1A" text-anchor="middle" stroke="#1A1A1A" stroke-width="0.35">49.4</text>
<text x="3563" y="1597.9" style="font-family:'Liberation Serif', serif;font-size:13.7px" fill="#1A1A1A" text-anchor="middle" stroke="#1A1A1A" stroke-width="0.35">-</text>
<text x="3655.6" y="1597.9" style="font-family:'Liberation Serif', serif;font-size:13.7px" fill="#1A1A1A" text-anchor="middle" stroke="#1A1A1A" stroke-width="0.35">-</text>
<line x1="2962.4" y1="1570" x2="2962.4" y2="1603" stroke="#666" stroke-width="1.1" />
<line x1="3076.8" y1="1570" x2="3076.8" y2="1603" stroke="#666" stroke-width="1.1" />
<line x1="3212.8" y1="1570" x2="3212.8" y2="1603" stroke="#666" stroke-width="1.1" />
<line x1="3307.1" y1="1570" x2="3307.1" y2="1603" stroke="#666" stroke-width="1.1" />
<line x1="3369.7" y1="1570" x2="3369.7" y2="1603" stroke="#666" stroke-width="1.1" />
<line x1="3607.9" y1="1570" x2="3607.9" y2="1603" stroke="#666" stroke-width="1.1" />
<line x1="2783" y1="1605.8" x2="3703" y2="1605.8" stroke="#777" stroke-width="1.6" />
<text x="2803.2" y="1622.1" style="font-family:'Liberation Serif', serif;font-size:13.7px" fill="#1A1A1A" text-anchor="start" stroke="#1A1A1A" stroke-width="0.35">LLaMA-AdapterV2 [<tspan fill="#3B7DC4" stroke="#3B7DC4">14</tspan>]</text>
<text x="3019" y="1622.1" style="font-family:'Liberation Serif', serif;font-size:13.7px" fill="#1A1A1A" text-anchor="middle" stroke="#1A1A1A" stroke-width="0.35">LLaMA2-7B</text>
<text x="3144.6" y="1622.1" style="font-family:'Liberation Serif', serif;font-size:13.7px" fill="#1A1A1A" text-anchor="middle" stroke="#1A1A1A" stroke-width="0.35">LLaMA-Adapter</text>
<text x="3259.8" y="1622.1" style="font-family:'Liberation Serif', serif;font-size:13.7px" fill="#1A1A1A" text-anchor="middle" stroke="#1A1A1A" stroke-width="0.35">257</text>
<text x="3338" y="1622.1" style="font-family:'Liberation Serif', serif;font-size:13.7px" fill="#1A1A1A" text-anchor="middle" stroke="#1A1A1A" stroke-width="0.35">224</text>
<text x="3407" y="1622.1" style="font-family:'Liberation Serif', serif;font-size:13.7px" fill="#1A1A1A" text-anchor="middle" stroke="#1A1A1A" stroke-width="0.35">-</text>
<text x="3481.5" y="1622.1" style="font-family:'Liberation Serif', serif;font-size:13.7px" fill="#1A1A1A" text-anchor="middle" stroke="#1A1A1A" stroke-width="0.35">41.0</text>
<text x="3563" y="1622.1" style="font-family:'Liberation Serif', serif;font-size:13.7px" fill="#1A1A1A" text-anchor="middle" stroke="#1A1A1A" stroke-width="0.35">31.4</text>
<text x="3655.6" y="1622.1" style="font-family:'Liberation Serif', serif;font-size:13.7px" fill="#1A1A1A" text-anchor="middle" stroke="#1A1A1A" stroke-width="0.35">-</text>
<text x="2803.2" y="1638.5" style="font-family:'Liberation Serif', serif;font-size:13.7px" fill="#1A1A1A" text-anchor="start" stroke="#1A1A1A" stroke-width="0.35">Shikra [<tspan fill="#3B7DC4" stroke="#3B7DC4">5</tspan>]</text>
<text x="3019" y="1638.5" style="font-family:'Liberation Serif', serif;font-size:13.7px" fill="#1A1A1A" text-anchor="middle" stroke="#1A1A1A" stroke-width="0.35">Vicuna-7B</text>
<text x="3144.6" y="1638.5" style="font-family:'Liberation Serif', serif;font-size:13.7px" fill="#1A1A1A" text-anchor="middle" stroke="#1A1A1A" stroke-width="0.35">MLP</text>
<text x="3259.8" y="1638.5" style="font-family:'Liberation Serif', serif;font-size:13.7px" fill="#1A1A1A" text-anchor="middle" stroke="#1A1A1A" stroke-width="0.35">257</text>
<text x="3338" y="1638.5" style="font-family:'Liberation Serif', serif;font-size:13.7px" fill="#1A1A1A" text-anchor="middle" stroke="#1A1A1A" stroke-width="0.35">224</text>
<text x="3407" y="1638.5" style="font-family:'Liberation Serif', serif;font-size:13.7px" fill="#1A1A1A" text-anchor="middle" stroke="#1A1A1A" stroke-width="0.35">-</text>
<text x="3481.5" y="1638.5" style="font-family:'Liberation Serif', serif;font-size:13.7px" fill="#1A1A1A" text-anchor="middle" stroke="#1A1A1A" stroke-width="0.35">58.8</text>
<text x="3563" y="1638.5" style="font-family:'Liberation Serif', serif;font-size:13.7px" fill="#1A1A1A" text-anchor="middle" stroke="#1A1A1A" stroke-width="0.35">-</text>
<text x="3655.6" y="1638.5" style="font-family:'Liberation Serif', serif;font-size:13.7px" fill="#1A1A1A" text-anchor="middle" stroke="#1A1A1A" stroke-width="0.35">-</text>
<text x="2803.2" y="1655.3" style="font-family:'Liberation Serif', serif;font-size:13.7px" fill="#1A1A1A" text-anchor="start" stroke="#1A1A1A" stroke-width="0.35">Qwen-VL [<tspan fill="#3B7DC4" stroke="#3B7DC4">1</tspan>]</text>
<text x="3019" y="1655.3" style="font-family:'Liberation Serif', serif;font-size:13.7px" fill="#1A1A1A" text-anchor="middle" stroke="#1A1A1A" stroke-width="0.35">Qwen-7B</text>
<text x="3144.6" y="1655.3" style="font-family:'Liberation Serif', serif;font-size:13.7px" fill="#1A1A1A" text-anchor="middle" stroke="#1A1A1A" stroke-width="0.35">Resampler</text>
<text x="3259.8" y="1655.3" style="font-family:'Liberation Serif', serif;font-size:13.7px" fill="#1A1A1A" text-anchor="middle" stroke="#1A1A1A" stroke-width="0.35">256</text>
<text x="3338" y="1655.3" style="font-family:'Liberation Serif', serif;font-size:13.7px" fill="#1A1A1A" text-anchor="middle" stroke="#1A1A1A" stroke-width="0.35">448</text>
<text x="3407" y="1655.3" style="font-family:'Liberation Serif', serif;font-size:13.7px" fill="#1A1A1A" text-anchor="middle" stroke="#1A1A1A" stroke-width="0.35">-</text>
<text x="3481.5" y="1655.3" style="font-family:'Liberation Serif', serif;font-size:13.7px" fill="#1A1A1A" text-anchor="middle" stroke="#1A1A1A" stroke-width="0.35">38.2</text>
<text x="3563" y="1655.3" style="font-family:'Liberation Serif', serif;font-size:13.7px" fill="#1A1A1A" text-anchor="middle" stroke="#1A1A1A" stroke-width="0.35">-</text>
<text x="3655.6" y="1655.3" style="font-family:'Liberation Serif', serif;font-size:13.7px" fill="#1A1A1A" text-anchor="middle" stroke="#1A1A1A" stroke-width="0.35">-</text>
<text x="2803.2" y="1671.7" style="font-family:'Liberation Serif', serif;font-size:13.7px" fill="#1A1A1A" text-anchor="start" stroke="#1A1A1A" stroke-width="0.35">Qwen-VL-Chat [<tspan fill="#3B7DC4" stroke="#3B7DC4">1</tspan>]</text>
<text x="3019" y="1671.7" style="font-family:'Liberation Serif', serif;font-size:13.7px" fill="#1A1A1A" text-anchor="middle" stroke="#1A1A1A" stroke-width="0.35">Qwen-7B</text>
<text x="3144.6" y="1671.7" style="font-family:'Liberation Serif', serif;font-size:13.7px" fill="#1A1A1A" text-anchor="middle" stroke="#1A1A1A" stroke-width="0.35">Resampler</text>
<text x="3259.8" y="1671.7" style="font-family:'Liberation Serif', serif;font-size:13.7px" fill="#1A1A1A" text-anchor="middle" stroke="#1A1A1A" stroke-width="0.35">256</text>
<text x="3338" y="1671.7" style="font-family:'Liberation Serif', serif;font-size:13.7px" fill="#1A1A1A" text-anchor="middle" stroke="#1A1A1A" stroke-width="0.35">448</text>
<text x="3407" y="1671.7" style="font-family:'Liberation Serif', serif;font-size:13.7px" fill="#1A1A1A" text-anchor="middle" stroke="#1A1A1A" stroke-width="0.35">-</text>
<text x="3481.5" y="1671.7" style="font-family:'Liberation Serif', serif;font-size:13.7px" fill="#1A1A1A" text-anchor="middle" stroke="#1A1A1A" stroke-width="0.35">60.6</text>
<text x="3563" y="1671.7" style="font-family:'Liberation Serif', serif;font-size:13.7px" fill="#1A1A1A" text-anchor="middle" stroke="#1A1A1A" stroke-width="0.35">-</text>
<text x="3655.6" y="1671.7" style="font-family:'Liberation Serif', serif;font-size:13.7px" fill="#1A1A1A" text-anchor="middle" stroke="#1A1A1A" stroke-width="0.35">-</text>
<line x1="2962.4" y1="1610" x2="2962.4" y2="1676" stroke="#666" stroke-width="1.1" />
<line x1="3076.8" y1="1610" x2="3076.8" y2="1676" stroke="#666" stroke-width="1.1" />
<line x1="3212.8" y1="1610" x2="3212.8" y2="1676" stroke="#666" stroke-width="1.1" />
<line x1="3307.1" y1="1610" x2="3307.1" y2="1676" stroke="#666" stroke-width="1.1" />
<line x1="3369.7" y1="1610" x2="3369.7" y2="1676" stroke="#666" stroke-width="1.1" />
<line x1="3607.9" y1="1610" x2="3607.9" y2="1676" stroke="#666" stroke-width="1.1" />
<line x1="2783" y1="1678.8" x2="3703" y2="1678.8" stroke="#777" stroke-width="1.6" />
<text x="2803.2" y="1695.1" style="font-family:'Liberation Serif', serif;font-size:13.7px" fill="#1A1A1A" text-anchor="start" stroke="#1A1A1A" stroke-width="0.35">LLaVA-1.5 [<tspan fill="#3B7DC4" stroke="#3B7DC4">35</tspan>]</text>
<text x="3019" y="1695.1" style="font-family:'Liberation Serif', serif;font-size:13.7px" fill="#1A1A1A" text-anchor="middle" stroke="#1A1A1A" stroke-width="0.35">Vicuna-7B</text>
<text x="3144.6" y="1695.1" style="font-family:'Liberation Serif', serif;font-size:13.7px" fill="#1A1A1A" text-anchor="middle" stroke="#1A1A1A" stroke-width="0.35">MLP</text>
<text x="3259.8" y="1695.1" style="font-family:'Liberation Serif', serif;font-size:13.7px" fill="#1A1A1A" text-anchor="middle" stroke="#1A1A1A" stroke-width="0.35">577</text>
<text x="3338" y="1695.1" style="font-family:'Liberation Serif', serif;font-size:13.7px" fill="#1A1A1A" text-anchor="middle" stroke="#1A1A1A" stroke-width="0.35">336</text>
<text x="3407" y="1695.1" style="font-family:'Liberation Serif', serif;font-size:13.7px" fill="#1A1A1A" text-anchor="middle" stroke="#1A1A1A" stroke-width="0.35">86.1</text>
<text x="3481.5" y="1695.1" style="font-family:'Liberation Serif', serif;font-size:13.7px" fill="#1A1A1A" text-anchor="middle" stroke="#1A1A1A" stroke-width="0.35">64.3</text>
<text x="3563" y="1695.1" style="font-family:'Liberation Serif', serif;font-size:13.7px" fill="#1A1A1A" text-anchor="middle" stroke="#1A1A1A" stroke-width="0.35">31.1</text>
<text x="3655.6" y="1695.1" style="font-family:'Liberation Serif', serif;font-size:13.7px" fill="#1A1A1A" text-anchor="middle" stroke="#1A1A1A" stroke-width="0.35">1.0×</text>
<line x1="2962.4" y1="1683" x2="2962.4" y2="1700" stroke="#666" stroke-width="1.1" />
<line x1="3076.8" y1="1683" x2="3076.8" y2="1700" stroke="#666" stroke-width="1.1" />
<line x1="3212.8" y1="1683" x2="3212.8" y2="1700" stroke="#666" stroke-width="1.1" />
<line x1="3307.1" y1="1683" x2="3307.1" y2="1700" stroke="#666" stroke-width="1.1" />
<line x1="3369.7" y1="1683" x2="3369.7" y2="1700" stroke="#666" stroke-width="1.1" />
<line x1="3607.9" y1="1683" x2="3607.9" y2="1700" stroke="#666" stroke-width="1.1" />
<line x1="2783" y1="1703" x2="3703" y2="1703" stroke="#777" stroke-width="1.6" />
<text x="2803.2" y="1718.6" style="font-family:'Liberation Serif', serif;font-size:13.7px" fill="#1A1A1A" text-anchor="start" stroke="#1A1A1A" stroke-width="0.35">LLaVA1.5+SEC (ours)</text>
<text x="3019" y="1718.6" style="font-family:'Liberation Serif', serif;font-size:13.7px" fill="#1A1A1A" text-anchor="middle" stroke="#1A1A1A" stroke-width="0.35">Vicuna-7B</text>
<text x="3144.6" y="1718.6" style="font-family:'Liberation Serif', serif;font-size:13.7px" fill="#1A1A1A" text-anchor="middle" stroke="#1A1A1A" stroke-width="0.35">MLP+SEC</text>
<text x="3259.8" y="1718.6" style="font-family:'Liberation Serif', serif;font-size:13.7px" fill="#1A1A1A" text-anchor="middle" stroke="#1A1A1A" stroke-width="0.35">145</text>
<text x="3338" y="1718.6" style="font-family:'Liberation Serif', serif;font-size:13.7px" fill="#1A1A1A" text-anchor="middle" stroke="#1A1A1A" stroke-width="0.35">336</text>
<text x="3407" y="1718.6" style="font-family:'Liberation Serif', serif;font-size:13.7px;font-weight:700" fill="#1A1A1A" text-anchor="middle" stroke="#1A1A1A" stroke-width="0.35">86.1</text>
<text x="3481.5" y="1718.6" style="font-family:'Liberation Serif', serif;font-size:13.7px;font-weight:700" fill="#1A1A1A" text-anchor="middle" stroke="#1A1A1A" stroke-width="0.35">68.4</text>
<text x="3563" y="1718.6" style="font-family:'Liberation Serif', serif;font-size:13.7px;font-weight:700" fill="#1A1A1A" text-anchor="middle" stroke="#1A1A1A" stroke-width="0.35">31.7</text>
<text x="3655.6" y="1718.6" style="font-family:'Liberation Serif', serif;font-size:13.7px;font-weight:700" fill="#1A1A1A" text-anchor="middle" stroke="#1A1A1A" stroke-width="0.35">2.1×</text>
<line x1="2962.4" y1="1707" x2="2962.4" y2="1723.5" stroke="#666" stroke-width="1.1" />
<line x1="3076.8" y1="1707" x2="3076.8" y2="1723.5" stroke="#666" stroke-width="1.1" />
<line x1="3212.8" y1="1707" x2="3212.8" y2="1723.5" stroke="#666" stroke-width="1.1" />
<line x1="3307.1" y1="1707" x2="3307.1" y2="1723.5" stroke="#666" stroke-width="1.1" />
<line x1="3369.7" y1="1707" x2="3369.7" y2="1723.5" stroke="#666" stroke-width="1.1" />
<line x1="3607.9" y1="1707" x2="3607.9" y2="1723.5" stroke="#666" stroke-width="1.1" />
<line x1="2783" y1="1726.1" x2="3703" y2="1726.1" stroke="#777" stroke-width="1.6" />
<text x="2803.2" y="1741.7" style="font-family:'Liberation Serif', serif;font-size:13.7px" fill="#1A1A1A" text-anchor="start" stroke="#1A1A1A" stroke-width="0.35">13B LLM</text>
<text x="2803.2" y="1758.9" style="font-family:'Liberation Serif', serif;font-size:13.7px" fill="#1A1A1A" text-anchor="start" stroke="#1A1A1A" stroke-width="0.35">MiniGPT-4 [<tspan fill="#3B7DC4" stroke="#3B7DC4">60</tspan>]</text>
<text x="3019" y="1758.9" style="font-family:'Liberation Serif', serif;font-size:13.7px" fill="#1A1A1A" text-anchor="middle" stroke="#1A1A1A" stroke-width="0.35">Vicuna-13B</text>
<text x="3144.6" y="1758.9" style="font-family:'Liberation Serif', serif;font-size:13.7px" fill="#1A1A1A" text-anchor="middle" stroke="#1A1A1A" stroke-width="0.35">Resampler</text>
<text x="3259.8" y="1758.9" style="font-family:'Liberation Serif', serif;font-size:13.7px" fill="#1A1A1A" text-anchor="middle" stroke="#1A1A1A" stroke-width="0.35">32</text>
<text x="3338" y="1758.9" style="font-family:'Liberation Serif', serif;font-size:13.7px" fill="#1A1A1A" text-anchor="middle" stroke="#1A1A1A" stroke-width="0.35">224</text>
<text x="3407" y="1758.9" style="font-family:'Liberation Serif', serif;font-size:13.7px" fill="#1A1A1A" text-anchor="middle" stroke="#1A1A1A" stroke-width="0.35">-</text>
<text x="3481.5" y="1758.9" style="font-family:'Liberation Serif', serif;font-size:13.7px" fill="#1A1A1A" text-anchor="middle" stroke="#1A1A1A" stroke-width="0.35">-</text>
<text x="3563" y="1758.9" style="font-family:'Liberation Serif', serif;font-size:13.7px" fill="#1A1A1A" text-anchor="middle" stroke="#1A1A1A" stroke-width="0.35">24.4</text>
<text x="3655.6" y="1758.9" style="font-family:'Liberation Serif', serif;font-size:13.7px" fill="#1A1A1A" text-anchor="middle" stroke="#1A1A1A" stroke-width="0.35">-</text>
<text x="2803.2" y="1775.3" style="font-family:'Liberation Serif', serif;font-size:13.7px" fill="#1A1A1A" text-anchor="start" stroke="#1A1A1A" stroke-width="0.35">BLIP-2 [<tspan fill="#3B7DC4" stroke="#3B7DC4">29</tspan>]</text>
<text x="3019" y="1775.3" style="font-family:'Liberation Serif', serif;font-size:13.7px" fill="#1A1A1A" text-anchor="middle" stroke="#1A1A1A" stroke-width="0.35">Vicuna-13B</text>
<text x="3144.6" y="1775.3" style="font-family:'Liberation Serif', serif;font-size:13.7px" fill="#1A1A1A" text-anchor="middle" stroke="#1A1A1A" stroke-width="0.35">Q-Former</text>
<text x="3259.8" y="1775.3" style="font-family:'Liberation Serif', serif;font-size:13.7px" fill="#1A1A1A" text-anchor="middle" stroke="#1A1A1A" stroke-width="0.35">32</text>
<text x="3338" y="1775.3" style="font-family:'Liberation Serif', serif;font-size:13.7px" fill="#1A1A1A" text-anchor="middle" stroke="#1A1A1A" stroke-width="0.35">224</text>
<text x="3407" y="1775.3" style="font-family:'Liberation Serif', serif;font-size:13.7px" fill="#1A1A1A" text-anchor="middle" stroke="#1A1A1A" stroke-width="0.35">85.3</text>
<text x="3481.5" y="1775.3" style="font-family:'Liberation Serif', serif;font-size:13.7px" fill="#1A1A1A" text-anchor="middle" stroke="#1A1A1A" stroke-width="0.35">-</text>
<text x="3563" y="1775.3" style="font-family:'Liberation Serif', serif;font-size:13.7px" fill="#1A1A1A" text-anchor="middle" stroke="#1A1A1A" stroke-width="0.35">22.4</text>
<text x="3655.6" y="1775.3" style="font-family:'Liberation Serif', serif;font-size:13.7px" fill="#1A1A1A" text-anchor="middle" stroke="#1A1A1A" stroke-width="0.35">-</text>
<line x1="2962.4" y1="1746" x2="2962.4" y2="1780" stroke="#666" stroke-width="1.1" />
<line x1="3076.8" y1="1746" x2="3076.8" y2="1780" stroke="#666" stroke-width="1.1" />
<line x1="3212.8" y1="1746" x2="3212.8" y2="1780" stroke="#666" stroke-width="1.1" />
<line x1="3307.1" y1="1746" x2="3307.1" y2="1780" stroke="#666" stroke-width="1.1" />
<line x1="3369.7" y1="1746" x2="3369.7" y2="1780" stroke="#666" stroke-width="1.1" />
<line x1="3607.9" y1="1746" x2="3607.9" y2="1780" stroke="#666" stroke-width="1.1" />
<line x1="2783" y1="1782.4" x2="3703" y2="1782.4" stroke="#777" stroke-width="1.6" />
<text x="2803.2" y="1798.8" style="font-family:'Liberation Serif', serif;font-size:13.7px" fill="#1A1A1A" text-anchor="start" stroke="#1A1A1A" stroke-width="0.35">LLaVA-1.5 [<tspan fill="#3B7DC4" stroke="#3B7DC4">35</tspan>]</text>
<text x="3019" y="1798.8" style="font-family:'Liberation Serif', serif;font-size:13.7px" fill="#1A1A1A" text-anchor="middle" stroke="#1A1A1A" stroke-width="0.35">Vicuna-13B</text>
<text x="3144.6" y="1798.8" style="font-family:'Liberation Serif', serif;font-size:13.7px" fill="#1A1A1A" text-anchor="middle" stroke="#1A1A1A" stroke-width="0.35">MLP</text>
<text x="3259.8" y="1798.8" style="font-family:'Liberation Serif', serif;font-size:13.7px" fill="#1A1A1A" text-anchor="middle" stroke="#1A1A1A" stroke-width="0.35">577</text>
<text x="3338" y="1798.8" style="font-family:'Liberation Serif', serif;font-size:13.7px" fill="#1A1A1A" text-anchor="middle" stroke="#1A1A1A" stroke-width="0.35">336</text>
<text x="3407" y="1798.8" style="font-family:'Liberation Serif', serif;font-size:13.7px" fill="#1A1A1A" text-anchor="middle" stroke="#1A1A1A" stroke-width="0.35">86.2</text>
<text x="3481.5" y="1798.8" style="font-family:'Liberation Serif', serif;font-size:13.7px" fill="#1A1A1A" text-anchor="middle" stroke="#1A1A1A" stroke-width="0.35">67.7</text>
<text x="3563" y="1798.8" style="font-family:'Liberation Serif', serif;font-size:13.7px" fill="#1A1A1A" text-anchor="middle" stroke="#1A1A1A" stroke-width="0.35">36.1</text>
<text x="3655.6" y="1798.8" style="font-family:'Liberation Serif', serif;font-size:13.7px" fill="#1A1A1A" text-anchor="middle" stroke="#1A1A1A" stroke-width="0.35">1.0×</text>
<line x1="2962.4" y1="1787" x2="2962.4" y2="1804" stroke="#666" stroke-width="1.1" />
<line x1="3076.8" y1="1787" x2="3076.8" y2="1804" stroke="#666" stroke-width="1.1" />
<line x1="3212.8" y1="1787" x2="3212.8" y2="1804" stroke="#666" stroke-width="1.1" />
<line x1="3307.1" y1="1787" x2="3307.1" y2="1804" stroke="#666" stroke-width="1.1" />
<line x1="3369.7" y1="1787" x2="3369.7" y2="1804" stroke="#666" stroke-width="1.1" />
<line x1="3607.9" y1="1787" x2="3607.9" y2="1804" stroke="#666" stroke-width="1.1" />
<line x1="2783" y1="1807" x2="3703" y2="1807" stroke="#777" stroke-width="1.6" />
<text x="2803.2" y="1822.6" style="font-family:'Liberation Serif', serif;font-size:13.7px" fill="#1A1A1A" text-anchor="start" stroke="#1A1A1A" stroke-width="0.35">LLaVA-1.5+SEC (ours)</text>
<text x="3019" y="1822.6" style="font-family:'Liberation Serif', serif;font-size:13.7px" fill="#1A1A1A" text-anchor="middle" stroke="#1A1A1A" stroke-width="0.35">Vicuna-13B</text>
<text x="3144.6" y="1822.6" style="font-family:'Liberation Serif', serif;font-size:13.7px" fill="#1A1A1A" text-anchor="middle" stroke="#1A1A1A" stroke-width="0.35">MLP+SEC</text>
<text x="3259.8" y="1822.6" style="font-family:'Liberation Serif', serif;font-size:13.7px" fill="#1A1A1A" text-anchor="middle" stroke="#1A1A1A" stroke-width="0.35">145</text>
<text x="3338" y="1822.6" style="font-family:'Liberation Serif', serif;font-size:13.7px" fill="#1A1A1A" text-anchor="middle" stroke="#1A1A1A" stroke-width="0.35">336</text>
<text x="3407" y="1822.6" style="font-family:'Liberation Serif', serif;font-size:13.7px;font-weight:700" fill="#1A1A1A" text-anchor="middle" stroke="#1A1A1A" stroke-width="0.35">86.4</text>
<text x="3481.5" y="1822.6" style="font-family:'Liberation Serif', serif;font-size:13.7px;font-weight:700" fill="#1A1A1A" text-anchor="middle" stroke="#1A1A1A" stroke-width="0.35">69.2</text>
<text x="3563" y="1822.6" style="font-family:'Liberation Serif', serif;font-size:13.7px;font-weight:700" fill="#1A1A1A" text-anchor="middle" stroke="#1A1A1A" stroke-width="0.35">37.3</text>
<text x="3655.6" y="1822.6" style="font-family:'Liberation Serif', serif;font-size:13.7px;font-weight:700" fill="#1A1A1A" text-anchor="middle" stroke="#1A1A1A" stroke-width="0.35">2.2×</text>
<line x1="2962.4" y1="1811" x2="2962.4" y2="1827" stroke="#666" stroke-width="1.1" />
<line x1="3076.8" y1="1811" x2="3076.8" y2="1827" stroke="#666" stroke-width="1.1" />
<line x1="3212.8" y1="1811" x2="3212.8" y2="1827" stroke="#666" stroke-width="1.1" />
<line x1="3307.1" y1="1811" x2="3307.1" y2="1827" stroke="#666" stroke-width="1.1" />
<line x1="3369.7" y1="1811" x2="3369.7" y2="1827" stroke="#666" stroke-width="1.1" />
<line x1="3607.9" y1="1811" x2="3607.9" y2="1827" stroke="#666" stroke-width="1.1" />
</svg>
</body></html>
